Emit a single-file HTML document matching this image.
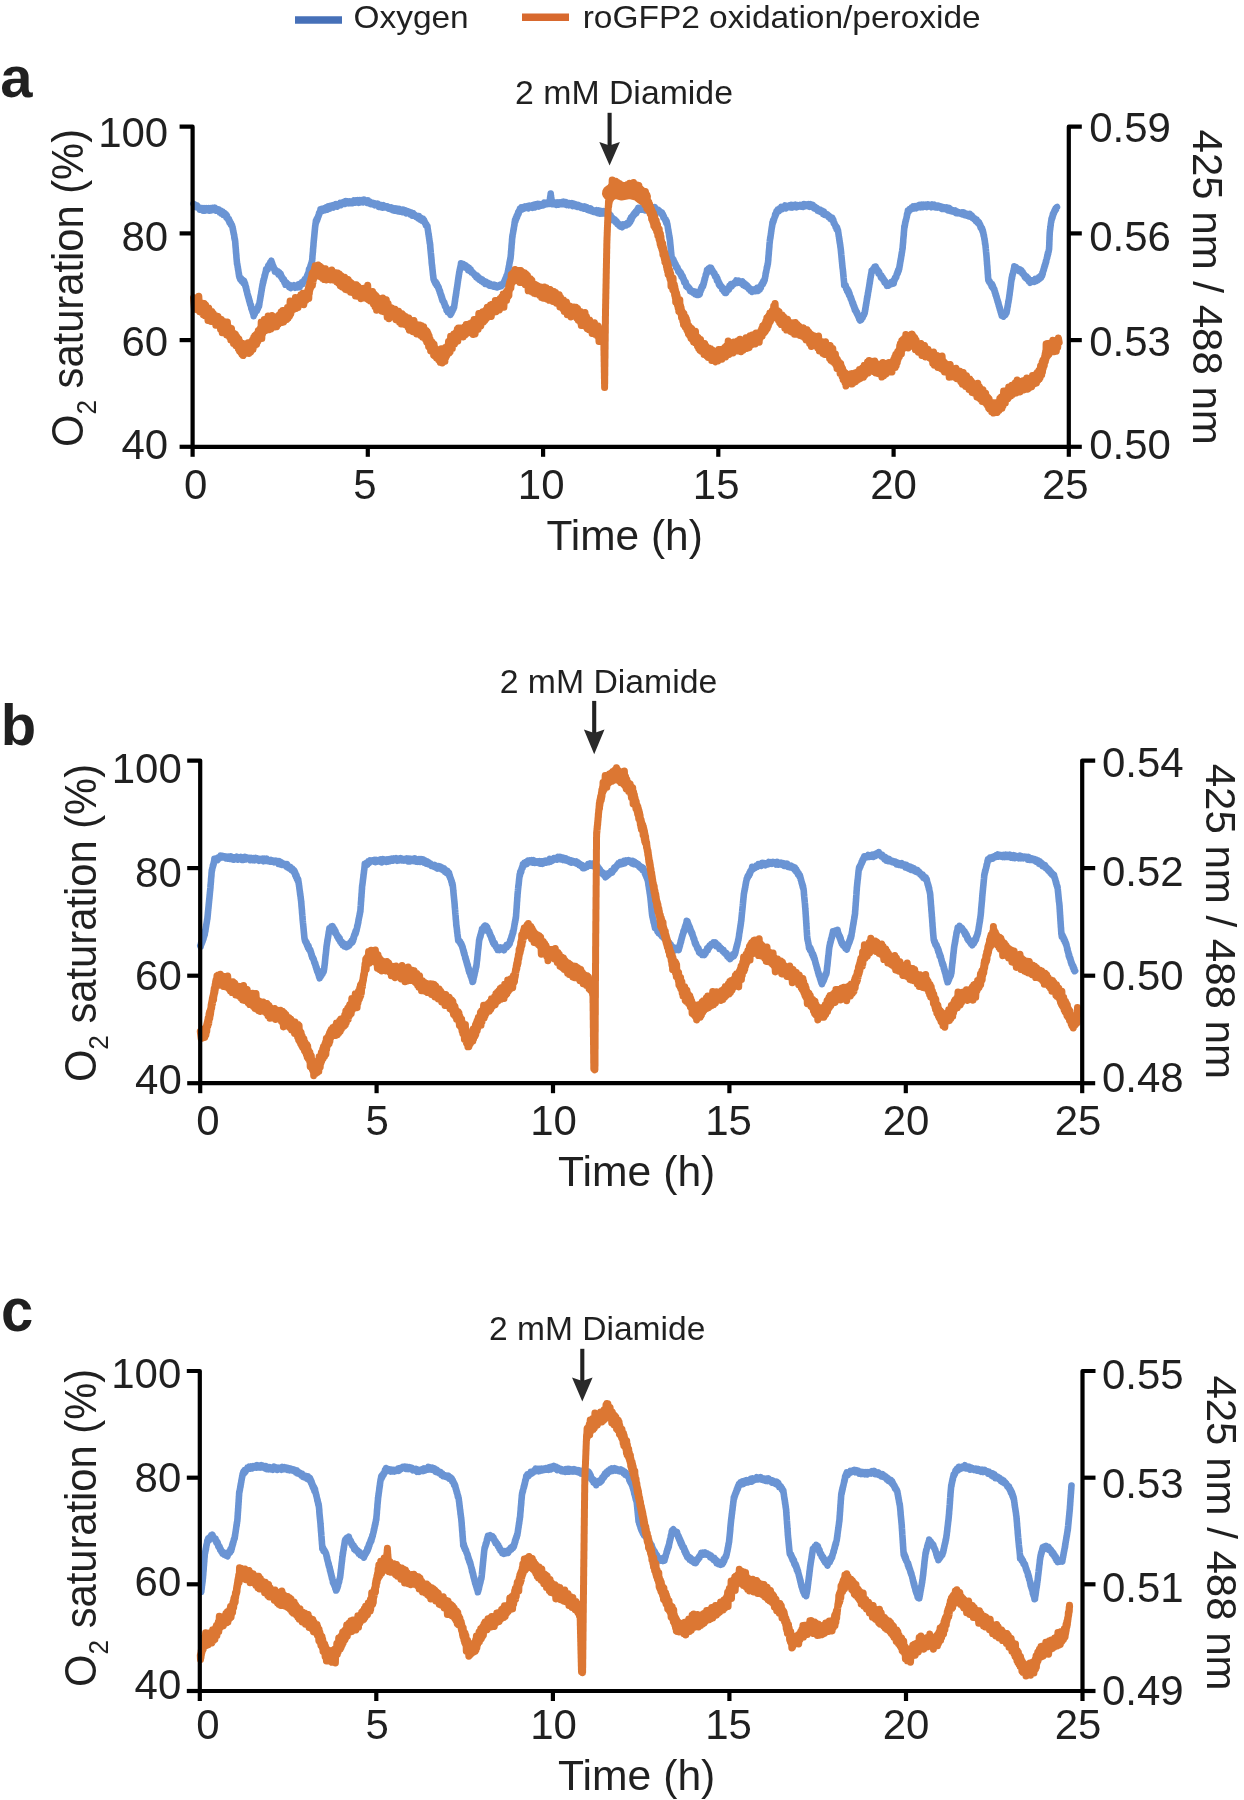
<!DOCTYPE html><html><head><meta charset="utf-8"><style>html,body{margin:0;padding:0;background:#fff;}svg{display:block;} svg text{filter:grayscale(1);}</style></head><body>
<svg width="1244" height="1800" viewBox="0 0 1244 1800">
<rect width="1244" height="1800" fill="#fff"/>
<line x1="295" y1="20" x2="342" y2="20" stroke="#4670b8" stroke-width="7.6"/>
<text transform="translate(411.1,28.4) scale(1.045,1)" font-size="32" text-anchor="middle" fill="#231f20" font-family="Liberation Sans, sans-serif">Oxygen</text>
<line x1="522" y1="17.2" x2="569" y2="17.2" stroke="#d8692e" stroke-width="7.6"/>
<text transform="translate(781.7,28.4) scale(1.046,1)" font-size="32" text-anchor="middle" fill="#231f20" font-family="Liberation Sans, sans-serif">roGFP2 oxidation/peroxide</text>
<text transform="translate(0.2,97) scale(1,1)" font-size="58" font-weight="bold" fill="#231f20" font-family="Liberation Sans, sans-serif">a</text>
<path d="M193.5,203.8 L194.4,206.1 L195.3,204.7 L196.2,207.2 L197.1,205.5 L198.0,207.6 L198.8,207.3 L199.7,209.6 L200.6,208.0 L201.5,209.9 L202.4,208.2 L203.4,210.7 L204.4,208.2 L205.5,210.5 L206.5,208.3 L207.5,210.0 L208.6,208.2 L209.6,210.7 L210.6,208.2 L211.7,210.4 L212.7,207.8 L213.7,209.5 L214.8,207.6 L215.7,210.5 L216.7,209.1 L217.7,210.8 L218.6,209.4 L219.6,212.3 L220.5,210.5 L221.5,213.7 L222.5,211.5 L223.4,214.8 L224.4,212.9 L225.4,215.6 L225.9,214.2 L226.4,217.5 L226.9,215.4 L227.4,218.3 L227.9,218.1 L228.4,220.2 L228.9,218.8 L229.4,222.2 L229.9,221.0 L230.4,223.8 L230.9,222.9 L231.4,225.7 L231.9,224.9 L232.4,227.2 L232.6,227.0 L232.8,229.4 L233.0,229.0 L233.2,231.5 L233.4,230.9 L233.6,233.5 L233.8,233.0 L234.0,235.0 L234.2,234.9 L234.3,237.6 L234.5,236.9 L234.7,239.4 L234.9,239.1 L235.1,240.9 L235.2,241.4 L235.3,243.1 L235.4,243.6 L235.4,244.9 L235.5,245.5 L235.6,247.2 L235.7,247.7 L235.8,249.2 L235.9,249.6 L235.9,251.0 L236.0,251.7 L236.1,253.2 L236.2,253.5 L236.3,255.0 L236.4,255.6 L236.4,257.0 L236.5,257.6 L236.6,259.1 L236.7,259.5 L236.8,261.3 L236.9,261.4 L237.0,263.7 L237.2,263.5 L237.4,265.1 L237.5,265.3 L237.7,267.1 L237.9,267.6 L238.0,269.3 L238.2,269.3 L238.4,271.2 L238.5,271.7 L238.7,273.6 L238.9,273.5 L239.0,275.6 L239.2,275.2 L239.4,277.3 L239.5,276.9 L240.3,279.7 L241.0,278.2 L241.8,281.3 L242.5,279.8 L243.3,282.8 L244.1,280.9 L244.8,283.9 L245.1,283.5 L245.3,286.1 L245.6,285.7 L245.8,287.8 L246.1,287.1 L246.3,290.0 L246.6,289.5 L246.8,291.6 L247.1,291.6 L247.3,294.1 L247.6,294.0 L247.9,296.1 L248.1,295.5 L248.4,297.7 L248.7,297.3 L249.0,300.1 L249.2,299.2 L249.5,302.0 L249.8,301.2 L250.1,304.3 L250.4,303.8 L250.7,305.6 L251.0,305.1 L251.3,308.5 L251.6,307.5 L251.9,309.9 L252.2,309.1 L252.5,311.8 L252.8,311.3 L253.1,313.7 L253.4,313.3 L253.7,316.1 L254.2,313.4 L254.7,314.1 L255.3,311.0 L255.8,311.9 L256.3,309.5 L256.9,311.0 L257.4,308.1 L257.9,308.6 L258.4,305.7 L259.0,306.5 L259.1,304.9 L259.3,304.6 L259.5,302.5 L259.6,302.4 L259.8,300.7 L260.0,300.5 L260.2,298.4 L260.3,298.5 L260.5,296.4 L260.7,296.4 L260.8,294.7 L261.0,294.6 L261.2,292.3 L261.3,292.5 L261.5,290.7 L261.7,290.3 L261.8,288.5 L262.0,288.3 L262.2,286.3 L262.3,286.6 L262.5,284.5 L262.8,284.5 L263.0,281.9 L263.3,282.8 L263.5,279.9 L263.8,280.5 L264.0,278.5 L264.3,278.4 L264.5,275.9 L264.8,276.4 L265.0,274.2 L265.3,274.5 L265.5,272.2 L265.8,272.5 L266.1,269.3 L266.6,270.5 L267.1,268.6 L267.6,269.7 L268.2,265.8 L268.7,268.0 L269.2,264.6 L269.8,266.2 L270.3,262.2 L270.8,263.5 L271.4,260.7 L271.7,264.3 L272.1,262.7 L272.5,265.9 L272.9,265.1 L273.3,267.7 L273.7,267.2 L274.1,269.3 L274.5,268.7 L274.9,271.5 L275.8,270.0 L276.7,272.4 L277.5,271.1 L278.4,274.4 L279.3,272.2 L280.2,275.8 L280.7,273.7 L281.3,277.2 L281.8,276.6 L282.3,279.2 L282.8,278.2 L283.4,280.4 L283.9,279.3 L284.4,282.4 L285.0,281.4 L285.5,284.7 L286.4,282.6 L287.3,285.2 L288.1,284.2 L289.0,287.0 L289.9,285.2 L290.8,288.1 L291.9,285.8 L293.0,287.1 L294.1,285.3 L295.2,287.7 L296.3,285.6 L297.4,287.4 L298.5,284.4 L299.6,287.2 L300.4,283.6 L301.1,284.7 L301.8,282.3 L302.5,284.1 L303.2,281.4 L303.9,281.8 L304.6,279.5 L305.3,280.5 L306.0,277.8 L306.7,278.8 L307.1,275.6 L307.4,276.3 L307.7,274.4 L308.0,274.4 L308.4,272.4 L308.7,272.3 L309.0,269.4 L309.4,271.2 L309.7,268.4 L310.0,268.8 L310.4,266.2 L310.7,266.6 L311.0,264.1 L311.4,265.0 L311.7,261.9 L312.0,262.1 L312.1,260.7 L312.2,260.1 L312.3,258.8 L312.4,258.2 L312.4,256.6 L312.5,256.1 L312.6,254.7 L312.7,254.0 L312.8,252.6 L312.9,252.1 L313.0,250.5 L313.0,250.1 L313.1,248.5 L313.2,248.1 L313.3,246.6 L313.4,246.0 L313.5,244.6 L313.5,244.1 L313.6,242.6 L313.7,242.1 L313.8,240.5 L313.9,240.0 L314.0,238.4 L314.1,238.0 L314.2,236.5 L314.3,235.9 L314.4,234.3 L314.5,233.9 L314.6,232.0 L314.7,231.7 L314.8,229.9 L314.9,229.7 L315.0,228.1 L315.1,227.5 L315.2,226.0 L315.4,225.6 L315.5,223.8 L315.6,224.5 L315.9,220.8 L316.3,222.4 L316.7,219.0 L317.1,220.4 L317.5,217.8 L317.8,218.5 L318.2,216.0 L318.6,216.1 L319.0,213.2 L319.4,214.0 L319.7,212.1 L320.1,212.2 L320.5,209.3 L320.9,210.4 L321.9,209.1 L323.0,210.7 L324.1,208.4 L325.1,210.1 L326.2,207.3 L327.2,209.6 L328.3,206.4 L329.4,208.8 L330.4,206.0 L331.5,207.6 L332.4,205.5 L333.4,207.5 L334.3,204.9 L335.3,206.3 L336.2,204.1 L337.2,206.6 L338.1,204.3 L339.1,205.2 L340.1,203.0 L341.0,205.1 L342.0,202.7 L342.9,203.7 L343.9,202.0 L344.9,203.8 L345.9,201.2 L346.9,203.3 L347.9,201.5 L348.9,203.2 L349.9,201.4 L350.9,203.0 L351.9,201.5 L353.0,203.0 L354.0,200.3 L355.0,202.7 L356.0,200.4 L357.0,202.2 L358.0,200.3 L359.0,202.8 L360.0,200.2 L361.0,202.3 L362.0,200.2 L363.1,202.3 L364.1,199.6 L365.1,201.5 L366.0,200.8 L367.0,202.9 L368.0,200.4 L368.9,203.3 L369.9,201.6 L370.9,204.1 L371.8,202.6 L372.8,204.2 L373.8,203.2 L374.7,205.3 L375.7,203.7 L376.7,205.4 L377.7,203.7 L378.6,206.8 L379.6,204.7 L380.6,207.0 L381.6,205.1 L382.6,207.6 L383.6,205.3 L384.5,207.4 L385.5,206.3 L386.5,207.6 L387.5,206.5 L388.5,208.5 L389.4,207.3 L390.4,209.0 L391.4,207.6 L392.4,210.0 L393.4,208.3 L394.4,210.7 L395.3,208.4 L396.3,210.7 L397.3,208.8 L398.3,211.4 L399.2,208.8 L400.2,211.5 L401.2,209.7 L402.2,212.1 L403.2,209.6 L404.1,212.2 L405.1,210.2 L406.1,213.3 L407.1,211.0 L408.2,213.0 L409.3,212.0 L410.2,214.4 L411.2,212.4 L412.1,215.6 L413.1,213.1 L414.0,215.7 L415.0,214.9 L415.9,216.7 L416.9,215.9 L417.9,218.2 L418.9,216.1 L420.0,219.5 L421.0,217.8 L422.0,220.5 L423.0,218.7 L423.5,221.3 L424.1,220.0 L424.6,222.7 L425.2,222.5 L425.8,225.3 L426.3,224.1 L426.9,226.5 L427.4,226.1 L427.6,228.2 L427.7,228.5 L427.9,230.1 L428.0,230.3 L428.2,232.2 L428.3,232.5 L428.5,234.4 L428.7,234.2 L428.8,236.3 L429.0,236.5 L429.1,238.3 L429.3,238.7 L429.4,240.6 L429.6,240.9 L429.7,242.8 L429.9,242.5 L430.1,244.4 L430.2,244.9 L430.2,246.5 L430.3,247.0 L430.4,248.7 L430.5,249.2 L430.6,250.7 L430.7,251.1 L430.8,252.8 L430.9,253.3 L431.0,254.8 L431.1,255.1 L431.2,256.9 L431.3,257.3 L431.4,258.7 L431.5,259.3 L431.6,260.9 L431.6,261.3 L431.7,263.0 L431.8,263.3 L431.9,264.9 L432.1,265.3 L432.2,267.1 L432.3,267.5 L432.4,269.2 L432.5,269.3 L432.6,270.9 L432.7,271.2 L432.8,272.9 L432.9,273.4 L433.0,275.1 L433.2,275.3 L433.3,277.0 L433.4,277.3 L433.5,279.0 L433.6,278.9 L434.2,281.1 L434.7,280.9 L435.3,283.5 L435.8,281.9 L436.4,285.1 L436.9,283.7 L437.5,286.7 L438.0,286.0 L438.4,288.5 L438.7,287.2 L439.0,290.0 L439.4,289.5 L439.7,292.2 L440.1,291.1 L440.4,294.2 L440.7,293.5 L441.1,296.2 L441.4,295.2 L441.8,298.5 L442.1,297.3 L442.4,300.5 L442.8,299.5 L443.2,301.7 L443.6,301.5 L444.0,303.5 L444.4,302.6 L444.9,306.1 L445.3,305.2 L445.7,307.4 L446.1,306.9 L446.5,310.0 L446.9,308.3 L447.6,311.9 L448.3,310.4 L449.0,312.9 L449.7,312.4 L450.4,314.8 L450.9,312.2 L451.4,313.4 L451.9,310.8 L452.4,311.3 L452.9,308.4 L453.4,309.3 L453.9,307.3 L454.1,307.5 L454.3,305.2 L454.4,305.2 L454.6,303.3 L454.7,303.2 L454.9,301.2 L455.0,301.4 L455.2,299.1 L455.3,298.9 L455.5,296.9 L455.7,296.9 L455.8,295.0 L456.0,295.0 L456.1,293.2 L456.3,292.9 L456.4,290.8 L456.6,290.7 L456.7,288.8 L456.9,288.6 L457.1,286.9 L457.2,286.6 L457.4,284.9 L457.5,284.5 L457.7,282.5 L457.8,282.4 L458.0,280.4 L458.1,280.6 L458.3,278.2 L458.5,278.0 L458.6,276.2 L458.8,276.2 L458.9,274.5 L459.1,274.0 L459.2,272.2 L459.5,271.9 L459.7,269.9 L459.9,270.6 L460.1,268.1 L460.3,268.6 L460.6,265.8 L460.8,266.0 L461.0,263.2 L462.1,266.2 L463.2,264.0 L464.3,267.2 L465.4,265.1 L466.3,267.9 L467.2,266.5 L468.1,270.1 L469.0,267.9 L469.9,271.0 L470.7,269.5 L471.5,272.5 L472.3,271.8 L473.0,273.5 L473.8,273.3 L474.5,275.2 L475.3,274.8 L476.1,277.1 L476.9,275.5 L477.8,278.5 L478.7,277.2 L479.6,279.9 L480.5,278.7 L481.4,281.0 L482.2,279.4 L483.1,282.3 L484.1,281.3 L485.1,283.9 L486.1,281.7 L487.2,284.3 L488.2,283.1 L489.2,285.5 L490.2,283.8 L491.2,285.9 L492.2,285.1 L493.2,286.4 L494.2,284.6 L495.2,286.8 L496.3,285.5 L497.3,287.4 L498.3,285.7 L499.4,286.6 L500.4,284.8 L501.5,285.9 L502.6,284.5 L503.1,284.5 L503.6,282.4 L504.0,283.0 L504.5,280.6 L505.0,280.5 L505.5,278.1 L506.0,279.0 L506.5,275.9 L507.0,276.4 L507.2,274.6 L507.4,274.7 L507.6,272.9 L507.8,273.1 L508.0,270.8 L508.2,270.5 L508.4,268.7 L508.6,268.6 L508.8,266.6 L509.0,266.8 L509.2,265.0 L509.3,264.6 L509.5,262.6 L509.7,262.8 L509.9,260.6 L510.1,261.0 L510.3,258.5 L510.5,258.6 L510.6,257.2 L510.7,256.6 L510.8,255.1 L510.9,254.7 L511.0,253.2 L511.0,252.5 L511.1,251.0 L511.2,250.7 L511.3,249.1 L511.4,248.4 L511.5,247.2 L511.5,246.4 L511.6,245.1 L511.7,244.4 L511.8,243.1 L511.9,242.5 L512.0,240.9 L512.0,240.4 L512.1,238.8 L512.2,238.5 L512.3,236.5 L512.5,236.9 L512.6,234.5 L512.8,234.4 L513.0,232.8 L513.1,232.8 L513.3,230.5 L513.5,230.5 L513.6,228.9 L513.8,229.0 L514.0,227.0 L514.1,226.7 L514.3,224.9 L514.5,224.9 L514.6,222.5 L514.8,222.6 L515.0,220.0 L515.4,221.6 L515.8,218.0 L516.2,219.5 L516.6,216.0 L517.0,217.4 L517.4,214.7 L517.8,215.3 L518.2,212.3 L518.6,213.7 L519.0,211.0 L519.4,211.4 L519.9,208.6 L520.3,210.0 L521.3,207.4 L522.3,209.3 L523.3,207.2 L524.3,208.5 L525.3,206.4 L526.3,207.8 L527.3,206.2 L528.4,208.3 L529.5,205.6 L530.5,207.1 L531.6,205.7 L532.6,207.7 L533.7,204.9 L534.8,207.4 L535.8,204.3 L536.9,206.5 L537.9,203.9 L539.0,206.5 L540.0,204.2 L541.1,205.6 L542.1,204.1 L543.2,205.3 L544.2,202.7 L545.3,204.5 L546.3,202.7 L547.3,204.1 L548.4,202.9 L549.4,203.7 L549.6,201.9 L549.7,201.3 L549.9,199.9 L550.0,199.5 L550.1,197.6 L550.3,197.2 L550.4,195.7 L550.5,195.6 L550.7,193.6 L550.8,195.4 L551.0,195.7 L551.1,197.7 L551.3,197.7 L551.5,199.9 L551.6,199.9 L551.8,201.7 L551.9,202.3 L552.1,204.1 L553.2,202.1 L554.2,204.0 L555.3,202.9 L556.3,204.8 L557.4,202.5 L558.5,204.5 L559.5,202.5 L560.6,203.9 L561.6,202.1 L562.7,204.1 L563.7,201.8 L564.8,204.3 L565.8,202.1 L566.8,205.0 L567.9,203.0 L568.9,205.2 L569.9,203.3 L571.0,205.0 L572.0,203.3 L573.0,206.0 L574.0,203.8 L575.1,206.0 L576.1,204.6 L577.2,206.9 L578.3,204.9 L579.3,206.9 L580.4,205.9 L581.4,207.9 L582.5,206.7 L583.6,208.6 L584.6,206.5 L585.7,208.9 L586.7,207.2 L587.7,209.9 L588.6,208.5 L589.6,210.4 L590.6,208.4 L591.6,211.2 L592.6,209.9 L593.5,211.7 L594.5,210.9 L595.6,212.3 L596.7,210.3 L597.8,213.2 L598.9,210.5 L600.0,213.7 L601.1,211.0 L602.3,213.6 L603.4,211.1 L604.6,213.3 L605.8,211.2 L607.1,214.5 L607.8,212.2 L608.5,215.5 L609.2,213.8 L609.9,216.8 L610.6,215.0 L611.3,218.8 L612.0,217.3 L612.7,220.2 L613.4,218.8 L614.1,220.6 L614.9,219.6 L615.7,222.3 L616.5,221.2 L617.3,224.0 L618.1,223.1 L618.9,225.5 L619.6,224.2 L620.4,226.5 L621.2,225.5 L622.2,227.2 L623.2,224.3 L624.3,225.9 L625.3,224.3 L626.3,225.2 L627.3,223.1 L628.3,224.2 L628.8,222.2 L629.4,223.2 L629.9,219.8 L630.4,221.7 L631.0,217.7 L631.5,219.8 L632.0,216.6 L632.5,217.2 L633.1,214.9 L633.6,215.8 L634.3,213.0 L634.9,214.3 L635.6,211.7 L636.3,213.2 L636.9,210.2 L637.6,211.1 L638.2,207.9 L638.9,210.0 L639.9,208.0 L640.9,209.6 L641.9,207.6 L643.0,209.6 L644.0,208.7 L645.0,210.4 L646.0,208.5 L647.1,210.0 L648.2,208.8 L649.3,209.8 L650.4,207.8 L651.5,209.9 L652.6,207.3 L653.7,210.1 L654.8,207.1 L655.7,209.6 L656.6,209.1 L657.5,210.7 L658.4,209.9 L659.2,212.2 L660.1,211.5 L661.0,213.6 L661.9,212.5 L662.4,214.8 L662.9,214.3 L663.3,217.3 L663.8,216.0 L664.3,218.6 L664.8,218.4 L665.3,220.7 L665.8,219.6 L666.2,222.9 L666.7,221.2 L667.2,224.3 L667.4,224.3 L667.5,225.9 L667.7,226.0 L667.9,228.3 L668.0,228.2 L668.2,230.3 L668.4,230.1 L668.5,232.0 L668.7,232.3 L668.9,233.8 L669.0,234.1 L669.2,236.4 L669.4,235.9 L669.5,238.1 L669.7,238.0 L669.9,240.1 L670.0,240.3 L670.1,242.0 L670.2,242.5 L670.3,244.1 L670.4,244.6 L670.5,246.0 L670.6,246.5 L670.7,248.4 L670.8,248.6 L670.9,250.2 L671.0,250.8 L671.1,252.3 L671.2,252.7 L671.3,254.4 L671.4,254.7 L671.5,256.4 L671.6,256.5 L672.1,259.2 L672.6,258.3 L673.1,261.6 L673.6,259.8 L674.1,263.7 L674.6,262.0 L675.1,264.6 L675.6,264.0 L676.0,267.2 L676.6,266.0 L677.1,268.6 L677.6,267.5 L678.2,271.1 L678.7,270.0 L679.2,272.6 L679.8,271.5 L680.3,274.2 L680.8,272.6 L681.4,276.5 L681.8,274.7 L682.3,277.5 L682.8,276.3 L683.3,279.4 L683.8,278.9 L684.2,282.1 L684.7,280.9 L685.2,283.4 L685.7,282.1 L686.2,286.1 L686.7,284.8 L687.3,287.2 L688.0,286.4 L688.6,288.4 L689.3,288.0 L690.0,291.0 L690.6,289.7 L691.3,291.7 L692.0,291.1 L693.0,292.6 L694.0,291.5 L695.0,294.2 L696.0,291.9 L697.0,294.8 L698.0,292.6 L699.0,294.8 L699.4,292.7 L699.8,294.0 L700.2,291.0 L700.6,291.3 L701.0,288.6 L701.5,289.3 L701.9,286.6 L702.3,287.1 L702.7,285.0 L703.1,286.3 L703.5,283.3 L703.8,284.0 L704.0,281.2 L704.3,282.0 L704.6,278.7 L704.9,279.6 L705.2,277.1 L705.5,277.0 L705.8,274.5 L706.1,275.0 L706.4,273.0 L706.7,273.6 L707.0,270.0 L707.7,271.2 L708.4,268.5 L709.1,270.3 L709.8,267.7 L710.5,268.4 L711.1,267.9 L711.6,271.2 L712.2,269.8 L712.7,272.0 L713.3,271.7 L713.8,273.7 L714.4,273.2 L715.0,276.4 L715.4,275.4 L715.9,277.5 L716.4,276.3 L716.9,280.4 L717.4,278.2 L717.8,281.4 L718.3,280.9 L718.8,284.2 L719.3,282.7 L719.8,285.8 L720.3,284.8 L720.9,286.9 L721.6,286.5 L722.2,289.5 L722.9,287.8 L723.6,291.1 L724.2,289.9 L724.9,292.8 L725.6,291.7 L726.2,292.8 L726.9,289.5 L727.6,290.6 L728.2,288.0 L728.9,289.7 L729.5,285.9 L730.2,287.1 L730.9,284.0 L731.8,286.4 L732.6,283.8 L733.5,284.5 L734.4,282.6 L735.3,283.1 L736.2,280.5 L737.2,282.9 L738.3,280.6 L739.4,282.6 L740.4,281.6 L741.5,283.5 L742.4,281.4 L743.2,285.1 L744.1,283.0 L745.0,286.0 L745.9,284.4 L746.8,287.0 L747.7,286.1 L748.5,288.8 L749.4,288.1 L750.3,290.5 L751.2,289.3 L752.1,291.9 L753.1,289.8 L754.1,291.1 L755.1,289.3 L756.1,291.0 L757.1,288.0 L758.1,290.9 L759.2,287.7 L759.7,289.6 L760.2,286.6 L760.8,288.0 L761.3,284.8 L761.8,285.2 L762.3,282.8 L762.9,284.2 L763.4,281.2 L763.9,282.3 L764.5,279.8 L764.7,280.2 L764.9,277.7 L765.1,277.9 L765.3,275.7 L765.5,276.2 L765.6,273.4 L765.8,274.0 L766.0,271.8 L766.2,272.1 L766.4,270.1 L766.6,270.0 L766.8,267.6 L767.0,268.2 L767.2,266.2 L767.4,266.3 L767.6,264.0 L767.8,264.4 L768.0,262.3 L768.1,261.7 L768.2,260.3 L768.3,259.9 L768.3,258.3 L768.4,257.9 L768.5,256.2 L768.6,255.7 L768.7,254.3 L768.8,253.7 L768.8,252.3 L768.9,251.7 L769.0,250.2 L769.1,249.8 L769.2,248.2 L769.3,247.6 L769.4,246.3 L769.4,245.6 L769.5,244.1 L769.6,243.6 L769.7,242.3 L769.8,241.8 L769.9,240.0 L770.1,239.5 L770.2,237.8 L770.4,237.9 L770.6,235.7 L770.7,235.7 L770.9,233.5 L771.0,233.7 L771.2,231.3 L771.3,231.4 L771.5,229.4 L771.6,229.1 L771.8,227.2 L772.0,227.2 L772.1,225.3 L772.3,225.4 L772.4,222.9 L772.8,223.3 L773.1,220.4 L773.4,221.9 L773.8,219.3 L774.1,219.3 L774.5,217.1 L774.8,217.4 L775.1,214.6 L775.5,215.7 L775.8,213.4 L776.2,214.1 L776.5,211.2 L776.9,212.2 L777.7,209.6 L778.6,211.4 L779.5,208.7 L780.4,209.6 L781.3,206.9 L782.2,209.2 L783.0,206.9 L783.9,207.8 L785.0,205.5 L786.0,208.3 L787.1,206.1 L788.2,206.9 L789.2,205.4 L790.3,207.2 L791.3,204.8 L792.4,207.5 L793.5,205.3 L794.5,206.9 L795.6,204.8 L796.7,207.3 L797.8,205.1 L798.9,206.5 L800.0,205.0 L801.0,206.6 L802.1,204.9 L803.1,206.8 L804.1,204.2 L805.1,206.2 L806.2,204.6 L807.3,205.9 L808.4,204.3 L809.5,206.7 L810.6,204.3 L811.7,206.7 L812.9,204.9 L814.0,208.3 L814.9,206.6 L815.8,208.8 L816.7,207.9 L817.6,210.7 L818.5,209.1 L819.4,211.3 L820.3,209.6 L821.2,212.1 L822.1,210.6 L823.0,214.0 L823.9,211.6 L824.8,214.9 L825.6,213.6 L826.5,215.3 L827.4,214.5 L828.3,216.8 L829.2,216.0 L830.1,218.6 L830.9,217.1 L831.8,219.7 L832.3,217.8 L832.8,220.8 L833.3,219.7 L833.7,223.0 L834.2,222.5 L834.7,224.7 L835.2,224.6 L835.6,227.0 L836.1,226.1 L836.6,229.3 L837.1,227.4 L837.5,230.3 L838.0,230.3 L838.2,232.2 L838.3,232.5 L838.5,234.2 L838.6,234.6 L838.8,236.5 L839.0,236.6 L839.1,238.3 L839.3,238.8 L839.4,240.5 L839.6,240.7 L839.7,242.5 L839.9,242.7 L840.1,244.6 L840.2,244.8 L840.4,246.9 L840.5,247.2 L840.7,248.9 L840.8,249.2 L840.9,250.9 L841.0,251.2 L841.1,253.0 L841.2,253.4 L841.3,254.8 L841.4,255.3 L841.5,257.2 L841.6,257.5 L841.7,259.2 L841.8,259.6 L841.9,261.3 L842.0,261.6 L842.1,263.2 L842.2,263.6 L842.3,265.5 L842.4,265.8 L842.5,267.6 L842.6,267.9 L842.8,269.4 L842.9,269.9 L843.0,271.5 L843.1,271.9 L843.2,273.7 L843.3,274.2 L843.4,275.8 L843.5,276.1 L843.6,277.8 L843.7,278.3 L843.8,280.0 L843.9,280.4 L844.0,282.0 L844.1,282.4 L844.2,285.2 L844.7,284.1 L845.2,286.2 L845.7,285.4 L846.1,288.7 L846.6,287.8 L847.1,291.0 L847.6,289.1 L848.1,292.6 L848.6,290.9 L849.0,294.8 L849.5,293.1 L849.9,296.1 L850.2,295.9 L850.6,298.5 L850.9,296.9 L851.3,299.9 L851.6,299.1 L852.0,302.1 L852.3,301.2 L852.7,304.1 L853.1,302.8 L853.4,305.6 L853.8,305.2 L854.1,307.7 L854.5,306.8 L854.8,309.8 L855.3,308.9 L855.7,311.3 L856.1,310.8 L856.6,313.3 L857.0,312.2 L857.5,314.8 L857.9,314.8 L858.4,317.2 L858.8,316.5 L859.2,319.1 L859.7,318.5 L860.1,320.6 L860.8,318.1 L861.4,319.8 L862.0,316.0 L862.7,317.5 L863.3,314.7 L863.9,315.2 L864.5,313.5 L864.7,313.2 L864.9,311.1 L865.1,311.1 L865.2,309.1 L865.4,309.3 L865.6,307.3 L865.7,307.1 L865.9,305.0 L866.1,305.1 L866.2,303.2 L866.4,303.2 L866.6,301.4 L866.7,301.0 L866.9,298.9 L867.1,299.4 L867.2,297.0 L867.4,297.4 L867.6,295.4 L867.8,295.3 L867.9,293.0 L868.1,292.9 L868.3,291.1 L868.4,291.4 L868.6,289.2 L868.8,289.2 L868.9,287.3 L869.1,287.2 L869.3,285.2 L869.4,285.0 L869.6,283.1 L869.8,283.2 L869.9,280.9 L870.1,281.0 L870.3,278.9 L870.4,278.9 L870.6,276.8 L870.8,276.8 L870.9,275.0 L871.1,275.0 L871.3,273.0 L871.5,272.7 L871.6,270.8 L872.3,271.7 L873.0,269.0 L873.7,270.1 L874.5,266.9 L875.2,268.5 L875.7,266.5 L876.3,270.0 L876.8,268.8 L877.4,271.0 L878.0,270.3 L878.5,273.6 L879.1,271.7 L879.7,274.7 L880.2,274.4 L880.8,277.4 L881.4,275.4 L882.0,278.6 L882.6,277.2 L883.2,280.0 L883.8,279.2 L884.4,282.3 L885.1,280.9 L885.7,283.5 L886.3,283.2 L886.9,285.8 L887.5,284.1 L888.4,285.6 L889.3,284.1 L890.2,284.5 L891.1,282.2 L892.0,283.9 L892.8,281.6 L893.7,283.6 L894.1,279.9 L894.5,280.8 L895.0,277.9 L895.4,278.6 L895.8,276.5 L896.2,277.5 L896.6,274.7 L897.0,274.8 L897.4,272.4 L897.8,273.3 L898.2,270.0 L898.6,271.1 L899.0,268.9 L899.2,269.0 L899.4,266.9 L899.5,267.1 L899.7,265.0 L899.9,265.0 L900.0,263.2 L900.2,263.0 L900.4,260.9 L900.6,260.9 L900.7,259.2 L900.9,259.0 L901.1,257.3 L901.2,256.9 L901.4,255.0 L901.6,255.0 L901.7,252.9 L901.9,252.8 L902.1,251.3 L902.2,250.7 L902.4,249.0 L902.6,248.6 L902.7,247.2 L902.7,246.6 L902.8,245.1 L902.9,244.7 L903.0,243.1 L903.1,242.7 L903.2,241.1 L903.2,240.6 L903.3,239.1 L903.4,238.4 L903.5,237.0 L903.6,236.6 L903.7,235.2 L903.8,234.7 L903.8,233.0 L903.9,232.6 L904.0,231.0 L904.1,230.4 L904.2,228.8 L904.3,228.4 L904.3,226.7 L904.6,227.3 L904.8,224.9 L905.0,224.9 L905.2,222.6 L905.4,222.7 L905.7,220.3 L905.9,220.8 L906.1,219.0 L906.3,218.9 L906.6,217.0 L906.8,217.1 L907.0,214.3 L907.2,215.2 L907.4,213.0 L907.7,213.1 L907.9,210.5 L908.8,211.5 L909.6,209.1 L910.5,209.8 L911.4,207.8 L912.3,208.8 L913.2,206.4 L914.2,208.3 L915.3,206.2 L916.4,208.2 L917.4,205.9 L918.5,206.9 L919.5,205.0 L920.6,207.3 L921.7,204.8 L922.7,207.1 L923.8,204.8 L924.9,206.5 L925.9,204.8 L927.0,207.0 L928.0,204.4 L929.1,206.4 L930.2,205.5 L931.2,207.2 L932.3,204.5 L933.3,206.9 L934.4,204.7 L935.4,207.3 L936.5,205.6 L937.5,207.6 L938.5,205.7 L939.6,207.5 L940.6,206.5 L941.6,208.8 L942.7,207.0 L943.7,208.9 L944.7,207.5 L945.7,209.2 L946.8,207.5 L948.0,210.4 L949.2,207.9 L950.2,210.8 L951.2,209.5 L952.2,211.3 L953.2,210.4 L954.2,211.9 L955.2,210.5 L956.2,213.0 L957.2,211.6 L958.2,213.2 L959.2,212.4 L960.8,213.8 L961.8,212.4 L962.8,214.4 L963.8,212.4 L964.8,215.2 L965.8,213.5 L966.8,215.5 L967.8,214.3 L968.8,216.3 L969.8,213.9 L970.9,216.8 L971.7,215.3 L972.5,218.0 L973.3,217.3 L974.1,219.2 L974.9,218.6 L975.7,221.0 L976.5,219.4 L977.3,222.4 L978.1,221.3 L978.6,223.7 L979.1,222.4 L979.6,225.2 L980.1,224.3 L980.5,227.2 L981.0,226.6 L981.5,229.1 L982.0,228.0 L982.5,231.2 L982.8,230.1 L983.1,232.8 L983.3,232.3 L983.6,235.5 L983.9,235.0 L984.1,237.3 L984.2,237.3 L984.4,239.2 L984.6,239.0 L984.7,240.9 L984.9,241.2 L985.0,243.4 L985.2,243.4 L985.4,245.2 L985.5,245.4 L985.6,247.1 L985.7,247.7 L985.8,249.1 L985.9,249.6 L986.0,251.3 L986.1,251.8 L986.2,253.3 L986.3,253.7 L986.4,255.3 L986.5,256.0 L986.6,257.6 L986.7,258.1 L986.7,259.5 L986.8,260.0 L986.9,261.5 L987.0,262.2 L987.0,263.7 L987.1,264.2 L987.2,265.5 L987.3,266.1 L987.4,267.6 L987.4,268.1 L987.5,269.6 L987.6,270.3 L987.7,271.7 L987.7,272.3 L987.8,273.8 L987.9,274.4 L988.0,275.8 L988.0,276.4 L988.1,277.9 L988.2,278.3 L988.3,280.2 L988.3,278.8 L988.9,281.6 L989.6,281.2 L990.2,283.5 L990.8,283.1 L991.4,286.1 L992.0,283.9 L992.6,287.8 L992.8,285.6 L993.2,288.2 L993.5,287.7 L993.9,290.0 L994.3,289.0 L994.7,292.2 L995.1,291.7 L995.5,294.8 L995.9,294.1 L996.3,297.2 L996.6,296.5 L996.9,299.1 L997.2,298.8 L997.5,301.5 L997.8,300.7 L998.1,303.1 L998.4,302.6 L998.7,305.5 L999.0,305.1 L999.3,307.2 L999.6,307.0 L999.8,309.3 L1000.1,308.6 L1000.5,311.6 L1000.8,311.4 L1001.1,313.6 L1001.4,313.5 L1001.7,315.6 L1002.0,314.9 L1003.4,316.6 L1004.4,314.1 L1005.4,314.9 L1006.4,312.7 L1006.6,312.7 L1006.9,310.1 L1007.1,310.2 L1007.3,308.0 L1007.4,307.7 L1007.6,306.1 L1007.8,306.1 L1008.0,303.8 L1008.2,303.7 L1008.3,301.7 L1008.5,301.9 L1008.7,299.7 L1008.9,299.6 L1009.1,297.7 L1009.2,297.2 L1009.4,295.4 L1009.6,294.8 L1009.7,293.0 L1009.8,292.7 L1010.0,291.0 L1010.1,290.8 L1010.2,289.1 L1010.4,288.9 L1010.5,287.0 L1010.6,286.8 L1010.8,284.9 L1010.9,284.7 L1011.0,282.8 L1011.1,282.3 L1011.3,280.7 L1011.4,281.0 L1011.7,277.9 L1012.0,278.6 L1012.2,275.4 L1012.5,275.7 L1012.7,273.7 L1013.0,273.6 L1013.3,271.2 L1013.5,271.7 L1013.8,269.1 L1014.0,269.8 L1014.3,266.2 L1014.9,269.2 L1015.9,267.0 L1017.0,269.9 L1018.0,268.7 L1019.1,271.0 L1020.1,269.5 L1020.7,271.3 L1021.4,270.2 L1022.0,273.1 L1022.7,272.0 L1023.3,274.4 L1024.0,274.1 L1024.6,276.9 L1025.2,275.9 L1025.9,278.2 L1026.6,276.4 L1027.3,279.3 L1028.1,278.1 L1028.8,281.4 L1029.5,279.7 L1030.2,282.9 L1031.3,280.1 L1032.3,281.5 L1033.3,280.3 L1034.4,281.8 L1035.4,278.9 L1036.4,281.0 L1037.5,279.0 L1038.2,279.9 L1038.9,277.2 L1039.6,278.9 L1040.4,276.2 L1041.1,277.7 L1041.8,275.3 L1042.1,275.9 L1042.4,272.7 L1042.7,274.1 L1043.0,271.3 L1043.2,271.5 L1043.5,269.5 L1043.8,270.3 L1044.1,267.2 L1044.4,267.8 L1044.7,265.2 L1045.0,266.2 L1045.3,263.5 L1045.6,263.9 L1045.9,261.1 L1046.1,262.3 L1046.4,259.8 L1046.6,259.7 L1046.9,257.3 L1047.1,258.3 L1047.3,255.6 L1047.6,256.1 L1047.8,253.4 L1048.1,254.2 L1048.3,252.0 L1048.6,251.9 L1048.8,250.0 L1049.0,249.7 L1049.1,248.5 L1049.1,247.8 L1049.2,246.4 L1049.2,245.7 L1049.3,244.4 L1049.3,243.6 L1049.3,242.3 L1049.4,241.6 L1049.4,240.3 L1049.5,239.6 L1049.5,238.3 L1049.5,237.5 L1049.6,236.2 L1049.6,235.5 L1049.7,234.2 L1049.7,233.4 L1049.8,232.0 L1049.9,231.6 L1050.0,229.8 L1050.2,229.4 L1050.3,227.9 L1050.4,227.3 L1050.6,225.6 L1050.7,225.4 L1050.8,223.8 L1050.9,223.1 L1051.1,221.6 L1051.2,222.1 L1051.5,218.9 L1051.8,219.6 L1052.1,217.0 L1052.5,217.7 L1052.8,214.4 L1053.1,215.6 L1053.4,213.1 L1053.9,213.5 L1054.4,210.7 L1054.9,211.2 L1055.4,208.5 L1056.0,209.7 L1056.5,207.2 L1057.0,207.0" fill="none" stroke="#6a94d4" stroke-width="6.6" stroke-linejoin="round" stroke-linecap="round"/>
<path d="M610.0,193.0 L615.0,190.5 L622.0,192.5 L630.0,191.0 L638.0,193.0 L643.0,197.0" fill="none" stroke="#dc7733" stroke-width="16" stroke-linejoin="round" stroke-linecap="round"/>
<path d="M193.5,297.8 L194.4,308.1 L195.3,298.1 L196.2,309.6 L197.1,300.3 L198.0,309.4 L198.8,296.2 L199.7,311.8 L200.6,303.4 L201.5,312.5 L202.4,303.3 L203.3,314.7 L204.2,303.5 L204.9,315.8 L205.7,304.9 L206.5,315.9 L207.2,308.3 L208.0,320.6 L208.8,307.9 L209.6,318.1 L210.3,311.9 L211.1,321.4 L211.9,311.6 L212.7,320.5 L213.4,313.4 L214.2,321.7 L215.0,315.7 L215.8,325.3 L216.5,315.9 L217.3,324.8 L218.1,316.6 L218.9,325.6 L219.7,319.4 L220.5,329.2 L221.4,319.6 L222.2,332.7 L223.0,321.4 L223.8,329.4 L224.6,321.8 L225.4,333.3 L226.1,324.4 L226.7,335.0 L227.4,321.9 L228.1,335.2 L228.8,327.1 L229.5,337.1 L230.1,329.6 L230.8,340.1 L231.5,328.6 L232.2,338.7 L232.8,333.0 L233.5,343.5 L234.2,333.5 L234.8,343.5 L235.4,334.3 L236.0,345.8 L236.6,336.2 L237.2,345.6 L237.7,337.9 L238.3,348.9 L238.9,338.9 L239.5,351.1 L240.1,341.8 L240.7,352.4 L241.3,344.8 L241.9,354.3 L242.5,343.3 L243.1,355.6 L244.1,345.2 L245.1,353.5 L246.1,346.4 L247.1,353.1 L248.1,342.8 L249.1,353.4 L250.1,343.3 L250.7,352.1 L251.3,342.0 L251.9,350.2 L252.5,340.0 L253.1,349.2 L253.7,337.4 L254.3,345.7 L254.8,335.7 L255.4,345.2 L256.0,334.7 L256.6,344.2 L257.2,333.3 L257.7,341.6 L258.2,330.8 L258.7,339.8 L259.2,329.9 L259.7,339.0 L260.2,328.4 L260.7,338.0 L261.2,321.9 L261.8,338.5 L262.3,325.1 L262.8,333.3 L263.3,323.8 L263.8,329.8 L264.3,319.5 L265.2,330.8 L266.2,321.3 L267.2,329.1 L268.1,316.1 L269.1,329.8 L270.1,319.0 L271.0,328.9 L272.0,315.6 L273.0,325.9 L273.9,316.6 L274.9,327.1 L275.8,318.0 L276.7,326.8 L277.5,317.2 L278.4,324.4 L279.3,314.8 L280.2,322.7 L281.1,312.1 L282.0,322.4 L282.8,310.5 L283.7,321.9 L284.6,311.5 L285.5,319.5 L286.2,309.8 L286.8,319.5 L287.5,307.6 L288.2,318.1 L288.8,307.0 L289.5,316.2 L290.1,301.1 L290.8,313.9 L291.5,304.4 L292.1,310.4 L292.8,302.1 L293.5,309.4 L294.1,300.6 L294.8,308.7 L295.4,297.5 L296.1,308.5 L297.1,297.8 L298.0,307.6 L299.0,297.9 L300.0,304.1 L300.9,294.8 L301.9,303.7 L302.9,293.3 L303.8,304.8 L304.8,293.3 L305.8,300.9 L306.7,292.8 L307.0,299.2 L307.3,291.4 L307.6,298.1 L307.9,289.8 L308.2,295.5 L308.5,287.3 L308.8,298.5 L309.1,285.9 L309.4,293.1 L309.7,283.1 L310.0,289.6 L310.3,282.1 L310.6,287.8 L310.8,279.2 L311.1,286.4 L311.4,277.2 L311.7,283.4 L312.0,273.7 L312.4,285.4 L312.7,272.8 L313.0,282.4 L313.3,272.8 L313.6,279.1 L314.0,270.9 L314.3,277.3 L314.6,267.9 L314.9,274.6 L315.2,265.7 L315.6,272.3 L316.4,266.1 L317.3,273.5 L318.2,265.0 L319.1,276.1 L320.0,266.2 L320.9,276.9 L321.8,267.7 L322.6,278.4 L323.5,270.1 L324.4,279.6 L325.5,268.7 L326.5,279.9 L327.6,270.9 L328.7,278.6 L329.7,272.1 L330.8,279.9 L331.8,269.9 L332.9,279.9 L334.0,272.4 L335.0,280.4 L335.9,272.8 L336.8,282.0 L337.7,273.0 L338.6,283.3 L339.4,273.9 L340.3,285.7 L341.2,275.7 L342.1,287.0 L343.0,277.2 L343.9,287.6 L344.7,277.2 L345.6,289.5 L346.5,279.3 L347.3,290.1 L348.1,279.6 L348.9,288.8 L349.8,281.6 L350.6,292.2 L351.4,283.0 L352.2,291.5 L353.1,284.7 L353.9,293.3 L354.7,284.7 L355.5,296.0 L356.4,284.7 L357.2,296.2 L358.0,286.2 L359.0,295.7 L360.0,287.9 L361.0,298.7 L361.9,289.2 L362.9,296.7 L363.9,288.3 L364.9,298.0 L365.9,290.6 L366.9,298.5 L367.7,285.2 L368.5,299.7 L369.3,292.5 L370.1,300.9 L370.9,292.7 L371.7,301.1 L372.6,291.6 L373.4,304.1 L374.2,293.9 L375.0,306.7 L375.8,295.5 L376.6,310.3 L377.5,297.5 L378.3,308.5 L379.2,298.6 L380.1,308.2 L381.0,300.5 L381.9,311.1 L382.8,298.1 L383.6,311.8 L384.5,303.4 L385.4,312.2 L386.3,299.8 L387.2,317.2 L388.1,303.4 L389.0,318.8 L389.8,307.7 L390.7,314.5 L391.6,307.6 L392.5,317.0 L393.4,309.4 L394.3,317.0 L395.1,309.2 L396.0,319.7 L396.9,311.0 L397.8,320.4 L398.7,311.2 L399.5,322.3 L400.4,314.7 L401.2,323.9 L402.1,313.7 L402.9,322.8 L403.8,315.4 L404.6,324.4 L405.5,316.4 L406.3,325.0 L407.1,318.9 L408.0,327.3 L408.8,318.0 L409.3,330.2 L410.2,320.0 L411.2,330.0 L412.1,321.2 L413.0,331.8 L414.0,320.6 L414.9,331.3 L415.8,324.5 L416.7,333.9 L417.7,324.8 L418.7,334.0 L419.7,324.9 L420.7,335.3 L421.7,325.7 L422.7,337.3 L423.7,326.8 L424.8,337.4 L425.2,330.0 L425.7,339.7 L426.2,330.6 L426.7,342.2 L427.2,331.5 L427.7,342.6 L428.1,333.5 L428.6,346.5 L429.1,335.7 L429.6,346.7 L430.1,338.9 L430.6,350.9 L431.1,341.2 L431.6,351.3 L432.1,342.1 L432.6,351.9 L433.1,343.5 L433.6,355.2 L434.1,344.3 L434.6,355.8 L435.1,347.8 L435.6,356.1 L436.1,349.6 L436.6,358.0 L437.1,350.6 L438.2,359.5 L439.2,353.1 L440.2,362.3 L441.3,348.8 L442.3,363.0 L443.3,352.7 L443.8,361.5 L444.4,350.7 L444.9,361.4 L445.4,347.6 L445.9,357.2 L446.4,348.8 L446.9,355.5 L447.5,346.0 L448.0,353.0 L448.5,341.5 L449.0,353.2 L449.5,340.9 L450.1,351.9 L450.6,336.3 L451.2,347.8 L451.7,335.9 L452.3,348.5 L452.8,337.5 L453.4,343.9 L453.9,334.1 L454.5,344.0 L455.0,334.2 L455.6,342.4 L456.1,332.4 L456.7,338.5 L457.3,329.3 L457.8,341.2 L458.4,328.1 L459.3,337.2 L460.3,327.9 L461.3,336.7 L462.3,327.9 L463.3,336.9 L464.3,326.9 L465.2,334.8 L466.2,324.5 L467.2,333.6 L468.2,326.0 L469.2,332.1 L470.1,323.5 L471.1,331.7 L472.1,322.6 L473.1,334.5 L474.1,319.4 L475.1,334.1 L476.1,320.9 L476.7,329.8 L477.4,318.9 L478.1,329.4 L478.8,313.5 L479.4,325.0 L480.1,314.9 L480.8,326.1 L481.5,314.2 L482.2,321.3 L482.8,311.7 L483.5,321.9 L484.2,312.2 L484.9,320.4 L485.7,310.2 L486.5,318.6 L487.3,307.2 L488.1,315.5 L488.9,308.4 L489.7,316.6 L490.5,305.1 L491.3,316.5 L492.1,304.2 L492.9,312.3 L493.7,304.8 L494.5,312.0 L495.3,300.6 L496.1,311.7 L496.9,301.4 L497.7,309.4 L498.6,300.1 L499.4,310.1 L500.2,298.6 L501.0,305.5 L501.8,296.7 L502.6,306.0 L503.2,294.0 L503.9,307.3 L504.6,294.2 L505.2,300.5 L505.9,292.3 L506.6,300.6 L507.2,290.7 L507.9,296.9 L508.1,290.6 L508.4,294.1 L508.6,286.9 L508.9,295.5 L509.1,284.4 L509.4,290.7 L509.6,282.4 L509.9,288.8 L510.1,281.0 L510.4,287.7 L510.7,279.8 L510.9,287.9 L511.2,274.6 L511.4,284.4 L512.1,274.0 L512.9,282.1 L513.6,272.2 L514.4,280.4 L515.1,269.4 L515.8,280.4 L516.8,270.8 L517.8,279.4 L518.8,270.6 L519.8,282.4 L520.8,270.5 L521.8,280.7 L522.8,272.2 L523.8,282.8 L524.5,272.8 L525.3,284.7 L526.0,273.9 L526.7,284.2 L527.5,275.5 L528.2,290.8 L529.0,280.0 L529.7,287.0 L530.4,278.8 L531.2,291.5 L531.9,280.2 L532.6,292.4 L533.5,284.0 L534.4,293.3 L535.3,284.4 L536.2,293.8 L537.1,285.6 L537.9,293.3 L538.8,286.4 L539.7,295.4 L540.6,287.1 L541.5,297.5 L542.4,287.5 L543.4,298.3 L544.4,287.1 L545.3,298.4 L546.3,287.7 L547.3,299.3 L548.2,290.7 L549.2,300.3 L550.2,289.5 L551.1,298.6 L552.1,292.4 L553.0,301.4 L553.9,291.4 L554.7,301.0 L555.6,292.4 L556.5,303.3 L557.4,294.5 L558.3,303.3 L559.2,294.8 L559.9,307.0 L560.6,297.3 L561.4,307.0 L562.1,300.0 L562.8,308.7 L563.6,300.1 L564.3,311.5 L565.1,302.9 L565.8,311.8 L566.5,302.0 L567.3,314.8 L568.0,305.7 L569.0,313.2 L570.0,305.9 L571.0,316.9 L571.9,307.5 L572.9,315.2 L573.9,306.9 L574.9,315.8 L575.9,307.3 L576.9,318.3 L577.6,308.4 L578.3,320.3 L579.1,310.9 L579.8,321.4 L580.5,311.4 L581.3,325.6 L582.0,313.2 L582.7,322.9 L583.5,316.5 L584.2,323.9 L585.0,312.5 L585.7,326.5 L586.5,316.6 L587.3,328.8 L588.1,320.7 L588.9,329.8 L589.7,320.0 L590.5,329.5 L591.3,323.0 L592.1,333.4 L592.9,323.4 L593.7,333.3 L594.5,322.7 L595.4,334.6 L596.3,325.5 L597.2,335.6 L598.1,326.0 L599.0,341.6 L599.8,329.5 L600.7,337.0 L601.6,328.9 L602.1,338.6 L602.7,330.8 L603.2,342.4 L603.7,337.8 L603.7,339.3 L603.8,339.8 L603.8,341.2 L603.8,341.7 L603.8,343.3 L603.8,343.8 L603.9,345.4 L603.9,345.8 L603.9,347.3 L603.9,347.8 L603.9,349.3 L603.9,349.8 L604.0,351.4 L604.0,351.8 L604.0,353.3 L604.0,353.9 L604.0,355.3 L604.1,355.9 L604.1,357.3 L604.1,357.8 L604.1,359.4 L604.1,359.8 L604.1,361.4 L604.2,362.0 L604.2,363.4 L604.2,363.8 L604.2,365.3 L604.2,366.0 L604.3,367.6 L604.3,367.9 L604.3,369.4 L604.3,370.0 L604.3,371.7 L604.3,371.9 L604.4,373.5 L604.4,374.0 L604.4,375.4 L604.4,375.9 L604.4,377.5 L604.4,377.9 L604.5,379.4 L604.5,380.0 L604.5,381.4 L604.5,382.1 L604.5,383.5 L604.6,384.0 L604.6,385.5 L604.6,386.0 L604.6,387.4 L604.6,386.2 L604.6,385.4 L604.6,384.1 L604.7,383.4 L604.7,382.1 L604.7,381.4 L604.7,380.1 L604.7,379.4 L604.7,378.0 L604.7,377.4 L604.7,375.9 L604.8,375.3 L604.8,373.8 L604.8,373.2 L604.8,372.0 L604.8,371.3 L604.8,369.9 L604.8,369.3 L604.8,367.9 L604.8,367.3 L604.9,365.9 L604.9,365.2 L604.9,363.8 L604.9,363.2 L604.9,361.9 L604.9,361.1 L604.9,359.8 L604.9,359.2 L605.0,357.8 L605.0,357.1 L605.0,355.7 L605.0,355.1 L605.0,353.7 L605.0,353.1 L605.0,351.7 L605.0,351.0 L605.0,349.7 L605.1,349.1 L605.1,347.6 L605.1,347.0 L605.1,345.6 L605.1,345.0 L605.1,343.6 L605.1,342.9 L605.1,341.6 L605.2,340.9 L605.2,339.6 L605.2,338.9 L605.2,337.5 L605.2,336.9 L605.2,335.5 L605.2,334.9 L605.2,333.5 L605.3,332.9 L605.3,331.5 L605.3,330.8 L605.3,329.5 L605.3,328.8 L605.3,327.5 L605.3,326.7 L605.3,325.4 L605.3,324.7 L605.4,323.3 L605.4,322.7 L605.4,321.4 L605.4,320.6 L605.4,319.3 L605.4,318.7 L605.4,317.3 L605.4,316.7 L605.5,315.2 L605.5,314.6 L605.5,313.3 L605.5,312.6 L605.5,311.2 L605.5,310.6 L605.5,309.2 L605.6,308.6 L605.6,307.1 L605.6,306.7 L605.6,305.1 L605.6,304.7 L605.7,303.1 L605.7,302.6 L605.7,301.1 L605.7,300.6 L605.7,299.0 L605.8,298.8 L605.8,297.1 L605.8,296.6 L605.8,295.0 L605.8,294.5 L605.9,293.0 L605.9,292.5 L605.9,291.0 L605.9,290.5 L605.9,288.9 L606.0,288.6 L606.0,286.9 L606.0,286.5 L606.0,285.0 L606.0,284.6 L606.1,282.9 L606.1,282.5 L606.1,280.8 L606.1,280.8 L606.1,278.9 L606.2,278.5 L606.2,276.8 L606.2,276.3 L606.2,275.0 L606.2,274.3 L606.3,272.9 L606.3,272.6 L606.3,270.9 L606.3,270.4 L606.3,268.8 L606.4,268.3 L606.4,266.9 L606.4,266.4 L606.4,264.7 L606.4,264.4 L606.5,262.7 L606.5,262.3 L606.5,260.7 L606.5,260.4 L606.5,258.7 L606.6,258.4 L606.6,256.7 L606.6,256.3 L606.6,254.8 L606.6,254.3 L606.7,252.7 L606.7,252.2 L606.7,250.6 L606.7,250.2 L606.7,248.8 L606.8,248.2 L606.8,246.6 L606.8,246.1 L606.8,244.6 L606.8,244.2 L606.9,242.6 L606.9,242.3 L606.9,240.2 L607.0,240.3 L607.0,238.5 L607.0,238.5 L607.1,236.3 L607.1,236.4 L607.2,234.3 L607.2,234.5 L607.2,232.3 L607.3,232.3 L607.3,229.9 L607.4,230.2 L607.4,228.2 L607.4,228.2 L607.5,225.9 L607.5,226.2 L607.6,224.1 L607.6,224.3 L607.6,222.1 L607.7,222.3 L607.7,220.2 L607.8,220.2 L607.8,218.1 L607.8,218.1 L607.9,216.0 L607.9,215.9 L608.0,214.0 L608.0,213.9 L608.0,212.0 L608.1,212.2 L608.1,209.7 L608.2,210.1 L608.2,207.7 L608.2,208.0 L608.3,205.6 L608.3,207.8 L608.5,201.2 L608.7,206.2 L608.9,200.3 L609.0,203.7 L609.2,197.4 L609.4,201.7 L609.6,195.9 L609.7,199.9 L609.9,193.5 L610.1,196.7 L610.3,191.3 L610.5,199.0 L611.0,186.4 L611.6,196.4 L612.2,179.9 L613.1,192.5 L614.0,184.2 L614.9,191.2 L615.8,181.2 L616.6,191.8 L617.6,182.4 L618.5,192.2 L619.4,183.5 L620.3,193.8 L621.2,184.8 L622.3,195.6 L623.3,185.7 L624.4,195.0 L625.5,185.2 L626.5,192.1 L627.5,184.4 L628.5,192.9 L629.6,183.2 L630.6,192.4 L631.6,183.4 L632.6,192.2 L633.6,182.6 L634.5,194.1 L635.4,185.1 L636.3,195.4 L637.1,184.9 L638.0,196.5 L638.9,185.5 L639.8,199.1 L640.7,189.1 L641.3,197.7 L641.9,190.3 L642.4,201.7 L643.0,193.0 L643.6,202.1 L644.2,192.3 L644.8,204.7 L645.4,191.5 L646.0,204.3 L646.4,196.7 L646.8,208.7 L647.2,200.2 L647.6,208.7 L648.0,201.2 L648.4,210.3 L648.8,202.0 L649.2,211.3 L649.7,204.3 L650.1,213.6 L650.5,206.7 L650.9,215.2 L651.3,208.6 L651.6,219.0 L652.0,210.2 L652.4,220.7 L652.7,213.1 L653.1,222.6 L653.4,213.1 L653.8,225.8 L654.1,215.8 L654.5,226.5 L654.8,216.8 L655.2,228.2 L655.5,220.9 L655.9,228.4 L656.2,220.5 L656.6,231.3 L656.9,223.4 L657.2,232.4 L657.5,224.7 L657.8,235.7 L658.1,229.5 L658.4,235.8 L658.7,229.1 L659.0,239.1 L659.2,228.9 L659.5,240.7 L659.8,232.6 L660.1,243.8 L660.4,233.7 L660.7,245.8 L661.0,236.8 L661.3,247.3 L661.6,241.1 L661.9,249.3 L662.2,243.4 L662.4,250.9 L662.7,243.5 L662.9,254.8 L663.2,246.5 L663.4,253.6 L663.7,248.3 L663.9,257.0 L664.2,250.9 L664.4,259.2 L664.7,252.2 L664.9,262.2 L665.2,253.9 L665.4,261.6 L665.7,256.9 L665.9,263.7 L666.2,257.7 L666.4,266.5 L666.7,261.5 L666.9,269.0 L667.2,260.9 L667.5,271.2 L667.8,263.2 L668.1,274.3 L668.4,265.7 L668.7,273.9 L669.0,269.3 L669.3,276.0 L669.6,269.9 L669.9,278.7 L670.1,271.6 L670.4,279.9 L670.7,273.4 L671.0,286.5 L671.3,276.9 L671.6,286.2 L671.9,278.2 L672.2,286.6 L672.5,280.3 L672.8,289.8 L673.1,278.0 L673.4,290.6 L673.7,284.6 L674.0,291.3 L674.3,284.4 L674.6,294.8 L674.9,287.1 L675.2,297.3 L675.5,290.0 L675.7,302.1 L676.0,291.9 L676.3,301.2 L676.6,293.3 L676.9,303.1 L677.2,295.7 L677.5,305.5 L677.8,298.2 L678.1,307.8 L678.5,299.2 L678.8,311.3 L679.1,301.3 L679.5,311.5 L679.8,299.7 L680.1,312.2 L680.5,305.5 L680.8,313.7 L681.1,307.4 L681.5,317.7 L681.8,310.5 L682.1,317.9 L682.5,312.0 L682.8,321.2 L683.1,312.8 L683.5,324.6 L683.9,313.4 L684.3,324.8 L684.8,317.6 L685.2,327.2 L685.6,317.0 L686.0,327.6 L686.4,318.8 L686.8,329.8 L687.2,321.2 L687.6,331.4 L688.0,324.7 L688.4,333.8 L689.1,326.1 L689.7,335.6 L690.4,327.7 L691.0,338.2 L691.6,328.4 L692.3,339.6 L692.9,331.9 L693.6,342.1 L694.2,331.6 L694.9,342.8 L695.5,331.2 L696.1,342.7 L696.8,336.6 L697.4,345.9 L698.1,337.5 L698.7,348.5 L699.4,339.0 L700.0,350.2 L700.6,339.6 L701.3,351.2 L701.9,343.1 L702.6,352.0 L703.3,343.3 L704.0,354.6 L704.7,343.5 L705.4,354.3 L706.1,346.0 L706.8,356.1 L707.5,348.5 L708.2,357.4 L708.9,347.9 L709.6,357.8 L710.7,348.8 L711.7,360.5 L712.7,350.3 L713.7,358.9 L714.7,352.2 L715.7,361.9 L716.7,353.1 L717.7,361.1 L718.7,349.5 L719.8,358.5 L720.8,349.6 L721.8,359.3 L722.8,349.4 L723.8,356.7 L724.7,347.4 L725.6,357.0 L726.4,346.0 L727.3,353.9 L728.2,341.1 L729.1,354.5 L730.0,343.6 L730.9,351.0 L731.9,343.0 L732.9,353.1 L733.9,342.0 L734.9,351.5 L735.9,342.7 L736.9,351.1 L737.9,340.8 L739.0,348.5 L740.0,339.2 L741.0,351.8 L742.0,340.6 L743.0,350.3 L744.0,340.5 L745.0,347.1 L746.0,337.7 L747.0,348.5 L748.0,337.9 L749.1,347.8 L750.1,335.7 L751.1,345.2 L752.1,335.1 L753.1,343.5 L754.1,334.7 L755.1,344.1 L756.1,332.9 L757.1,340.9 L758.1,333.3 L759.2,342.2 L759.7,332.4 L760.2,338.3 L760.7,331.1 L761.2,337.0 L761.7,328.8 L762.2,336.2 L762.7,326.0 L763.2,333.5 L763.7,325.3 L764.2,332.9 L764.7,324.0 L765.2,331.5 L765.7,321.4 L766.2,329.9 L766.8,318.0 L767.3,328.3 L767.8,317.1 L768.4,325.8 L768.9,315.4 L769.4,323.0 L769.9,313.1 L770.5,321.2 L771.0,313.0 L771.5,319.0 L772.2,310.8 L773.0,317.4 L773.7,306.1 L774.4,317.7 L775.1,303.5 L775.7,316.7 L776.4,310.8 L777.1,318.4 L777.7,310.7 L778.4,320.2 L779.1,311.8 L779.7,322.7 L780.4,315.3 L781.3,324.6 L782.2,315.1 L783.0,324.4 L783.9,317.0 L784.8,328.2 L785.7,318.8 L786.6,330.1 L787.5,319.2 L788.5,329.6 L789.5,322.2 L790.5,331.5 L791.5,322.8 L792.5,332.5 L793.5,322.7 L794.5,334.3 L795.4,322.6 L796.4,334.3 L797.3,324.6 L798.2,334.4 L799.1,326.2 L800.0,335.4 L801.1,328.5 L802.3,336.3 L803.4,327.7 L804.3,337.5 L805.2,330.2 L806.1,339.9 L807.1,329.7 L807.9,339.3 L808.8,331.9 L809.6,343.5 L810.5,334.0 L811.4,346.6 L812.2,335.0 L813.0,344.6 L813.8,335.7 L814.6,344.4 L815.3,336.4 L816.1,346.0 L816.9,338.9 L817.7,348.0 L818.6,336.1 L819.4,351.1 L820.3,341.3 L821.2,350.5 L822.1,341.7 L823.0,353.4 L823.9,344.7 L824.8,354.4 L825.6,341.7 L826.5,354.4 L827.4,345.5 L828.3,354.1 L828.9,345.5 L829.6,358.6 L830.2,345.5 L830.9,360.4 L831.5,350.0 L832.2,361.2 L832.8,348.4 L833.4,362.0 L834.1,353.8 L834.7,363.0 L835.4,354.0 L835.9,365.1 L836.4,358.0 L837.0,368.5 L837.5,359.4 L838.0,369.1 L838.6,361.4 L839.1,369.2 L839.6,363.8 L840.1,373.6 L840.7,363.5 L841.2,373.2 L841.6,366.4 L842.1,376.6 L842.6,368.6 L843.1,379.6 L843.6,371.0 L844.1,380.1 L844.5,373.3 L845.0,382.8 L845.5,373.1 L846.0,386.0 L847.0,375.3 L848.0,383.0 L849.0,374.9 L850.0,383.2 L851.0,373.8 L852.0,384.1 L853.0,373.5 L853.9,382.5 L854.7,372.9 L855.5,381.7 L856.3,372.5 L857.1,380.4 L857.9,371.7 L858.7,379.3 L859.5,369.5 L860.3,378.4 L861.1,369.1 L861.9,376.6 L862.7,367.7 L863.5,377.2 L864.3,365.3 L865.1,375.0 L865.9,364.9 L866.7,371.8 L867.5,362.1 L868.3,373.0 L869.1,360.5 L869.9,371.6 L870.7,361.0 L871.8,369.2 L872.8,362.7 L873.8,371.6 L874.8,360.9 L875.8,373.0 L876.8,364.2 L877.8,373.5 L878.8,364.2 L879.8,374.2 L880.8,366.1 L881.9,377.1 L882.9,362.6 L883.9,375.7 L884.9,365.3 L885.9,374.1 L886.9,363.2 L887.9,372.1 L888.9,362.6 L889.9,371.9 L891.0,363.7 L892.0,372.0 L892.5,362.4 L893.0,368.3 L893.6,359.7 L894.1,367.8 L894.6,357.3 L895.1,367.6 L895.7,354.5 L896.2,365.6 L896.7,355.2 L897.3,362.4 L897.6,351.8 L898.0,359.7 L898.3,351.9 L898.6,357.5 L899.0,349.9 L899.3,357.0 L899.7,345.8 L900.0,353.6 L900.3,343.8 L900.7,352.6 L901.0,343.3 L901.4,353.8 L901.7,340.8 L902.4,349.7 L903.1,339.6 L903.7,346.2 L904.4,338.2 L905.1,346.2 L905.8,334.6 L906.1,345.4 L907.2,335.3 L908.2,347.9 L909.3,335.4 L910.4,342.3 L911.4,334.2 L911.6,343.6 L912.2,334.2 L912.9,346.4 L913.5,336.2 L914.2,345.5 L914.8,337.7 L915.4,349.8 L916.1,339.9 L916.7,349.6 L917.4,343.2 L918.3,352.2 L919.2,344.3 L920.1,351.6 L921.0,343.4 L921.9,355.4 L922.8,345.3 L923.7,354.6 L924.6,345.6 L925.5,356.9 L926.4,349.0 L927.3,356.3 L928.2,349.3 L929.1,357.7 L930.0,351.6 L930.9,358.9 L931.8,352.3 L932.7,363.2 L933.6,351.9 L934.4,365.3 L935.3,354.7 L936.2,364.3 L937.1,355.5 L937.9,367.5 L938.8,357.7 L939.7,367.4 L940.5,357.7 L941.3,368.7 L942.1,355.9 L942.9,369.7 L943.7,361.6 L944.5,372.0 L945.3,363.3 L946.1,370.6 L946.9,364.1 L947.7,372.8 L948.5,364.8 L949.2,377.3 L950.2,364.5 L951.1,377.0 L952.1,368.1 L953.1,375.5 L954.0,369.1 L955.0,377.3 L956.0,368.2 L956.9,378.7 L957.9,371.2 L959.2,379.5 L960.0,371.3 L960.8,381.7 L961.6,374.0 L962.4,384.3 L963.3,372.5 L964.1,384.8 L964.9,375.8 L965.7,386.5 L966.6,375.8 L967.4,385.2 L968.2,379.0 L969.0,389.4 L969.8,379.1 L970.6,388.8 L971.3,381.1 L972.1,392.6 L972.9,382.9 L973.7,393.0 L974.5,385.2 L975.2,392.8 L976.1,384.8 L976.9,397.0 L977.8,383.3 L978.6,397.7 L979.5,386.8 L980.4,399.3 L981.3,390.7 L982.2,401.4 L983.0,389.8 L983.9,401.4 L984.5,393.3 L985.1,402.5 L985.7,393.2 L986.3,403.9 L986.9,396.4 L987.5,405.6 L988.0,397.5 L988.6,408.0 L989.1,398.8 L989.7,409.2 L990.7,402.1 L991.6,411.6 L992.6,402.8 L993.6,413.1 L994.5,402.9 L995.5,411.6 L996.4,402.7 L997.2,412.5 L998.1,402.6 L999.0,410.5 L999.8,398.6 L1000.6,408.2 L1001.3,396.9 L1001.9,408.4 L1002.4,397.2 L1003.0,405.8 L1003.6,390.9 L1004.2,403.3 L1004.8,394.4 L1005.3,403.0 L1005.9,392.0 L1006.5,399.3 L1007.1,390.2 L1007.9,398.8 L1008.7,386.9 L1009.5,396.7 L1010.3,387.8 L1011.1,395.8 L1011.9,385.2 L1012.7,394.5 L1013.5,384.7 L1014.3,392.6 L1015.3,382.7 L1016.2,393.1 L1017.2,379.9 L1018.2,391.5 L1019.1,381.2 L1020.1,391.9 L1021.1,382.3 L1022.0,389.6 L1023.0,380.8 L1024.0,390.0 L1024.9,380.2 L1025.9,388.1 L1026.8,377.9 L1027.8,389.2 L1028.8,378.5 L1029.7,387.7 L1030.7,378.6 L1031.7,386.7 L1032.5,375.4 L1033.3,383.4 L1034.1,376.3 L1034.9,383.7 L1035.7,374.4 L1036.5,383.1 L1037.3,372.4 L1038.1,380.3 L1038.9,370.6 L1039.3,379.2 L1039.7,369.9 L1040.1,377.7 L1040.5,366.1 L1040.9,375.5 L1041.3,367.0 L1041.7,374.9 L1042.1,362.2 L1042.5,371.9 L1042.9,360.2 L1043.2,368.4 L1043.5,361.4 L1043.8,366.4 L1044.0,360.0 L1044.3,365.5 L1044.6,356.6 L1044.8,361.5 L1045.1,353.9 L1045.4,361.4 L1045.6,351.6 L1045.9,359.3 L1046.1,344.0 L1046.7,357.0 L1047.2,343.5 L1047.8,355.5 L1048.3,345.5 L1048.9,354.4 L1049.4,343.7 L1049.9,351.4 L1050.5,343.0 L1051.6,349.4 L1052.8,340.2 L1054.0,351.8 L1055.1,340.5 L1056.3,351.2 L1057.0,340.3 L1057.7,347.5 L1058.4,338.0 L1059.2,342.3" fill="none" stroke="#dc7733" stroke-width="7" stroke-linejoin="round" stroke-linecap="round"/>
<path d="M179.6,126.7 H192.6 V446.8 H1068.8 V126.7 H1081.8" fill="none" stroke="#000" stroke-width="4.2" stroke-linejoin="round"/>
<line x1="179.6" y1="233.4" x2="192.6" y2="233.4" stroke="#000" stroke-width="4.2"/>
<line x1="1068.8" y1="233.4" x2="1081.8" y2="233.4" stroke="#000" stroke-width="4.2"/>
<line x1="179.6" y1="340.1" x2="192.6" y2="340.1" stroke="#000" stroke-width="4.2"/>
<line x1="1068.8" y1="340.1" x2="1081.8" y2="340.1" stroke="#000" stroke-width="4.2"/>
<line x1="179.6" y1="446.8" x2="192.6" y2="446.8" stroke="#000" stroke-width="4.2"/>
<line x1="1068.8" y1="446.8" x2="1081.8" y2="446.8" stroke="#000" stroke-width="4.2"/>
<line x1="192.6" y1="446.8" x2="192.6" y2="456.8" stroke="#000" stroke-width="4.2"/>
<line x1="367.8" y1="446.8" x2="367.8" y2="456.8" stroke="#000" stroke-width="4.2"/>
<line x1="543.1" y1="446.8" x2="543.1" y2="456.8" stroke="#000" stroke-width="4.2"/>
<line x1="718.3" y1="446.8" x2="718.3" y2="456.8" stroke="#000" stroke-width="4.2"/>
<line x1="893.6" y1="446.8" x2="893.6" y2="456.8" stroke="#000" stroke-width="4.2"/>
<line x1="1068.8" y1="446.8" x2="1068.8" y2="456.8" stroke="#000" stroke-width="4.2"/>
<text transform="translate(168.2,147.4) scale(1,1.02)" font-size="42" text-anchor="end" fill="#231f20" font-family="Liberation Sans, sans-serif">100</text>
<text transform="translate(168.2,251.4) scale(1,1.02)" font-size="42" text-anchor="end" fill="#231f20" font-family="Liberation Sans, sans-serif">80</text>
<text transform="translate(168.2,355.6) scale(1,1.02)" font-size="42" text-anchor="end" fill="#231f20" font-family="Liberation Sans, sans-serif">60</text>
<text transform="translate(168.2,458.5) scale(1,1.02)" font-size="42" text-anchor="end" fill="#231f20" font-family="Liberation Sans, sans-serif">40</text>
<text transform="translate(1089.2,142.3) scale(1,1.02)" font-size="42" fill="#231f20" font-family="Liberation Sans, sans-serif">0.59</text>
<text transform="translate(1089.2,251.4) scale(1,1.02)" font-size="42" fill="#231f20" font-family="Liberation Sans, sans-serif">0.56</text>
<text transform="translate(1089.2,355.6) scale(1,1.02)" font-size="42" fill="#231f20" font-family="Liberation Sans, sans-serif">0.53</text>
<text transform="translate(1089.2,459.1) scale(1,1.02)" font-size="42" fill="#231f20" font-family="Liberation Sans, sans-serif">0.50</text>
<text transform="translate(195.7,498.6) scale(1,1.02)" font-size="42" text-anchor="middle" fill="#231f20" font-family="Liberation Sans, sans-serif">0</text>
<text transform="translate(365.0,498.6) scale(1,1.02)" font-size="42" text-anchor="middle" fill="#231f20" font-family="Liberation Sans, sans-serif">5</text>
<text transform="translate(541.2,498.6) scale(1,1.02)" font-size="42" text-anchor="middle" fill="#231f20" font-family="Liberation Sans, sans-serif">10</text>
<text transform="translate(716.2,498.6) scale(1,1.02)" font-size="42" text-anchor="middle" fill="#231f20" font-family="Liberation Sans, sans-serif">15</text>
<text transform="translate(893.5,498.6) scale(1,1.02)" font-size="42" text-anchor="middle" fill="#231f20" font-family="Liberation Sans, sans-serif">20</text>
<text transform="translate(1065.3,498.6) scale(1,1.02)" font-size="42" text-anchor="middle" fill="#231f20" font-family="Liberation Sans, sans-serif">25</text>
<text transform="translate(624.65,549.7) scale(1.01,1)" font-size="42" text-anchor="middle" fill="#231f20" font-family="Liberation Sans, sans-serif">Time (h)</text>
<text transform="translate(83.4,288.0) rotate(-90) scale(0.97,1.02)" font-size="43" text-anchor="middle" fill="#231f20" font-family="Liberation Sans, sans-serif">O<tspan font-size="27" dy="12">2</tspan><tspan dy="-12"> saturation (%)</tspan></text>
<text transform="translate(1193,287.2) rotate(90)" font-size="42" text-anchor="middle" fill="#231f20" font-family="Liberation Sans, sans-serif">425 nm / 488 nm</text>
<text transform="translate(624,104.3) scale(1.025,1)" font-size="33" text-anchor="middle" fill="#231f20" font-family="Liberation Sans, sans-serif">2 mM Diamide</text>
<line x1="609.6" y1="112.8" x2="609.6" y2="146.9" stroke="#222" stroke-width="4.1"/>
<path d="M599.3000000000001,142.1 L609.6,145.5 L619.9,142.1 L609.6,165.5 Z" fill="#2a2a2a"/>
<text transform="translate(0.7,745.3) scale(1,1)" font-size="58" font-weight="bold" fill="#231f20" font-family="Liberation Sans, sans-serif">b</text>
<path d="M200.3,945.8 L200.7,946.8 L201.0,943.3 L201.3,944.8 L201.7,941.9 L202.0,943.0 L202.3,940.4 L202.7,941.1 L203.0,937.9 L203.4,939.5 L203.7,936.7 L204.0,937.0 L204.4,934.8 L204.7,935.0 L204.9,932.7 L205.1,932.6 L205.2,930.6 L205.4,931.1 L205.6,928.8 L205.7,928.9 L205.9,927.1 L206.1,926.6 L206.2,924.9 L206.4,924.6 L206.6,923.1 L206.7,922.7 L206.9,921.2 L207.0,920.9 L207.2,919.0 L207.4,918.8 L207.5,917.1 L207.6,916.7 L207.7,915.1 L207.8,914.7 L207.9,913.0 L208.0,912.5 L208.1,910.8 L208.2,910.7 L208.3,908.8 L208.4,908.6 L208.5,907.0 L208.6,906.4 L208.7,904.9 L208.8,904.3 L208.9,902.7 L209.0,902.4 L209.1,900.7 L209.2,900.3 L209.3,898.6 L209.4,898.5 L209.5,896.9 L209.6,896.2 L209.7,894.5 L209.8,894.2 L209.9,892.5 L210.0,892.1 L210.1,890.8 L210.2,890.2 L210.3,888.6 L210.4,888.1 L210.5,886.7 L210.5,886.1 L210.6,884.5 L210.7,884.2 L210.8,882.7 L210.9,882.0 L211.0,880.7 L211.0,879.9 L211.1,878.4 L211.2,877.9 L211.3,876.5 L211.4,876.0 L211.5,874.6 L211.5,874.0 L211.6,872.6 L211.7,872.0 L211.8,870.3 L212.1,870.3 L212.3,868.1 L212.6,868.0 L212.9,865.3 L213.1,866.4 L213.4,863.8 L213.7,864.3 L213.9,861.7 L214.2,861.8 L214.4,858.7 L215.5,860.7 L216.5,858.5 L217.5,860.1 L218.5,857.4 L219.5,858.3 L220.5,855.7 L221.5,857.3 L222.6,855.9 L223.6,857.3 L224.6,856.5 L225.7,858.2 L226.7,856.6 L227.7,858.5 L228.8,856.7 L229.8,858.7 L230.8,856.3 L231.8,859.0 L232.9,857.1 L233.9,859.7 L234.9,857.7 L235.9,858.9 L236.9,856.8 L237.9,859.7 L239.0,857.6 L240.0,858.9 L241.0,857.0 L242.0,859.8 L243.0,857.7 L244.0,859.8 L245.0,856.8 L246.0,859.4 L247.0,857.4 L248.1,858.8 L249.2,858.0 L250.3,860.1 L251.4,857.9 L252.5,860.0 L253.6,858.1 L254.7,860.3 L255.8,858.0 L256.9,859.9 L258.0,858.7 L259.1,860.7 L260.2,859.0 L261.3,860.3 L262.4,858.7 L263.5,861.3 L264.6,858.8 L265.7,860.8 L266.8,858.7 L267.9,861.1 L268.9,860.2 L270.0,861.5 L271.0,860.0 L272.1,861.6 L273.2,860.7 L274.2,862.3 L275.3,860.6 L276.4,862.4 L277.3,861.3 L278.3,863.9 L279.2,861.2 L280.2,864.3 L281.2,862.2 L282.1,864.9 L283.1,863.5 L284.1,864.8 L285.0,864.3 L286.0,866.5 L287.0,864.1 L287.8,867.6 L288.7,866.3 L289.6,868.5 L290.5,867.0 L291.4,870.0 L292.3,868.6 L293.2,871.6 L294.0,870.2 L294.4,872.7 L294.8,871.3 L295.2,875.1 L295.6,873.3 L296.0,876.8 L296.5,875.1 L296.9,878.9 L297.3,877.6 L297.7,880.6 L298.1,878.9 L298.5,881.9 L298.6,882.0 L298.7,883.9 L298.9,883.8 L299.0,885.8 L299.2,886.0 L299.3,887.8 L299.4,888.0 L299.6,890.0 L299.7,890.3 L299.9,892.0 L300.0,891.9 L300.1,894.2 L300.3,894.1 L300.4,896.0 L300.6,896.1 L300.7,898.1 L300.8,898.3 L301.0,900.3 L301.1,900.6 L301.2,902.1 L301.3,902.7 L301.4,904.1 L301.4,904.5 L301.5,906.0 L301.6,906.5 L301.7,908.1 L301.8,908.6 L301.9,910.2 L302.0,910.7 L302.0,912.0 L302.1,912.7 L302.2,914.2 L302.3,914.7 L302.4,916.1 L302.5,916.6 L302.5,918.2 L302.6,918.7 L302.7,920.3 L302.8,920.8 L302.9,922.3 L303.0,922.8 L303.1,924.3 L303.2,924.7 L303.3,926.6 L303.4,926.7 L303.5,928.5 L303.6,928.9 L303.7,930.5 L303.8,931.2 L303.9,932.7 L304.0,933.0 L304.1,934.9 L304.2,935.1 L304.3,937.0 L304.4,937.4 L304.5,938.8 L304.6,938.7 L305.1,941.3 L305.6,940.9 L306.1,943.4 L306.6,942.4 L307.1,945.5 L307.5,944.7 L308.0,947.8 L308.5,945.8 L309.0,949.3 L309.5,948.8 L309.9,950.7 L310.3,949.8 L310.7,952.6 L311.0,951.8 L311.4,955.1 L311.7,954.2 L312.1,957.3 L312.4,956.4 L312.8,958.4 L313.1,957.8 L313.5,960.1 L313.8,959.2 L314.2,962.3 L314.6,962.0 L314.9,963.9 L315.3,963.3 L315.6,966.3 L315.9,965.4 L316.3,968.6 L316.6,967.2 L317.0,971.0 L317.3,969.4 L317.6,972.2 L318.0,971.6 L318.3,974.2 L318.7,974.2 L319.0,976.5 L319.3,975.5 L319.7,978.3 L320.2,976.1 L320.7,976.7 L321.2,973.8 L321.6,975.2 L322.1,972.1 L322.6,973.7 L323.1,970.6 L323.6,971.9 L324.1,969.2 L324.2,968.8 L324.3,967.2 L324.4,967.0 L324.5,965.4 L324.7,964.9 L324.8,963.2 L324.9,963.0 L325.0,961.2 L325.1,960.8 L325.2,958.9 L325.3,958.8 L325.4,956.9 L325.5,956.6 L325.6,954.9 L325.8,954.5 L325.9,952.8 L326.0,952.6 L326.1,950.8 L326.2,950.5 L326.3,948.9 L326.4,948.5 L326.5,946.5 L326.6,946.5 L326.8,944.5 L326.9,944.6 L327.1,942.6 L327.2,942.7 L327.4,940.3 L327.6,940.4 L327.7,938.7 L327.9,938.5 L328.1,936.5 L328.2,936.7 L328.4,934.5 L328.6,934.2 L328.7,932.3 L328.9,932.3 L329.1,930.4 L329.2,930.3 L329.4,928.2 L330.3,929.5 L331.2,926.7 L332.1,927.0 L332.6,926.3 L333.0,929.4 L333.5,927.6 L334.0,931.1 L334.5,929.3 L335.0,932.7 L335.5,931.0 L336.0,934.0 L336.5,933.7 L337.0,936.3 L337.5,935.4 L338.1,938.3 L338.6,936.7 L339.1,939.8 L339.7,938.2 L340.2,941.6 L340.7,940.6 L341.2,943.1 L341.8,941.8 L342.7,945.2 L343.5,943.7 L344.4,946.4 L345.3,944.0 L346.2,947.2 L347.1,945.6 L347.8,946.6 L348.6,944.2 L349.4,945.4 L350.1,942.6 L350.9,943.4 L351.6,940.6 L352.4,942.4 L352.7,939.6 L353.1,940.9 L353.4,937.5 L353.8,938.6 L354.1,935.4 L354.4,936.2 L354.8,933.7 L355.1,934.7 L355.5,931.3 L355.8,933.4 L356.1,930.2 L356.5,930.9 L356.8,928.7 L357.0,928.5 L357.2,926.1 L357.4,926.8 L357.7,924.3 L357.9,924.3 L358.1,922.4 L358.3,922.4 L358.5,919.8 L358.7,920.0 L358.9,917.9 L359.1,917.8 L359.3,916.2 L359.5,915.9 L359.7,913.8 L359.9,913.9 L360.1,911.9 L360.4,911.6 L360.4,910.2 L360.5,909.6 L360.6,908.2 L360.6,907.5 L360.7,906.1 L360.8,905.3 L360.9,903.9 L360.9,903.3 L361.0,901.9 L361.1,901.2 L361.2,899.8 L361.2,899.1 L361.3,897.8 L361.4,897.2 L361.5,895.7 L361.5,895.1 L361.6,893.5 L361.7,893.1 L361.8,891.5 L361.8,890.9 L361.9,889.4 L362.0,889.0 L362.0,887.3 L362.1,886.9 L362.2,885.3 L362.4,885.2 L362.5,883.3 L362.6,883.2 L362.8,881.0 L362.9,880.8 L363.0,879.3 L363.1,879.0 L363.3,877.3 L363.4,876.7 L363.5,875.0 L363.6,874.8 L363.8,873.0 L363.9,872.7 L364.0,871.1 L364.1,870.9 L364.3,869.3 L364.4,868.7 L364.5,867.0 L364.6,867.0 L364.8,863.8 L365.7,865.2 L366.5,862.9 L367.4,864.5 L368.3,861.4 L369.2,862.9 L370.1,860.3 L371.1,861.4 L372.2,860.4 L373.3,861.4 L374.3,859.9 L375.4,862.0 L376.4,859.9 L377.5,861.5 L378.6,860.3 L379.6,861.6 L380.7,859.5 L381.8,862.4 L382.9,859.2 L384.0,861.1 L385.1,860.0 L386.2,861.9 L387.3,859.3 L388.4,861.5 L389.5,859.3 L390.6,860.9 L391.7,858.8 L392.8,860.6 L394.0,858.5 L395.1,859.9 L396.2,858.2 L397.3,860.7 L398.4,858.6 L399.5,860.2 L400.6,858.1 L401.7,860.4 L402.8,859.0 L403.9,860.4 L405.0,858.9 L406.0,860.3 L407.0,858.4 L408.1,861.3 L409.1,858.7 L410.1,861.4 L411.1,858.8 L412.1,860.9 L413.2,858.9 L414.2,861.0 L415.0,858.4 L416.0,861.5 L417.1,859.5 L418.1,861.8 L419.2,859.1 L420.2,861.9 L421.2,859.2 L422.3,861.6 L423.3,859.4 L424.2,862.7 L425.2,860.5 L426.1,863.5 L427.0,861.3 L427.9,864.0 L428.8,862.3 L429.7,864.5 L430.7,863.7 L431.6,865.9 L432.5,865.0 L433.5,866.5 L434.5,864.9 L435.6,867.5 L436.6,866.0 L437.6,868.5 L438.6,866.1 L439.6,868.4 L440.7,866.7 L441.7,869.3 L442.5,867.7 L443.3,870.3 L444.1,868.4 L444.9,871.8 L445.7,870.0 L446.6,873.1 L447.4,870.9 L448.2,873.5 L449.0,872.6 L449.3,875.9 L449.7,875.0 L450.0,877.5 L450.3,877.2 L450.7,879.3 L451.0,878.9 L451.3,881.2 L451.7,881.0 L452.0,884.1 L452.3,882.7 L452.7,885.0 L452.8,885.3 L452.9,887.1 L453.0,887.3 L453.1,889.1 L453.2,889.4 L453.3,890.9 L453.4,891.5 L453.5,893.2 L453.6,893.7 L453.7,895.3 L453.8,895.7 L453.9,897.2 L454.0,897.7 L454.1,899.2 L454.2,899.6 L454.3,901.1 L454.4,901.5 L454.5,903.2 L454.6,903.7 L454.7,905.3 L454.7,905.8 L454.8,907.2 L454.9,907.7 L455.0,909.3 L455.1,909.8 L455.2,911.3 L455.2,911.8 L455.3,913.1 L455.4,913.8 L455.5,915.1 L455.6,915.8 L455.7,917.3 L455.7,917.8 L455.8,919.3 L455.9,919.6 L456.0,921.1 L456.1,921.6 L456.2,923.3 L456.2,923.8 L456.3,925.5 L456.5,925.7 L456.6,927.4 L456.7,927.5 L456.9,929.4 L457.0,929.8 L457.1,931.8 L457.2,931.8 L457.4,933.7 L457.5,933.8 L457.6,936.0 L457.8,936.1 L457.9,937.8 L458.0,938.2 L458.2,940.6 L458.8,939.9 L459.4,942.0 L460.0,941.4 L460.6,943.9 L461.2,943.3 L461.8,946.2 L462.1,945.4 L462.4,947.7 L462.7,947.2 L463.0,949.9 L463.2,949.0 L463.5,951.9 L463.8,950.8 L464.1,954.3 L464.4,953.0 L464.7,955.6 L464.9,955.6 L465.2,958.2 L465.5,956.9 L465.8,959.9 L466.1,959.3 L466.3,961.6 L466.6,960.9 L466.9,963.8 L467.2,963.0 L467.5,965.9 L467.8,964.8 L468.0,967.4 L468.3,967.3 L468.6,970.2 L468.9,968.6 L469.2,972.2 L469.5,971.4 L469.8,973.3 L470.2,973.1 L470.5,975.7 L470.8,974.7 L471.2,977.3 L471.5,976.8 L471.8,979.3 L472.2,979.3 L472.5,982.0 L472.8,981.1 L473.1,981.5 L473.3,979.2 L473.5,979.4 L473.7,977.3 L474.0,977.2 L474.2,974.8 L474.4,975.5 L474.7,973.3 L474.9,972.9 L475.1,970.6 L475.4,971.2 L475.6,968.6 L475.8,968.9 L476.0,966.8 L476.3,966.8 L476.5,964.9 L476.6,964.6 L476.7,962.9 L476.8,962.8 L476.9,961.0 L477.1,960.5 L477.2,958.8 L477.3,958.6 L477.4,956.8 L477.5,956.4 L477.6,954.9 L477.7,954.5 L477.8,952.9 L477.9,952.1 L478.0,950.6 L478.1,950.2 L478.3,948.5 L478.4,948.1 L478.5,946.4 L478.6,946.0 L478.7,944.6 L478.8,944.2 L478.9,942.6 L479.0,942.0 L479.1,940.3 L479.2,940.7 L479.6,938.0 L479.9,938.1 L480.2,935.9 L480.5,936.7 L480.8,933.9 L481.1,934.0 L481.4,931.5 L481.7,932.5 L482.0,929.0 L482.7,931.1 L483.5,927.2 L484.2,928.7 L484.9,925.5 L485.7,926.7 L486.2,926.1 L486.7,928.6 L487.2,927.1 L487.8,931.1 L488.3,929.8 L488.8,932.2 L489.3,931.5 L489.7,934.2 L490.1,933.5 L490.6,936.3 L491.0,935.8 L491.4,938.5 L491.8,937.1 L492.2,940.5 L492.6,939.1 L493.0,942.6 L493.6,941.8 L494.1,944.6 L494.7,942.8 L495.3,945.9 L495.9,945.7 L496.4,948.0 L497.0,946.9 L497.6,949.9 L498.6,947.3 L499.7,950.0 L500.8,947.5 L501.9,949.3 L502.9,947.8 L504.0,950.2 L504.8,947.5 L505.6,947.8 L506.4,945.2 L507.1,947.2 L507.9,944.4 L508.7,945.3 L509.5,942.8 L509.8,943.6 L510.2,940.2 L510.5,941.0 L510.8,938.7 L511.2,939.6 L511.5,936.4 L511.8,937.6 L512.2,934.5 L512.5,935.1 L512.8,931.8 L513.2,933.0 L513.4,930.7 L513.6,930.8 L513.8,928.5 L514.0,928.8 L514.2,926.2 L514.3,926.5 L514.5,924.2 L514.7,924.6 L514.9,922.1 L515.1,922.6 L515.3,920.0 L515.5,920.5 L515.7,917.8 L515.9,917.9 L516.0,916.4 L516.1,915.8 L516.1,914.3 L516.2,913.7 L516.3,912.3 L516.4,911.6 L516.4,910.2 L516.5,909.8 L516.6,908.2 L516.7,907.5 L516.7,906.2 L516.8,905.5 L516.9,904.1 L516.9,903.6 L517.0,902.1 L517.1,901.4 L517.2,900.1 L517.2,899.4 L517.3,897.9 L517.4,897.3 L517.5,896.0 L517.5,895.3 L517.6,893.8 L517.7,893.3 L517.8,891.9 L517.9,891.1 L518.0,889.7 L518.1,889.1 L518.2,887.7 L518.3,887.3 L518.4,885.5 L518.6,885.0 L518.7,883.6 L518.8,883.0 L518.9,881.5 L519.0,881.1 L519.1,879.4 L519.2,879.0 L519.4,877.1 L519.5,876.9 L519.6,874.9 L519.9,875.9 L520.2,872.1 L520.6,873.3 L520.9,870.5 L521.2,872.0 L521.6,868.6 L521.9,869.1 L522.2,867.1 L522.6,868.0 L522.9,864.2 L523.2,865.4 L524.2,862.9 L525.1,864.5 L526.0,862.2 L526.9,864.0 L527.8,860.7 L528.8,862.0 L529.7,860.4 L530.7,862.0 L531.7,860.3 L532.7,862.7 L533.7,860.2 L534.7,862.8 L535.7,861.2 L536.7,862.6 L537.7,861.4 L538.7,863.0 L539.7,861.1 L540.7,863.7 L541.7,861.3 L542.7,863.8 L543.7,861.2 L544.7,862.7 L545.7,860.8 L546.7,862.5 L547.7,860.5 L548.7,862.1 L549.7,859.0 L550.7,861.6 L551.7,859.4 L552.7,860.4 L553.8,858.1 L554.8,859.6 L555.9,857.9 L556.9,859.6 L558.0,856.8 L559.0,859.2 L560.0,856.9 L561.1,859.4 L562.1,857.5 L563.2,860.0 L564.2,857.9 L565.3,860.2 L566.3,858.5 L567.3,860.8 L568.3,859.4 L569.3,861.7 L570.3,860.3 L571.3,862.6 L572.3,860.6 L573.3,862.4 L574.3,861.4 L575.3,862.9 L576.3,861.5 L577.3,863.9 L578.2,862.5 L579.2,865.2 L580.1,864.1 L581.0,866.2 L581.9,865.0 L582.8,868.2 L583.8,865.9 L584.8,868.0 L585.9,865.9 L587.0,866.7 L588.0,864.2 L589.1,865.6 L590.2,863.4 L591.3,865.5 L592.4,864.1 L593.5,866.1 L594.6,863.1 L595.7,865.2 L596.3,864.2 L596.9,866.9 L597.5,866.1 L598.1,868.9 L598.8,867.9 L599.4,870.3 L600.0,869.4 L601.2,873.1 L601.9,871.9 L602.6,874.0 L603.3,872.8 L604.1,875.6 L604.8,874.0 L605.5,877.3 L605.8,875.1 L606.6,876.5 L607.5,873.6 L608.4,874.8 L609.2,873.1 L610.1,873.5 L611.0,871.1 L612.2,872.5 L612.9,869.9 L613.5,870.6 L614.2,867.5 L614.9,869.2 L615.6,866.8 L616.3,867.2 L617.0,865.2 L617.7,865.5 L618.3,863.5 L619.3,864.5 L620.2,862.1 L621.2,864.2 L622.1,861.9 L623.1,863.7 L624.0,860.9 L625.0,863.2 L626.2,860.5 L627.5,861.6 L628.5,860.2 L629.5,861.9 L630.6,860.9 L631.6,863.3 L632.6,860.8 L633.6,864.0 L634.6,861.8 L635.7,864.4 L636.7,863.2 L637.5,865.1 L638.3,864.2 L639.1,866.9 L639.9,865.9 L640.7,868.0 L641.6,866.9 L642.4,869.9 L643.2,867.9 L644.0,871.1 L644.4,870.4 L644.8,873.4 L645.2,871.6 L645.6,875.1 L646.0,874.3 L646.4,877.1 L646.9,876.6 L647.3,879.4 L647.7,878.5 L647.8,880.7 L648.0,880.7 L648.1,882.9 L648.3,883.0 L648.4,885.0 L648.6,884.8 L648.7,886.6 L648.9,887.1 L649.0,888.7 L649.2,888.9 L649.4,890.9 L649.5,891.1 L649.7,893.1 L649.8,893.1 L650.0,894.9 L650.1,895.3 L650.3,897.2 L650.4,897.4 L650.5,899.0 L650.6,899.3 L650.7,900.9 L650.8,901.3 L650.9,902.8 L651.0,903.2 L651.1,905.1 L651.2,905.3 L651.3,907.0 L651.4,907.5 L651.5,909.1 L651.6,909.5 L651.7,911.2 L651.8,911.6 L651.9,913.1 L652.0,913.4 L652.1,915.0 L652.2,915.1 L652.5,917.2 L652.8,917.5 L653.0,919.3 L653.2,918.7 L653.5,921.9 L653.8,921.0 L654.0,923.4 L654.2,923.0 L654.5,925.8 L654.8,925.2 L655.0,927.9 L655.6,926.4 L656.2,929.1 L656.8,928.9 L657.4,931.5 L658.1,930.8 L658.7,933.2 L659.4,932.0 L660.1,934.4 L660.9,933.5 L661.6,936.0 L662.3,934.9 L663.1,937.5 L663.8,936.3 L664.5,938.6 L665.3,937.7 L666.0,940.2 L666.7,938.9 L667.3,942.5 L668.0,941.2 L668.7,943.9 L669.3,942.7 L670.0,945.9 L670.7,944.2 L671.3,947.6 L672.0,946.2 L672.7,949.6 L673.3,947.4 L674.4,950.3 L675.5,947.9 L676.6,949.8 L677.7,947.8 L678.8,950.0 L679.1,947.0 L679.4,947.7 L679.6,945.2 L679.9,946.1 L680.2,943.3 L680.5,943.4 L680.7,941.0 L681.0,942.3 L681.3,939.1 L681.5,940.0 L681.8,937.1 L682.1,937.8 L682.3,935.3 L682.6,935.6 L682.9,933.8 L683.1,934.0 L683.4,931.4 L683.8,932.2 L684.1,929.9 L684.4,930.5 L684.8,927.4 L685.1,928.0 L685.4,925.6 L685.7,926.2 L686.1,923.7 L686.4,923.8 L686.7,920.9 L687.1,922.9 L687.5,921.1 L687.9,924.8 L688.3,923.4 L688.7,926.7 L689.2,925.7 L689.6,928.6 L690.0,927.3 L690.4,930.8 L690.8,929.8 L691.3,932.7 L691.7,931.8 L692.0,934.3 L692.3,932.9 L692.7,935.7 L693.0,935.7 L693.3,938.1 L693.7,937.6 L694.0,939.8 L694.3,938.9 L694.7,942.6 L695.0,941.5 L695.3,944.2 L695.8,943.1 L696.2,945.6 L696.7,945.6 L697.2,948.5 L697.6,947.1 L698.1,949.8 L698.5,948.2 L699.0,952.2 L699.5,950.6 L699.9,953.1 L701.1,952.2 L702.2,954.9 L703.4,952.4 L704.5,955.0 L705.0,952.0 L705.6,953.3 L706.1,950.6 L706.7,951.3 L707.2,948.3 L707.8,950.4 L708.4,947.3 L708.9,948.2 L709.5,945.5 L710.0,946.6 L711.1,944.2 L712.3,944.8 L713.4,942.5 L714.6,944.1 L715.4,942.5 L716.2,946.2 L717.0,944.1 L717.8,946.6 L718.6,945.5 L719.4,949.0 L720.2,947.2 L721.0,949.3 L721.8,949.0 L722.6,951.2 L723.4,949.9 L724.1,952.6 L724.9,952.1 L725.7,954.2 L726.5,953.1 L727.2,956.4 L728.0,955.0 L728.7,957.7 L729.4,955.8 L730.2,959.1 L731.1,956.6 L732.0,957.3 L732.9,954.3 L733.8,956.3 L734.8,953.8 L735.0,954.2 L735.2,952.0 L735.5,952.5 L735.7,949.7 L736.0,950.2 L736.2,947.7 L736.5,947.8 L736.7,945.7 L737.0,946.1 L737.2,944.0 L737.4,944.6 L737.7,942.2 L737.9,942.1 L738.2,939.7 L738.4,940.0 L738.6,938.3 L738.7,938.1 L738.9,936.3 L739.0,936.2 L739.2,933.8 L739.3,933.7 L739.5,932.1 L739.6,932.1 L739.8,930.1 L739.9,930.1 L740.1,928.0 L740.3,927.7 L740.4,925.9 L740.6,925.9 L740.7,924.0 L740.9,923.9 L741.0,921.7 L741.2,921.6 L741.3,920.0 L741.4,919.7 L741.5,917.9 L741.6,917.5 L741.7,915.7 L741.8,915.4 L741.9,913.8 L742.0,913.3 L742.1,911.8 L742.2,911.3 L742.3,909.8 L742.4,909.5 L742.5,907.7 L742.6,907.5 L742.7,905.8 L742.8,905.3 L742.9,903.8 L743.0,903.3 L743.1,901.7 L743.2,901.1 L743.3,899.6 L743.4,899.3 L743.5,897.6 L743.6,897.3 L743.7,895.7 L743.8,895.0 L743.9,893.6 L744.1,893.3 L744.3,891.2 L744.5,891.2 L744.7,889.2 L744.9,889.3 L745.1,887.3 L745.3,887.3 L745.5,884.8 L745.7,885.0 L745.9,882.6 L746.1,882.7 L746.3,880.9 L746.5,880.6 L746.7,878.7 L747.1,879.0 L747.6,876.2 L748.0,877.4 L748.5,874.8 L749.0,875.7 L749.4,873.2 L749.9,874.1 L750.3,871.2 L750.8,871.6 L751.3,869.4 L751.7,870.3 L752.2,866.8 L753.2,869.1 L754.2,866.9 L755.2,867.8 L756.2,865.7 L757.3,866.8 L758.3,864.2 L759.3,865.8 L760.3,863.9 L761.3,865.8 L762.4,862.8 L763.5,864.8 L764.5,863.1 L765.6,865.2 L766.7,863.3 L767.8,864.3 L768.8,862.0 L769.9,863.8 L771.0,862.3 L772.0,863.7 L773.1,861.9 L774.2,863.2 L775.2,862.4 L776.2,864.6 L777.2,861.9 L778.2,864.6 L779.2,862.8 L780.2,864.4 L781.2,862.8 L782.2,864.7 L783.2,863.2 L784.2,865.9 L785.2,863.7 L786.2,865.7 L787.2,863.7 L788.2,866.9 L789.2,865.7 L790.3,867.4 L791.3,865.8 L792.3,867.8 L793.3,866.9 L794.3,869.4 L794.9,867.5 L795.6,870.9 L796.2,869.1 L796.8,872.4 L797.4,871.4 L798.0,874.5 L798.6,873.0 L799.2,876.0 L799.8,875.0 L800.0,876.7 L800.3,876.6 L800.5,878.9 L800.8,878.6 L801.1,880.5 L801.3,880.5 L801.6,882.8 L801.9,882.4 L802.2,884.7 L802.4,883.7 L802.7,886.9 L803.0,885.8 L803.2,888.4 L803.5,888.6 L803.7,890.5 L803.8,891.1 L803.9,892.6 L803.9,893.2 L804.0,894.5 L804.1,895.3 L804.2,896.6 L804.3,897.2 L804.4,898.9 L804.5,899.1 L804.6,900.7 L804.7,901.2 L804.8,902.6 L804.9,903.1 L805.0,904.7 L805.1,905.1 L805.1,906.8 L805.2,907.1 L805.3,908.6 L805.4,909.6 L805.5,911.2 L805.6,911.9 L805.6,913.3 L805.7,913.9 L805.8,915.4 L805.8,915.9 L805.9,917.2 L806.0,918.0 L806.0,919.3 L806.1,920.1 L806.2,921.3 L806.2,922.0 L806.3,923.4 L806.4,924.2 L806.4,925.5 L806.5,926.1 L806.6,927.5 L806.6,928.2 L806.7,929.6 L806.8,930.2 L806.8,931.7 L806.9,932.4 L807.0,933.6 L807.0,934.4 L807.1,935.8 L807.2,936.3 L807.3,938.7 L807.5,938.5 L807.7,940.8 L808.0,941.0 L808.2,943.0 L808.4,943.2 L808.6,945.0 L808.8,945.5 L809.0,948.0 L809.5,946.7 L810.0,950.0 L810.5,948.0 L811.0,951.2 L811.4,950.2 L811.9,953.9 L812.3,952.7 L812.7,955.5 L813.2,954.1 L813.6,957.7 L813.9,956.0 L814.3,959.1 L814.7,958.6 L815.0,961.0 L815.2,960.9 L815.5,963.3 L815.8,963.3 L816.1,965.4 L816.4,965.1 L816.7,967.6 L817.0,967.3 L817.2,969.4 L817.6,969.4 L818.0,972.2 L818.3,972.1 L818.7,974.8 L819.0,974.0 L819.3,976.2 L819.7,975.9 L820.0,978.5 L820.3,978.1 L820.7,980.7 L821.0,979.5 L821.3,982.7 L821.7,981.5 L822.0,984.1 L822.4,981.8 L822.8,982.5 L823.2,980.2 L823.7,980.6 L824.1,978.2 L824.5,978.7 L824.9,975.6 L825.3,976.6 L825.7,973.9 L826.2,974.4 L826.6,972.5 L826.7,971.9 L826.8,970.2 L826.9,969.9 L827.0,968.3 L827.1,967.9 L827.2,966.3 L827.4,965.8 L827.5,964.1 L827.6,963.9 L827.7,962.2 L827.8,961.7 L827.9,959.9 L828.0,959.8 L828.1,957.9 L828.2,957.7 L828.3,956.0 L828.5,955.5 L828.6,954.0 L828.7,953.6 L828.8,951.7 L828.9,951.4 L829.0,949.6 L829.1,949.2 L829.2,947.9 L829.3,947.8 L829.6,945.5 L829.8,945.7 L830.1,942.9 L830.3,943.5 L830.6,941.7 L830.8,941.6 L831.0,939.3 L831.3,939.7 L831.5,937.9 L831.8,938.0 L832.0,935.6 L832.3,935.8 L832.5,933.6 L832.8,934.2 L833.0,931.3 L834.1,933.3 L835.3,930.8 L836.4,933.0 L837.6,929.9 L838.0,933.2 L838.3,932.6 L838.7,935.9 L839.1,934.6 L839.5,937.6 L839.9,936.1 L840.3,939.6 L840.6,937.8 L841.0,941.7 L841.4,940.8 L841.8,943.5 L842.2,942.3 L842.8,945.2 L843.5,944.1 L844.1,946.4 L844.8,945.2 L845.4,948.3 L846.1,947.4 L846.8,949.5 L847.1,947.1 L847.5,947.5 L847.8,944.9 L848.2,945.4 L848.5,943.4 L848.9,943.4 L849.2,941.4 L849.6,942.2 L849.9,939.4 L850.3,939.9 L850.6,936.7 L851.0,938.0 L851.3,935.7 L851.5,935.7 L851.7,933.3 L851.8,933.2 L852.0,931.7 L852.2,931.5 L852.3,929.3 L852.5,929.4 L852.7,927.4 L852.8,927.4 L853.0,925.4 L853.2,925.4 L853.3,923.6 L853.5,923.7 L853.7,921.3 L853.8,921.7 L854.0,919.5 L854.2,919.4 L854.3,917.4 L854.5,917.6 L854.7,915.3 L854.8,915.7 L855.0,913.9 L855.1,913.2 L855.1,911.7 L855.2,911.1 L855.3,909.8 L855.4,909.0 L855.4,907.6 L855.5,907.2 L855.6,905.5 L855.7,904.9 L855.7,903.5 L855.8,902.9 L855.9,901.5 L856.0,900.9 L856.0,899.3 L856.1,899.0 L856.2,897.5 L856.2,896.8 L856.3,895.4 L856.4,894.6 L856.5,893.3 L856.5,892.8 L856.6,891.1 L856.7,890.5 L856.8,889.2 L856.8,888.5 L856.9,887.0 L857.0,886.6 L857.1,885.1 L857.2,884.5 L857.3,882.9 L857.4,882.7 L857.5,881.0 L857.6,880.5 L857.8,878.8 L857.9,878.6 L858.0,876.7 L858.1,876.4 L858.2,874.7 L858.3,874.4 L858.4,872.7 L858.5,872.2 L858.6,870.8 L858.7,870.5 L859.1,867.5 L859.5,868.7 L859.9,866.0 L860.4,866.6 L860.8,864.3 L861.2,864.5 L861.6,862.0 L862.1,862.7 L862.5,860.0 L862.9,860.9 L863.3,858.5 L863.7,859.1 L864.2,856.3 L865.2,857.7 L866.2,856.3 L867.2,857.0 L868.2,854.9 L869.3,856.9 L870.3,855.5 L871.3,856.4 L872.3,854.6 L873.3,856.9 L874.4,854.3 L875.5,856.0 L876.6,853.3 L877.7,854.8 L878.8,852.1 L879.6,855.0 L880.5,854.3 L881.3,856.4 L882.1,854.8 L882.9,857.7 L883.7,856.4 L884.5,859.3 L885.4,857.0 L886.2,860.6 L887.2,858.5 L888.2,861.2 L889.2,859.0 L890.2,861.2 L891.3,860.6 L892.3,862.0 L893.3,861.3 L894.3,862.7 L895.3,861.8 L896.5,864.4 L897.7,862.7 L898.8,864.8 L900.0,863.8 L901.1,865.2 L902.1,863.3 L903.2,865.6 L904.2,864.5 L905.3,867.3 L906.3,864.9 L907.3,868.0 L908.2,866.2 L909.2,868.9 L910.1,866.6 L911.0,869.8 L911.9,867.3 L912.8,869.8 L913.7,868.2 L914.6,871.1 L915.5,869.4 L916.4,871.8 L917.3,870.0 L918.3,872.7 L919.2,871.8 L920.0,874.3 L920.8,873.4 L921.6,875.8 L922.4,874.4 L923.2,877.6 L924.0,876.1 L924.9,878.8 L925.7,877.4 L926.5,880.1 L926.8,879.3 L927.1,882.2 L927.4,882.2 L927.6,884.3 L927.9,883.6 L928.2,886.2 L928.5,885.7 L928.8,888.6 L929.1,887.8 L929.3,890.2 L929.5,890.7 L929.8,892.4 L930.0,892.8 L930.2,894.5 L930.3,895.3 L930.3,896.7 L930.4,897.3 L930.5,898.7 L930.6,899.4 L930.7,901.0 L930.8,901.6 L930.8,903.1 L930.9,903.7 L931.0,905.2 L931.1,905.8 L931.2,907.4 L931.3,907.9 L931.3,909.5 L931.4,910.1 L931.5,911.5 L931.6,912.1 L931.7,913.6 L931.8,914.3 L931.8,915.9 L931.9,916.3 L932.0,917.9 L932.1,918.7 L932.2,920.0 L932.2,920.6 L932.3,922.1 L932.4,922.8 L932.5,924.3 L932.5,925.0 L932.6,926.4 L932.7,927.1 L932.8,928.7 L932.9,929.2 L932.9,930.8 L933.0,931.4 L933.1,933.0 L933.2,933.7 L933.3,935.4 L933.4,935.7 L933.5,937.4 L933.6,938.0 L933.7,939.7 L933.8,939.6 L934.3,942.2 L934.8,941.4 L935.3,944.6 L935.7,943.5 L936.2,946.0 L936.7,945.4 L937.5,949.3 L937.9,948.2 L938.2,951.5 L938.6,949.8 L938.9,952.9 L939.3,952.4 L939.6,956.0 L940.0,954.1 L940.4,957.1 L940.8,956.4 L941.2,960.2 L941.5,959.1 L941.8,962.2 L942.1,961.5 L942.4,964.4 L942.8,963.2 L943.1,965.7 L943.4,964.9 L943.7,968.2 L944.0,967.1 L944.3,970.3 L944.6,969.3 L944.8,972.1 L945.1,971.1 L945.4,973.8 L945.7,973.3 L945.9,976.4 L946.2,976.0 L946.5,978.6 L946.8,977.8 L947.0,980.4 L947.3,979.5 L947.6,982.3 L947.7,981.0 L948.1,981.9 L948.6,979.2 L949.0,979.7 L949.5,976.3 L949.9,977.6 L950.4,974.9 L950.8,975.9 L951.2,972.9 L951.4,973.4 L951.5,971.6 L951.6,971.4 L951.7,969.4 L951.8,969.0 L951.9,967.5 L952.0,967.0 L952.1,965.6 L952.2,965.0 L952.3,963.2 L952.5,963.1 L952.6,961.5 L952.7,960.8 L952.8,959.3 L952.9,959.0 L953.0,957.2 L953.1,957.0 L953.2,955.3 L953.3,955.0 L953.4,953.2 L953.6,952.8 L953.7,950.9 L953.8,950.7 L953.9,949.1 L954.0,948.8 L954.1,947.1 L954.3,946.8 L954.4,945.2 L954.6,945.0 L954.8,943.0 L955.0,943.0 L955.1,941.1 L955.3,941.3 L955.5,939.3 L955.6,938.9 L955.8,937.0 L956.0,937.2 L956.2,935.4 L956.3,935.0 L956.5,932.9 L956.7,933.3 L956.9,931.0 L957.3,930.9 L957.7,927.5 L958.6,929.4 L959.6,926.0 L961.3,928.8 L962.0,928.1 L962.8,930.6 L963.5,930.1 L964.2,932.7 L964.7,931.6 L965.2,934.8 L965.8,933.4 L966.3,936.2 L966.8,935.1 L967.3,938.6 L967.8,937.3 L968.3,940.3 L968.8,939.4 L969.5,941.9 L970.2,940.8 L970.9,943.8 L971.6,942.3 L972.3,945.3 L973.4,942.3 L973.9,943.5 L974.4,940.0 L974.9,941.5 L975.5,938.4 L976.0,939.7 L976.3,936.8 L976.6,937.1 L977.0,934.9 L977.3,935.4 L977.6,932.9 L977.9,933.5 L978.1,931.3 L978.3,931.2 L978.5,929.0 L978.6,928.9 L978.8,927.1 L979.0,926.7 L979.2,924.7 L979.3,924.7 L979.5,922.9 L979.7,922.6 L979.8,920.6 L980.0,920.8 L980.1,918.7 L980.3,918.6 L980.4,916.9 L980.5,916.7 L980.7,914.9 L980.8,914.2 L980.9,912.7 L981.0,912.2 L981.1,910.5 L981.1,910.0 L981.2,908.4 L981.3,908.1 L981.4,906.6 L981.5,906.0 L981.6,904.4 L981.7,903.8 L981.8,902.3 L981.9,901.7 L982.0,900.2 L982.1,899.7 L982.1,898.0 L982.2,897.8 L982.3,895.9 L982.4,895.5 L982.5,893.5 L982.6,893.2 L982.7,891.5 L982.8,891.3 L982.9,889.7 L983.0,889.1 L983.1,887.5 L983.2,887.1 L983.3,885.6 L983.4,885.2 L983.5,883.5 L983.6,882.9 L983.7,881.5 L983.8,880.9 L983.9,879.3 L984.0,878.8 L984.1,877.4 L984.2,876.9 L984.2,875.2 L984.4,875.6 L984.6,873.2 L984.8,873.7 L985.1,870.8 L985.3,871.7 L985.6,869.4 L985.8,869.5 L986.1,867.5 L986.3,867.8 L986.6,864.7 L986.8,865.9 L987.1,863.5 L987.3,863.4 L987.5,861.1 L987.8,861.6 L988.0,859.4 L988.8,860.1 L989.9,857.7 L990.9,859.1 L992.0,857.1 L993.0,858.4 L994.1,856.4 L995.1,857.1 L996.2,855.2 L997.2,856.6 L998.0,854.5 L999.0,856.6 L1000.0,855.0 L1001.0,856.4 L1002.0,855.3 L1003.0,857.0 L1004.0,855.0 L1005.0,857.1 L1006.0,854.8 L1007.0,856.8 L1008.0,854.9 L1009.0,856.9 L1010.0,854.8 L1010.8,857.5 L1011.8,855.6 L1012.9,857.7 L1013.9,855.2 L1014.9,858.2 L1015.9,855.8 L1016.9,857.2 L1018.0,856.2 L1019.0,858.2 L1020.0,855.6 L1021.2,858.2 L1022.4,856.5 L1023.5,858.2 L1024.7,856.8 L1025.7,858.0 L1026.7,856.9 L1027.7,859.5 L1028.7,857.0 L1029.7,859.9 L1030.7,858.2 L1031.7,859.9 L1032.7,858.7 L1033.7,860.2 L1034.7,859.2 L1035.7,861.5 L1036.5,859.7 L1037.4,862.1 L1038.2,860.5 L1039.0,863.7 L1039.9,861.3 L1040.7,864.5 L1041.5,863.0 L1042.4,866.1 L1043.2,864.3 L1044.0,866.5 L1044.9,865.1 L1045.6,867.8 L1046.4,867.1 L1047.2,869.6 L1047.9,868.5 L1048.7,871.0 L1049.5,870.0 L1050.2,872.7 L1051.0,872.0 L1051.8,874.6 L1052.5,873.5 L1053.3,875.8 L1054.0,874.7 L1054.3,877.2 L1054.6,877.0 L1054.9,878.9 L1055.2,878.8 L1055.5,881.1 L1055.7,880.7 L1056.0,883.0 L1056.3,882.4 L1056.6,885.2 L1056.9,885.1 L1057.2,887.1 L1057.4,886.1 L1057.7,888.5 L1057.8,889.1 L1057.9,890.9 L1058.0,891.2 L1058.1,892.8 L1058.2,893.2 L1058.3,894.7 L1058.4,895.2 L1058.5,896.9 L1058.6,897.3 L1058.7,898.9 L1058.8,899.3 L1058.9,901.0 L1059.0,901.5 L1059.2,902.8 L1059.3,903.5 L1059.4,904.9 L1059.5,905.4 L1059.6,907.0 L1059.6,907.5 L1059.7,909.0 L1059.8,909.7 L1059.8,911.1 L1059.9,911.8 L1060.0,913.2 L1060.0,913.6 L1060.1,915.1 L1060.2,915.8 L1060.2,917.2 L1060.3,917.7 L1060.4,919.2 L1060.4,919.9 L1060.5,921.3 L1060.6,921.9 L1060.6,923.3 L1060.7,923.8 L1060.8,925.4 L1060.8,925.9 L1060.9,927.2 L1061.0,927.8 L1061.1,929.4 L1061.1,929.9 L1061.2,931.3 L1061.3,931.9 L1061.3,933.4 L1061.4,933.0 L1061.8,936.7 L1062.3,934.6 L1062.8,937.5 L1063.2,936.6 L1063.7,939.7 L1064.1,938.4 L1064.6,941.5 L1065.1,940.6 L1065.5,943.4 L1066.0,943.0 L1066.2,945.0 L1066.5,944.5 L1066.7,946.7 L1067.0,947.0 L1067.2,949.4 L1067.5,948.5 L1067.7,951.2 L1068.0,951.0 L1068.2,952.8 L1068.5,952.8 L1068.7,955.9 L1069.1,954.4 L1069.4,957.8 L1069.7,956.8 L1070.1,959.3 L1070.4,958.4 L1070.7,961.7 L1071.1,960.9 L1071.4,963.8 L1071.7,962.5 L1072.1,964.8 L1072.4,964.5 L1072.8,967.2 L1073.3,966.0 L1073.8,969.7 L1074.2,968.1 L1074.7,971.2 L1075.1,970.9" fill="none" stroke="#6a94d4" stroke-width="6.6" stroke-linejoin="round" stroke-linecap="round"/>
<path d="M200.3,1031.5 L201.2,1038.7 L202.1,1029.3 L203.0,1038.0 L203.8,1028.9 L204.7,1037.5 L205.6,1027.8 L205.9,1034.9 L206.1,1026.9 L206.3,1032.6 L206.6,1025.0 L206.8,1031.0 L207.1,1023.0 L207.3,1026.9 L207.6,1021.0 L207.8,1026.2 L208.1,1018.3 L208.3,1024.4 L208.6,1017.4 L208.8,1023.2 L209.0,1014.0 L209.3,1019.4 L209.5,1012.1 L209.8,1018.1 L210.0,1012.1 L210.2,1015.6 L210.4,1009.7 L210.6,1013.9 L210.8,1008.1 L211.0,1010.7 L211.1,1005.0 L211.3,1008.7 L211.5,1003.0 L211.7,1007.8 L211.9,1001.1 L212.1,1004.5 L212.3,998.5 L212.5,1003.7 L212.6,997.2 L212.8,1000.9 L213.0,995.7 L213.2,999.6 L213.4,993.7 L213.6,999.6 L213.8,991.2 L214.0,996.0 L214.2,988.6 L214.5,993.6 L214.7,987.3 L214.9,992.1 L215.1,984.7 L215.3,989.5 L215.6,981.7 L215.8,986.8 L216.0,979.9 L216.2,986.1 L216.4,979.5 L216.7,984.5 L216.9,976.0 L217.1,983.3 L218.2,975.1 L219.3,985.2 L220.4,974.3 L221.5,984.3 L222.4,977.6 L223.3,986.4 L224.2,976.5 L225.1,986.8 L225.9,977.5 L226.8,986.5 L227.7,975.9 L228.6,988.5 L229.5,981.6 L230.4,990.9 L231.3,982.9 L232.1,992.6 L233.0,981.7 L233.9,992.7 L234.8,983.2 L235.7,995.1 L236.6,986.2 L237.4,993.7 L238.3,986.2 L239.2,996.3 L240.1,986.6 L241.0,997.9 L241.9,990.2 L242.7,1000.0 L243.6,985.4 L244.5,1000.5 L245.4,990.7 L246.3,1000.1 L247.2,989.4 L248.1,1002.8 L248.9,994.9 L249.8,1004.6 L250.7,995.3 L251.6,1004.4 L252.5,993.2 L253.4,1006.6 L254.2,996.5 L255.1,1008.4 L256.0,993.4 L256.9,1009.2 L257.8,1000.2 L258.7,1010.8 L259.5,1001.3 L260.4,1011.4 L261.3,1003.2 L262.2,1010.7 L263.2,1002.0 L264.1,1011.5 L265.1,1004.2 L266.1,1012.8 L267.0,1003.5 L268.0,1015.8 L269.0,1005.4 L269.9,1018.2 L270.9,1008.0 L271.8,1017.9 L272.8,1008.9 L273.8,1016.5 L274.7,1008.5 L275.7,1019.5 L276.7,1010.0 L277.6,1018.2 L278.6,1011.4 L279.6,1019.1 L280.5,1010.3 L281.5,1021.4 L282.5,1011.3 L283.4,1026.9 L284.2,1012.7 L285.1,1024.1 L285.9,1014.6 L286.7,1025.9 L287.5,1017.0 L288.3,1025.3 L289.1,1017.8 L290.0,1027.7 L290.8,1019.1 L291.6,1030.1 L292.4,1021.2 L293.2,1029.3 L294.0,1022.3 L294.5,1033.3 L295.1,1022.0 L295.6,1032.6 L296.1,1024.5 L296.6,1034.5 L297.1,1025.4 L297.6,1037.2 L298.1,1024.6 L298.6,1039.8 L299.1,1025.6 L299.6,1041.4 L300.1,1030.9 L300.6,1043.6 L301.1,1032.5 L301.6,1045.3 L302.1,1035.7 L302.5,1047.2 L303.0,1038.7 L303.5,1048.3 L303.9,1038.7 L304.4,1050.5 L304.9,1042.0 L305.4,1052.1 L305.8,1044.5 L306.3,1054.4 L306.8,1044.5 L307.2,1057.1 L307.7,1046.1 L308.2,1058.5 L308.5,1049.9 L308.9,1058.5 L309.2,1051.5 L309.6,1061.1 L309.9,1052.2 L310.2,1066.6 L310.6,1054.7 L310.9,1065.7 L311.3,1055.7 L311.6,1065.6 L312.0,1059.4 L312.3,1069.4 L312.7,1060.6 L313.0,1070.9 L313.3,1062.4 L313.7,1075.7 L314.0,1065.9 L314.4,1074.6 L315.1,1062.4 L315.8,1073.5 L316.6,1064.7 L317.3,1072.4 L318.1,1062.7 L318.8,1071.5 L319.1,1056.8 L319.5,1067.4 L319.9,1057.8 L320.2,1067.2 L320.6,1056.4 L320.9,1063.1 L321.3,1052.5 L321.6,1061.3 L322.0,1052.4 L322.3,1058.5 L322.7,1048.9 L323.0,1058.6 L323.4,1046.8 L323.7,1056.8 L324.1,1047.0 L324.5,1056.3 L324.8,1044.3 L325.2,1051.2 L325.5,1042.2 L325.9,1054.1 L326.3,1038.5 L326.7,1049.2 L327.1,1038.6 L327.5,1045.7 L327.9,1036.9 L328.3,1044.3 L328.7,1035.3 L329.1,1043.7 L329.5,1033.0 L329.9,1041.3 L330.4,1031.3 L330.8,1037.7 L331.2,1029.4 L332.1,1035.9 L332.9,1027.5 L333.8,1034.7 L334.7,1026.5 L335.6,1035.4 L336.5,1023.1 L337.4,1034.8 L338.2,1022.9 L338.9,1032.9 L339.5,1020.9 L340.2,1031.4 L340.8,1018.9 L341.5,1028.9 L342.1,1019.8 L342.7,1026.1 L343.4,1018.1 L344.0,1026.4 L344.7,1015.1 L345.3,1024.9 L345.8,1011.0 L346.3,1022.6 L346.8,1012.4 L347.3,1019.9 L347.7,1008.2 L348.2,1019.4 L348.7,1007.3 L349.2,1016.2 L349.7,1004.7 L350.1,1014.6 L350.6,1004.8 L351.2,1013.5 L351.8,998.4 L352.4,1009.7 L353.0,999.1 L353.6,1007.4 L354.2,997.6 L354.8,1007.5 L355.3,993.7 L355.9,1006.4 L356.5,993.9 L357.1,1007.7 L357.7,994.9 L358.0,1002.9 L358.4,991.3 L358.7,1000.1 L359.1,990.8 L359.4,999.0 L359.7,987.9 L360.1,996.9 L360.4,985.2 L360.8,995.5 L361.1,984.2 L361.4,992.8 L361.8,983.2 L362.1,987.3 L362.3,981.5 L362.5,986.5 L362.6,980.7 L362.8,983.2 L363.0,978.3 L363.1,981.7 L363.3,976.2 L363.5,980.0 L363.6,974.4 L363.8,977.4 L364.0,973.0 L364.1,975.9 L364.3,970.3 L364.5,974.1 L364.6,967.5 L364.8,972.0 L365.0,964.0 L365.2,970.4 L365.3,964.7 L365.5,969.2 L365.7,959.2 L366.2,969.5 L366.6,957.9 L367.1,964.8 L367.6,956.7 L368.1,963.7 L368.6,951.5 L369.1,963.3 L369.6,953.1 L370.1,960.2 L371.1,950.2 L372.2,960.6 L373.3,952.0 L374.3,962.0 L375.4,950.1 L376.1,961.3 L376.7,956.0 L377.4,968.4 L378.0,954.8 L378.7,967.8 L379.4,957.9 L380.0,969.7 L380.7,959.8 L381.8,970.9 L382.8,961.0 L383.9,969.6 L384.9,961.8 L386.0,970.9 L386.9,961.6 L387.8,970.7 L388.7,963.1 L389.5,972.0 L390.4,965.8 L391.3,975.7 L392.2,966.3 L393.1,975.8 L394.1,968.0 L395.1,977.7 L396.1,966.0 L397.1,975.6 L398.1,967.6 L399.1,976.1 L400.1,969.2 L401.1,979.0 L402.1,965.6 L403.1,978.6 L404.0,970.3 L405.0,981.8 L406.1,971.7 L407.2,980.9 L408.2,967.1 L409.2,978.9 L410.2,972.2 L411.2,980.5 L412.2,970.3 L413.2,980.4 L414.2,970.8 L415.0,982.1 L415.6,974.5 L416.3,983.1 L416.9,973.6 L417.6,985.4 L418.2,976.0 L418.9,987.3 L419.6,975.8 L420.2,987.1 L420.9,980.5 L421.5,990.7 L422.5,980.8 L423.5,990.0 L424.5,982.1 L425.5,991.4 L426.5,983.3 L427.5,992.5 L428.5,983.9 L429.5,991.4 L430.5,983.8 L431.5,994.4 L432.5,984.0 L433.3,995.1 L434.2,984.6 L435.0,996.9 L435.8,986.0 L436.7,996.9 L437.5,988.5 L438.3,999.1 L439.2,989.1 L440.0,998.2 L440.8,991.2 L441.7,1002.0 L442.5,993.6 L443.3,1001.3 L444.2,995.1 L445.0,1005.4 L445.8,994.5 L446.7,1003.6 L447.5,997.0 L448.3,1005.1 L449.2,997.2 L450.0,1008.7 L450.8,999.4 L451.4,1009.3 L451.9,1000.2 L452.4,1010.9 L452.9,1001.6 L453.5,1014.4 L454.0,1005.3 L454.5,1014.8 L455.0,1006.4 L455.5,1016.6 L456.1,1009.9 L456.6,1019.2 L457.1,1011.6 L457.6,1019.3 L458.2,1011.7 L458.6,1021.4 L459.0,1013.1 L459.4,1025.4 L459.9,1016.2 L460.3,1025.5 L460.7,1019.5 L461.1,1027.3 L461.6,1018.9 L462.0,1030.8 L462.4,1022.3 L462.8,1033.6 L463.2,1023.9 L463.7,1033.4 L464.0,1024.4 L464.4,1039.4 L464.7,1027.7 L465.1,1037.2 L465.4,1024.4 L465.8,1039.2 L466.1,1029.6 L466.5,1043.1 L466.8,1034.7 L467.2,1044.0 L467.5,1036.9 L467.9,1046.8 L468.2,1039.2 L468.9,1046.8 L469.6,1036.5 L470.2,1043.9 L470.9,1034.0 L471.5,1042.0 L472.2,1032.6 L472.8,1041.2 L473.2,1029.1 L473.6,1039.0 L473.9,1030.5 L474.3,1036.2 L474.7,1027.8 L475.0,1036.1 L475.4,1025.1 L475.8,1034.3 L476.1,1023.4 L476.5,1031.6 L476.9,1021.2 L477.2,1030.6 L477.6,1019.8 L478.0,1027.6 L478.3,1017.5 L478.9,1025.0 L479.4,1017.2 L479.9,1025.7 L480.4,1012.6 L481.0,1025.3 L481.5,1011.0 L482.0,1021.8 L482.5,1010.9 L483.0,1017.9 L483.6,1005.2 L484.1,1018.1 L484.6,1007.5 L485.1,1015.9 L485.7,1005.6 L486.4,1013.1 L487.1,1004.4 L487.9,1011.0 L488.6,1003.2 L489.3,1011.1 L490.1,1001.8 L490.8,1009.3 L491.5,998.8 L492.3,1006.6 L493.0,998.8 L493.7,1005.5 L494.5,996.8 L495.2,1004.7 L495.9,993.7 L496.7,1002.1 L497.4,992.2 L498.1,1000.9 L498.9,990.8 L499.6,999.1 L500.3,988.5 L501.1,999.2 L501.8,987.5 L502.5,997.1 L503.3,988.0 L504.0,998.5 L504.7,984.2 L505.5,995.3 L506.2,985.3 L506.9,994.0 L507.7,979.9 L508.4,991.2 L509.1,980.8 L509.8,989.5 L510.5,979.1 L511.2,987.9 L511.9,978.3 L512.7,987.7 L513.4,975.8 L514.1,982.3 L514.3,976.6 L514.5,981.3 L514.7,974.6 L514.9,978.2 L515.1,972.1 L515.3,976.3 L515.5,969.5 L515.7,974.0 L515.8,968.7 L516.0,971.5 L516.2,966.0 L516.4,969.7 L516.6,963.8 L516.8,968.7 L517.0,962.6 L517.2,965.2 L517.4,959.8 L517.6,964.9 L517.8,958.3 L518.1,962.9 L518.3,954.9 L518.5,959.4 L518.7,953.8 L518.9,958.1 L519.1,949.5 L519.3,955.5 L519.5,948.9 L519.7,953.5 L519.9,947.3 L520.1,952.7 L520.3,946.0 L520.5,950.7 L520.7,942.5 L521.0,948.9 L521.2,940.7 L521.5,946.3 L521.7,935.1 L522.0,945.1 L522.2,937.6 L522.5,941.9 L522.7,935.3 L522.9,940.7 L523.2,931.4 L523.4,937.9 L523.7,929.9 L523.9,936.3 L524.2,928.1 L524.9,936.5 L525.6,927.3 L526.4,933.4 L527.1,925.0 L527.8,933.0 L528.4,923.6 L529.1,935.2 L529.7,927.1 L530.3,934.9 L530.9,926.5 L531.5,938.9 L532.1,928.4 L532.7,939.8 L533.3,930.8 L534.1,942.4 L534.8,933.1 L535.5,942.7 L536.3,934.2 L537.0,943.4 L537.7,935.0 L538.5,944.7 L539.2,935.7 L539.9,945.9 L540.7,937.3 L541.3,954.2 L542.0,941.8 L542.7,950.5 L543.3,941.4 L544.0,950.6 L544.7,943.4 L545.3,953.7 L546.0,945.6 L546.7,956.2 L547.3,948.2 L548.0,960.7 L549.0,949.7 L550.1,957.7 L551.1,949.4 L552.2,957.3 L553.2,949.2 L554.3,958.9 L555.3,948.4 L556.0,959.0 L556.7,952.3 L557.3,962.6 L558.0,952.5 L558.7,962.5 L559.3,954.3 L560.0,966.2 L560.7,957.9 L561.3,967.0 L562.0,957.3 L562.7,968.1 L563.5,958.1 L564.3,969.4 L565.1,960.4 L565.9,970.1 L566.7,962.2 L567.6,973.2 L568.4,963.1 L569.2,974.6 L570.0,964.2 L570.9,974.6 L571.8,966.7 L572.8,976.9 L573.7,966.0 L574.6,977.8 L575.5,966.2 L576.4,976.9 L577.3,967.5 L578.3,978.5 L579.2,968.7 L580.0,980.8 L580.8,969.6 L581.6,980.6 L582.4,972.6 L583.2,983.7 L584.1,974.5 L584.9,982.0 L585.7,975.7 L586.5,985.5 L587.2,975.8 L587.8,984.7 L588.5,977.1 L589.1,988.9 L589.8,980.3 L590.4,990.1 L591.1,980.9 L591.4,989.8 L591.7,983.2 L592.0,992.1 L592.3,984.6 L592.6,994.6 L592.9,991.2 L592.9,992.5 L592.9,993.1 L593.0,994.5 L593.0,995.1 L593.0,996.4 L593.0,997.1 L593.0,998.5 L593.0,999.2 L593.0,1000.5 L593.0,1001.2 L593.0,1002.5 L593.1,1003.2 L593.1,1004.5 L593.1,1005.2 L593.1,1006.4 L593.1,1007.2 L593.1,1008.5 L593.1,1009.1 L593.1,1010.5 L593.2,1011.2 L593.2,1012.6 L593.2,1013.1 L593.2,1014.6 L593.2,1015.2 L593.2,1016.6 L593.2,1017.2 L593.2,1018.6 L593.2,1019.2 L593.3,1020.5 L593.3,1021.2 L593.3,1022.5 L593.3,1023.2 L593.3,1024.6 L593.3,1025.3 L593.3,1026.5 L593.3,1027.3 L593.4,1028.5 L593.4,1029.3 L593.4,1030.6 L593.4,1031.3 L593.4,1032.6 L593.4,1033.2 L593.4,1034.6 L593.4,1035.3 L593.4,1036.6 L593.5,1037.3 L593.5,1038.7 L593.5,1039.2 L593.5,1040.6 L593.5,1041.3 L593.5,1042.7 L593.5,1043.2 L593.5,1044.6 L593.6,1045.3 L593.6,1046.6 L593.6,1047.3 L593.6,1048.7 L593.6,1049.3 L593.6,1050.6 L593.6,1051.4 L593.6,1052.8 L593.6,1053.3 L593.7,1054.7 L593.7,1055.4 L593.7,1056.6 L593.7,1057.4 L593.7,1058.8 L593.7,1059.3 L593.7,1060.7 L593.7,1061.4 L593.7,1062.7 L593.8,1063.4 L593.8,1064.7 L593.8,1065.3 L593.8,1066.8 L593.8,1067.4 L593.8,1068.8 L593.8,1065.3 L594.9,1069.9 L594.9,1068.8 L594.9,1067.9 L594.9,1066.7 L595.0,1065.9 L595.0,1064.7 L595.0,1063.8 L595.0,1062.7 L595.0,1061.9 L595.0,1060.7 L595.0,1059.8 L595.0,1058.7 L595.0,1057.8 L595.0,1056.7 L595.0,1055.8 L595.0,1054.6 L595.0,1053.8 L595.0,1052.6 L595.0,1051.8 L595.0,1050.6 L595.0,1049.7 L595.1,1048.6 L595.1,1047.8 L595.1,1046.6 L595.1,1045.7 L595.1,1044.6 L595.1,1043.7 L595.1,1042.5 L595.1,1041.7 L595.1,1040.5 L595.1,1039.7 L595.1,1038.5 L595.1,1037.7 L595.1,1036.5 L595.1,1035.7 L595.1,1034.5 L595.1,1033.7 L595.1,1032.5 L595.2,1031.6 L595.2,1030.5 L595.2,1029.6 L595.2,1028.4 L595.2,1027.6 L595.2,1026.4 L595.2,1025.6 L595.2,1024.4 L595.2,1023.6 L595.2,1022.4 L595.2,1021.6 L595.2,1020.4 L595.2,1019.5 L595.2,1018.4 L595.2,1017.6 L595.2,1016.4 L595.2,1015.5 L595.3,1014.4 L595.3,1013.5 L595.3,1012.3 L595.3,1011.5 L595.3,1010.3 L595.3,1009.5 L595.3,1008.3 L595.3,1007.5 L595.3,1006.3 L595.3,1005.5 L595.3,1004.3 L595.3,1003.4 L595.3,1002.3 L595.3,1001.4 L595.3,1000.2 L595.3,999.4 L595.3,998.2 L595.4,997.4 L595.4,996.3 L595.4,995.4 L595.4,994.2 L595.4,993.4 L595.4,992.2 L595.4,991.4 L595.4,990.2 L595.4,989.3 L595.4,988.2 L595.4,987.3 L595.4,986.2 L595.4,985.4 L595.4,984.1 L595.4,983.3 L595.4,982.2 L595.4,981.3 L595.5,980.1 L595.5,979.3 L595.5,978.1 L595.5,977.2 L595.5,976.1 L595.5,975.2 L595.5,974.1 L595.5,973.2 L595.5,972.1 L595.5,971.2 L595.5,970.0 L595.5,969.2 L595.5,968.0 L595.5,967.2 L595.5,966.0 L595.5,965.2 L595.5,964.0 L595.6,963.2 L595.6,962.0 L595.6,961.2 L595.6,960.0 L595.6,959.1 L595.6,957.9 L595.6,957.1 L595.6,956.0 L595.6,955.1 L595.6,953.9 L595.6,953.1 L595.6,951.9 L595.6,951.1 L595.6,949.9 L595.6,949.0 L595.6,947.9 L595.6,947.1 L595.7,945.9 L595.7,945.0 L595.7,943.8 L595.7,943.0 L595.7,941.9 L595.7,941.0 L595.7,939.8 L595.7,939.0 L595.7,937.8 L595.7,937.1 L595.7,935.8 L595.7,935.1 L595.7,933.8 L595.8,933.0 L595.8,931.8 L595.8,931.1 L595.8,929.8 L595.8,929.0 L595.8,927.7 L595.8,927.0 L595.8,925.8 L595.8,925.0 L595.8,923.8 L595.8,923.0 L595.8,921.7 L595.9,921.0 L595.9,919.8 L595.9,919.0 L595.9,917.8 L595.9,917.0 L595.9,915.7 L595.9,915.0 L595.9,913.7 L595.9,913.0 L595.9,911.8 L595.9,911.0 L595.9,909.7 L596.0,909.1 L596.0,907.7 L596.0,907.0 L596.0,905.8 L596.0,905.0 L596.0,903.7 L596.0,902.9 L596.0,901.7 L596.0,901.0 L596.0,899.7 L596.0,898.9 L596.0,897.7 L596.1,896.9 L596.1,895.7 L596.1,894.9 L596.1,893.7 L596.1,893.0 L596.1,891.8 L596.1,890.9 L596.1,889.7 L596.1,889.0 L596.1,887.7 L596.1,886.9 L596.1,885.7 L596.2,884.9 L596.2,883.7 L596.2,883.0 L596.2,881.7 L596.2,881.0 L596.2,879.7 L596.2,878.9 L596.2,877.6 L596.2,877.0 L596.2,875.7 L596.2,874.9 L596.2,873.6 L596.3,872.9 L596.3,871.7 L596.3,870.9 L596.3,869.7 L596.3,868.9 L596.3,867.6 L596.3,866.9 L596.3,865.7 L596.3,864.9 L596.3,863.7 L596.3,862.9 L596.3,861.7 L596.4,860.9 L596.4,859.6 L596.4,858.9 L596.4,857.6 L596.4,856.9 L596.4,855.6 L596.4,854.9 L596.4,853.6 L596.4,852.8 L596.4,851.7 L596.4,850.9 L596.4,849.6 L596.5,848.9 L596.5,847.6 L596.5,846.9 L596.5,845.7 L596.5,844.9 L596.5,843.6 L596.5,842.8 L596.5,841.6 L596.5,840.9 L596.5,839.6 L596.5,838.9 L596.5,837.7 L596.6,836.9 L596.6,835.6 L596.6,834.9 L596.6,832.4 L596.7,834.2 L596.8,830.8 L596.9,832.1 L597.0,828.5 L597.1,830.5 L597.2,826.4 L597.3,828.3 L597.4,824.8 L597.5,825.8 L597.6,822.4 L597.7,824.6 L597.8,820.5 L597.9,821.8 L598.0,818.2 L598.1,819.8 L598.2,816.3 L598.2,818.0 L598.3,814.0 L598.4,816.8 L598.5,812.8 L598.6,813.8 L598.7,810.0 L598.8,811.8 L598.9,808.7 L599.0,809.9 L599.1,806.0 L599.2,808.5 L599.3,803.4 L599.5,808.4 L599.7,800.9 L599.9,805.2 L600.1,799.3 L600.3,802.7 L600.6,796.4 L600.8,800.5 L601.0,795.4 L601.2,800.1 L601.4,792.9 L601.6,798.2 L601.8,790.0 L602.0,796.2 L602.2,789.2 L602.4,792.4 L602.6,786.9 L602.8,792.1 L603.0,782.6 L603.5,790.8 L604.1,782.2 L604.6,788.8 L605.2,775.4 L605.7,787.9 L606.2,775.9 L606.8,787.3 L607.3,776.1 L608.5,783.5 L609.4,774.0 L610.3,782.0 L611.2,773.1 L612.1,781.3 L612.9,771.4 L613.8,780.5 L614.7,770.3 L615.6,777.1 L616.5,767.7 L617.7,778.5 L618.4,770.6 L619.2,781.0 L620.0,772.0 L620.8,782.7 L621.5,772.0 L622.3,782.9 L623.1,775.6 L623.8,784.6 L624.4,771.1 L625.0,785.8 L625.6,776.5 L626.2,788.9 L626.9,779.4 L627.5,788.1 L628.1,782.5 L628.7,791.6 L629.3,783.5 L629.8,791.9 L630.2,784.1 L630.6,793.6 L631.0,786.2 L631.4,797.7 L631.9,788.9 L632.3,797.5 L632.7,787.7 L633.1,803.8 L633.6,792.0 L634.0,802.6 L634.4,794.8 L634.8,804.0 L635.1,798.0 L635.4,805.8 L635.7,800.5 L635.9,808.7 L636.2,801.4 L636.5,809.2 L636.8,804.5 L637.0,810.9 L637.3,805.5 L637.6,813.8 L637.9,806.8 L638.1,814.9 L638.4,808.7 L638.7,818.7 L639.0,810.7 L639.2,819.3 L639.5,812.5 L639.8,820.9 L640.1,815.3 L640.3,824.4 L640.6,818.8 L640.9,827.2 L641.2,820.0 L641.4,829.4 L641.7,822.2 L642.0,829.0 L642.3,824.1 L642.5,831.0 L642.8,825.0 L643.1,835.2 L643.4,826.8 L643.6,835.9 L643.9,828.9 L644.2,839.0 L644.5,831.2 L644.7,841.5 L645.0,834.1 L645.3,842.8 L645.6,836.4 L645.8,842.7 L646.0,839.9 L646.2,844.9 L646.3,841.7 L646.5,847.3 L646.7,842.7 L646.8,848.3 L647.0,845.8 L647.2,850.6 L647.3,847.9 L647.5,852.2 L647.7,850.0 L647.8,854.8 L648.0,850.7 L648.2,856.3 L648.3,852.8 L648.5,859.2 L648.7,855.8 L648.8,861.6 L649.0,857.9 L649.2,863.7 L649.3,860.0 L649.5,864.6 L649.7,861.4 L649.8,866.2 L650.0,863.2 L650.2,869.7 L650.3,864.9 L650.5,870.7 L650.7,867.9 L650.8,873.5 L651.0,869.1 L651.2,874.6 L651.3,872.0 L651.5,876.8 L651.7,873.0 L651.8,878.2 L652.0,875.4 L652.2,880.5 L652.3,877.1 L652.5,882.6 L652.7,879.8 L652.8,884.8 L653.0,881.9 L653.2,886.5 L653.4,883.6 L653.6,889.3 L653.8,885.6 L654.0,892.2 L654.2,886.3 L654.4,892.8 L654.6,889.8 L654.8,896.1 L655.0,890.9 L655.2,896.7 L655.4,893.4 L655.6,900.3 L655.8,894.3 L656.0,901.1 L656.2,896.9 L656.4,902.8 L656.6,899.8 L656.8,906.5 L657.1,901.8 L657.3,908.0 L657.5,903.1 L657.7,910.8 L658.0,904.8 L658.2,912.4 L658.4,907.4 L658.7,914.8 L658.9,908.8 L659.1,915.5 L659.4,911.6 L659.6,917.8 L659.8,914.4 L660.0,920.9 L660.3,914.9 L660.5,926.1 L660.8,917.6 L661.1,926.9 L661.3,918.1 L661.6,928.5 L661.9,920.3 L662.2,929.2 L662.5,922.9 L662.8,930.7 L663.0,922.2 L663.3,932.3 L663.6,927.0 L663.9,934.0 L664.2,929.0 L664.5,936.4 L664.7,930.8 L665.0,938.0 L665.3,931.3 L665.6,940.6 L665.9,934.8 L666.1,942.6 L666.4,936.3 L666.7,944.5 L667.0,938.5 L667.3,947.1 L667.5,940.3 L667.8,947.7 L668.1,942.1 L668.4,950.9 L668.7,945.5 L669.0,952.1 L669.2,946.2 L669.5,955.1 L669.8,948.6 L670.1,955.7 L670.4,950.9 L670.7,957.6 L670.9,951.7 L671.2,960.6 L671.5,955.0 L671.9,964.9 L672.2,955.1 L672.6,969.7 L673.0,957.5 L673.3,966.8 L673.7,960.9 L674.1,970.4 L674.4,960.9 L674.8,969.8 L675.2,961.7 L675.5,973.2 L675.9,963.1 L676.3,976.6 L676.6,964.4 L677.0,976.6 L677.3,970.8 L677.6,977.9 L678.0,972.4 L678.3,980.7 L678.6,972.4 L678.9,984.8 L679.3,976.4 L679.6,985.8 L679.9,977.2 L680.2,987.2 L680.6,977.4 L680.9,988.9 L681.2,981.8 L681.5,989.2 L681.9,981.8 L682.2,993.1 L682.5,985.7 L683.0,996.0 L683.6,986.5 L684.1,995.6 L684.7,986.7 L685.2,1000.3 L685.8,990.7 L686.4,1001.5 L686.9,990.2 L687.5,1002.0 L688.0,993.8 L688.5,1003.5 L688.9,995.0 L689.4,1004.2 L689.8,995.7 L690.3,1006.9 L690.8,998.6 L691.2,1007.9 L691.7,1001.0 L692.1,1013.3 L692.6,1003.3 L693.0,1012.2 L693.5,1006.2 L694.1,1015.0 L694.7,1007.7 L695.3,1016.4 L695.9,1009.0 L696.6,1019.9 L697.2,1010.7 L697.8,1017.3 L698.4,1004.8 L699.0,1016.9 L699.6,1008.6 L700.2,1017.2 L700.8,1006.3 L701.4,1015.2 L702.1,1002.1 L702.7,1012.5 L703.4,1000.7 L704.1,1010.5 L704.9,1001.0 L705.6,1008.5 L706.3,997.9 L707.1,1008.4 L707.8,996.1 L708.5,1007.8 L709.3,997.0 L710.0,1006.5 L710.9,995.8 L711.8,1005.5 L712.7,991.4 L713.7,1004.6 L714.6,994.2 L715.5,1003.0 L716.4,991.8 L717.3,999.5 L718.2,992.7 L719.2,999.5 L720.1,991.8 L721.0,1000.5 L721.9,990.4 L722.8,999.6 L723.8,989.2 L724.7,997.3 L725.4,986.4 L726.1,995.6 L726.9,986.5 L727.6,993.1 L728.3,984.1 L729.1,994.1 L729.8,981.5 L730.5,992.5 L731.3,980.4 L732.0,990.3 L732.7,980.1 L733.3,987.8 L734.0,979.0 L734.7,985.8 L735.3,975.6 L736.0,984.5 L736.7,973.7 L737.3,983.6 L738.0,973.6 L738.7,986.9 L739.3,971.3 L739.8,979.1 L740.2,969.3 L740.6,976.8 L741.0,966.3 L741.4,979.7 L741.9,966.1 L742.3,975.2 L742.7,962.2 L743.1,970.5 L743.6,957.0 L744.0,971.2 L744.4,959.9 L744.8,969.1 L745.2,958.0 L745.7,965.6 L746.1,954.3 L746.5,963.3 L746.9,954.8 L747.3,961.8 L747.8,950.8 L748.2,960.3 L748.6,950.7 L749.0,959.3 L749.4,946.4 L750.0,960.1 L750.5,944.7 L751.1,954.2 L751.6,942.7 L752.2,954.0 L752.7,942.1 L753.3,951.4 L753.8,940.4 L754.4,949.8 L754.9,940.0 L755.6,949.0 L756.3,940.7 L757.1,949.0 L757.8,940.4 L758.5,955.6 L759.2,938.7 L759.9,953.2 L760.6,943.8 L761.3,956.0 L762.1,945.2 L763.0,955.4 L763.8,946.7 L764.6,958.2 L765.4,948.8 L766.2,961.4 L767.0,946.9 L767.9,960.0 L768.7,951.7 L769.4,961.9 L770.1,952.6 L770.9,961.9 L771.6,954.5 L772.3,964.1 L773.1,953.1 L773.8,965.5 L774.5,958.1 L775.3,971.9 L776.0,959.3 L776.8,969.6 L777.6,959.1 L778.4,970.8 L779.3,960.9 L780.1,970.9 L780.9,961.1 L781.7,973.9 L782.5,962.2 L783.3,974.0 L784.2,965.3 L785.2,973.2 L786.1,967.2 L787.0,976.4 L787.9,967.8 L788.8,976.7 L789.8,966.1 L790.7,977.5 L791.5,969.9 L792.3,982.7 L793.1,969.5 L793.9,979.9 L794.7,972.0 L795.6,979.4 L796.4,972.5 L797.2,982.3 L798.0,974.7 L798.7,984.7 L799.3,975.0 L800.0,985.4 L800.6,977.8 L801.2,987.9 L801.8,981.1 L802.3,989.5 L802.9,978.5 L803.5,991.7 L803.7,981.5 L804.1,993.2 L804.5,986.0 L804.9,995.3 L805.3,985.5 L805.7,997.0 L806.1,987.9 L806.5,998.2 L806.9,990.9 L807.3,1003.7 L807.9,992.7 L808.4,1003.3 L809.0,993.3 L809.6,1004.1 L810.3,995.6 L810.9,1006.2 L811.6,999.1 L812.2,1007.4 L812.8,999.4 L813.4,1010.7 L813.9,1000.7 L814.5,1013.3 L815.0,1001.2 L815.6,1014.8 L816.1,1004.6 L816.7,1015.1 L817.2,1006.4 L817.8,1019.9 L818.3,1010.5 L820.0,1017.6 L821.0,1007.7 L821.9,1017.3 L822.9,1008.2 L823.8,1017.2 L824.3,1007.8 L824.7,1015.7 L825.2,1004.8 L825.7,1014.4 L826.1,1004.3 L826.6,1011.4 L827.0,1000.8 L827.5,1011.5 L828.0,999.8 L828.4,1008.8 L828.9,997.5 L829.3,1007.5 L830.1,995.5 L830.8,1005.8 L831.5,996.1 L832.3,1002.2 L833.0,994.3 L833.7,1002.8 L834.5,992.8 L835.2,1002.4 L835.9,989.4 L836.7,999.6 L837.7,989.5 L838.7,998.5 L839.7,989.3 L840.7,999.9 L841.8,988.1 L842.8,998.9 L843.8,987.3 L844.8,997.3 L845.8,988.8 L846.7,1000.7 L847.7,986.8 L848.6,995.9 L849.5,985.8 L850.4,995.9 L851.3,983.9 L852.3,993.8 L853.2,986.5 L853.5,992.0 L853.7,984.6 L854.0,991.2 L854.3,980.8 L854.6,987.3 L854.9,978.7 L855.2,987.6 L855.5,977.3 L855.8,983.8 L856.1,976.4 L856.4,981.7 L856.6,974.9 L856.9,981.6 L857.2,972.1 L857.5,980.0 L857.8,970.9 L858.1,977.2 L858.4,967.3 L858.7,974.7 L859.0,965.4 L859.3,973.0 L859.6,963.6 L859.9,970.6 L860.2,961.0 L860.5,967.8 L860.8,958.4 L861.1,966.4 L861.4,958.3 L861.7,964.0 L862.0,957.0 L862.3,966.2 L862.6,952.0 L862.9,963.7 L863.2,953.0 L863.8,959.3 L864.4,944.7 L865.0,958.4 L865.6,947.6 L866.2,955.6 L866.8,948.0 L867.3,956.3 L867.9,946.2 L868.5,953.4 L869.1,942.6 L869.7,953.0 L870.8,938.2 L871.9,950.2 L873.0,940.8 L874.1,949.6 L875.2,941.0 L876.0,951.5 L876.8,942.0 L877.6,950.7 L878.4,944.1 L879.2,953.4 L880.1,945.0 L880.9,954.2 L881.7,943.9 L882.5,955.5 L883.2,946.6 L883.8,959.6 L884.5,948.8 L885.2,959.0 L885.8,949.0 L886.5,960.1 L887.2,951.5 L887.8,963.1 L888.5,953.4 L889.2,962.2 L889.8,956.3 L890.7,964.0 L891.5,956.5 L892.3,965.3 L893.2,959.1 L894.0,966.6 L894.8,955.5 L895.7,970.0 L896.5,958.1 L897.3,970.4 L898.2,961.6 L899.0,971.3 L900.0,961.7 L900.9,971.7 L901.8,965.7 L902.8,975.4 L903.7,966.0 L904.6,975.7 L905.5,964.9 L906.4,975.7 L907.3,963.1 L908.2,977.4 L909.1,967.4 L910.0,979.5 L910.9,969.1 L911.9,980.1 L912.8,968.6 L913.7,980.8 L914.7,969.6 L915.6,980.1 L916.5,973.6 L917.3,984.1 L918.3,975.3 L919.2,986.5 L920.1,974.8 L921.0,986.6 L922.0,977.9 L922.9,987.5 L923.8,978.5 L924.8,987.8 L925.7,974.5 L926.5,988.4 L927.0,979.6 L927.5,989.2 L928.1,981.2 L928.6,991.8 L929.1,985.2 L929.6,994.6 L930.1,984.6 L930.7,997.0 L931.2,986.8 L932.0,996.8 L932.4,990.9 L932.7,999.1 L933.1,993.5 L933.4,1003.5 L933.8,994.3 L934.1,1004.4 L934.5,997.4 L934.9,1006.9 L935.2,998.2 L935.5,1009.3 L935.8,999.3 L936.2,1009.1 L936.5,1003.6 L936.8,1013.2 L937.2,1004.5 L937.5,1013.2 L937.9,1005.2 L938.3,1015.7 L938.7,1008.6 L939.0,1017.4 L939.4,1009.9 L939.9,1018.8 L940.4,1010.8 L941.0,1021.6 L941.5,1011.9 L942.0,1022.5 L942.5,1016.3 L943.0,1025.7 L944.0,1014.3 L944.8,1027.2 L945.6,1014.3 L946.4,1021.7 L947.2,1013.1 L947.9,1020.9 L948.7,1009.7 L949.5,1020.4 L950.3,1010.1 L950.8,1018.7 L951.3,1005.5 L951.7,1015.9 L952.2,1006.2 L952.7,1016.5 L953.1,1004.1 L953.6,1012.7 L954.1,1001.6 L954.6,1009.7 L955.0,1000.0 L955.8,1008.2 L956.6,998.3 L957.3,1007.8 L958.0,991.9 L958.7,1005.2 L959.5,993.9 L960.2,1005.0 L960.9,994.5 L961.6,1002.4 L962.4,992.3 L963.2,1000.1 L964.3,991.8 L965.3,999.4 L966.4,989.7 L967.5,1000.5 L968.6,991.4 L969.7,998.3 L970.6,989.3 L971.5,996.5 L972.3,986.9 L973.0,1000.2 L973.7,984.9 L974.3,995.5 L975.0,984.3 L975.7,997.4 L976.4,984.1 L977.0,990.8 L977.6,980.5 L978.1,988.5 L978.6,980.1 L979.1,987.4 L979.7,978.4 L980.0,985.4 L980.4,974.0 L980.7,984.5 L981.1,974.3 L981.5,981.0 L981.8,971.1 L982.2,979.5 L982.5,971.9 L982.8,975.2 L983.1,969.3 L983.3,972.5 L983.6,966.8 L983.8,972.8 L984.0,963.4 L984.2,969.2 L984.4,960.9 L984.7,967.6 L984.9,960.3 L985.1,964.5 L985.3,959.2 L985.5,963.4 L985.8,955.7 L986.0,960.6 L986.2,954.8 L986.5,961.1 L986.7,951.9 L987.0,959.1 L987.3,950.3 L987.5,955.2 L987.8,947.1 L988.0,954.1 L988.3,945.4 L988.6,952.0 L988.8,944.0 L989.2,948.8 L989.5,940.1 L989.9,947.0 L990.3,937.3 L990.7,946.1 L991.0,935.1 L991.4,945.1 L991.8,934.7 L992.2,944.0 L992.6,932.0 L993.0,939.4 L993.4,926.4 L993.5,938.1 L994.2,930.3 L994.8,941.9 L995.4,932.3 L996.1,942.5 L996.7,935.1 L997.4,945.1 L998.0,936.4 L999.0,947.4 L999.6,937.3 L1000.3,949.2 L1000.9,938.2 L1001.5,949.5 L1002.1,940.9 L1002.7,955.7 L1003.3,943.3 L1003.9,952.5 L1004.5,943.2 L1005.3,953.1 L1006.1,945.6 L1007.0,956.0 L1007.8,947.8 L1008.6,957.9 L1009.4,949.0 L1010.2,958.4 L1011.1,949.9 L1011.9,962.0 L1012.7,951.9 L1013.4,962.4 L1014.1,950.9 L1014.9,963.2 L1015.6,954.5 L1016.3,967.4 L1017.1,954.5 L1017.8,966.4 L1018.5,956.5 L1019.3,966.8 L1020.0,954.2 L1021.0,969.6 L1022.0,958.4 L1022.9,968.3 L1023.8,960.1 L1024.7,971.1 L1025.6,962.3 L1026.5,972.0 L1027.5,961.2 L1028.4,972.9 L1029.3,961.4 L1030.2,972.3 L1031.1,966.3 L1032.0,974.7 L1033.0,965.2 L1033.9,974.7 L1034.8,966.2 L1035.7,977.6 L1036.6,967.7 L1037.5,976.6 L1038.5,969.8 L1039.4,978.1 L1040.2,970.3 L1041.0,978.8 L1041.8,971.0 L1042.6,980.8 L1043.5,973.4 L1044.3,984.3 L1045.1,973.3 L1045.9,983.6 L1046.7,974.8 L1047.5,984.7 L1048.2,977.6 L1048.9,986.2 L1049.7,980.0 L1050.4,988.2 L1051.1,980.1 L1051.9,991.3 L1052.6,980.4 L1053.3,990.6 L1054.0,982.5 L1054.7,991.9 L1055.3,984.8 L1055.9,995.3 L1056.5,984.7 L1057.1,996.7 L1057.7,987.3 L1058.3,997.1 L1058.9,988.2 L1059.6,999.4 L1060.0,990.6 L1060.5,1002.3 L1060.9,992.0 L1061.4,1004.4 L1061.9,991.3 L1062.3,1005.9 L1062.8,996.4 L1063.2,1007.0 L1063.7,997.3 L1064.1,1009.9 L1064.6,1001.7 L1065.1,1011.9 L1065.5,1001.2 L1066.0,1012.8 L1066.4,1003.2 L1066.9,1015.6 L1067.4,1005.0 L1067.8,1016.8 L1068.3,1008.6 L1068.7,1017.6 L1069.1,1009.7 L1069.5,1020.4 L1070.0,1011.0 L1070.4,1021.3 L1070.8,1014.9 L1071.2,1024.1 L1071.6,1014.9 L1072.0,1025.9 L1072.4,1018.7 L1073.3,1027.9 L1074.2,1016.8 L1075.1,1025.0 L1076.1,1017.3 L1076.4,1023.6 L1076.8,1015.1 L1077.2,1022.6 L1077.5,1007.5 L1077.9,1014.9" fill="none" stroke="#dc7733" stroke-width="7" stroke-linejoin="round" stroke-linecap="round"/>
<path d="M187.2,760.6 H200.2 V1083.2 H1082.2 V760.6 H1095.2" fill="none" stroke="#000" stroke-width="4.2" stroke-linejoin="round"/>
<line x1="187.2" y1="868.1" x2="200.2" y2="868.1" stroke="#000" stroke-width="4.2"/>
<line x1="1082.2" y1="868.1" x2="1095.2" y2="868.1" stroke="#000" stroke-width="4.2"/>
<line x1="187.2" y1="975.7" x2="200.2" y2="975.7" stroke="#000" stroke-width="4.2"/>
<line x1="1082.2" y1="975.7" x2="1095.2" y2="975.7" stroke="#000" stroke-width="4.2"/>
<line x1="187.2" y1="1083.2" x2="200.2" y2="1083.2" stroke="#000" stroke-width="4.2"/>
<line x1="1082.2" y1="1083.2" x2="1095.2" y2="1083.2" stroke="#000" stroke-width="4.2"/>
<line x1="200.2" y1="1083.2" x2="200.2" y2="1093.2" stroke="#000" stroke-width="4.2"/>
<line x1="376.6" y1="1083.2" x2="376.6" y2="1093.2" stroke="#000" stroke-width="4.2"/>
<line x1="553.0" y1="1083.2" x2="553.0" y2="1093.2" stroke="#000" stroke-width="4.2"/>
<line x1="729.4" y1="1083.2" x2="729.4" y2="1093.2" stroke="#000" stroke-width="4.2"/>
<line x1="905.8" y1="1083.2" x2="905.8" y2="1093.2" stroke="#000" stroke-width="4.2"/>
<line x1="1082.2" y1="1083.2" x2="1082.2" y2="1093.2" stroke="#000" stroke-width="4.2"/>
<text transform="translate(181.8,782.7) scale(1,1.02)" font-size="42" text-anchor="end" fill="#231f20" font-family="Liberation Sans, sans-serif">100</text>
<text transform="translate(181.8,887.2) scale(1,1.02)" font-size="42" text-anchor="end" fill="#231f20" font-family="Liberation Sans, sans-serif">80</text>
<text transform="translate(181.8,990.2) scale(1,1.02)" font-size="42" text-anchor="end" fill="#231f20" font-family="Liberation Sans, sans-serif">60</text>
<text transform="translate(181.8,1094.2) scale(1,1.02)" font-size="42" text-anchor="end" fill="#231f20" font-family="Liberation Sans, sans-serif">40</text>
<text transform="translate(1102,776.7) scale(1,1.02)" font-size="42" fill="#231f20" font-family="Liberation Sans, sans-serif">0.54</text>
<text transform="translate(1102,885.7) scale(1,1.02)" font-size="42" fill="#231f20" font-family="Liberation Sans, sans-serif">0.52</text>
<text transform="translate(1102,989.7) scale(1,1.02)" font-size="42" fill="#231f20" font-family="Liberation Sans, sans-serif">0.50</text>
<text transform="translate(1102,1092.2) scale(1,1.02)" font-size="42" fill="#231f20" font-family="Liberation Sans, sans-serif">0.48</text>
<text transform="translate(208.0,1134.5) scale(1,1.02)" font-size="42" text-anchor="middle" fill="#231f20" font-family="Liberation Sans, sans-serif">0</text>
<text transform="translate(377.2,1134.5) scale(1,1.02)" font-size="42" text-anchor="middle" fill="#231f20" font-family="Liberation Sans, sans-serif">5</text>
<text transform="translate(553.5,1134.5) scale(1,1.02)" font-size="42" text-anchor="middle" fill="#231f20" font-family="Liberation Sans, sans-serif">10</text>
<text transform="translate(728.5,1134.5) scale(1,1.02)" font-size="42" text-anchor="middle" fill="#231f20" font-family="Liberation Sans, sans-serif">15</text>
<text transform="translate(906.1,1134.5) scale(1,1.02)" font-size="42" text-anchor="middle" fill="#231f20" font-family="Liberation Sans, sans-serif">20</text>
<text transform="translate(1078.0,1134.5) scale(1,1.02)" font-size="42" text-anchor="middle" fill="#231f20" font-family="Liberation Sans, sans-serif">25</text>
<text transform="translate(636.7,1185.5) scale(1.016,1)" font-size="42" text-anchor="middle" fill="#231f20" font-family="Liberation Sans, sans-serif">Time (h)</text>
<text transform="translate(95.6,923.05) rotate(-90) scale(0.97,1.02)" font-size="43" text-anchor="middle" fill="#231f20" font-family="Liberation Sans, sans-serif">O<tspan font-size="27" dy="12">2</tspan><tspan dy="-12"> saturation (%)</tspan></text>
<text transform="translate(1206,921.3) rotate(90)" font-size="42" text-anchor="middle" fill="#231f20" font-family="Liberation Sans, sans-serif">425 nm / 488 nm</text>
<text transform="translate(608.5,692.8) scale(1.023,1)" font-size="33" text-anchor="middle" fill="#231f20" font-family="Liberation Sans, sans-serif">2 mM Diamide</text>
<line x1="594.2" y1="700.9" x2="594.2" y2="734.4" stroke="#222" stroke-width="4.1"/>
<path d="M583.9000000000001,729.6 L594.2,733.0 L604.5,729.6 L594.2,754.2 Z" fill="#2a2a2a"/>
<text transform="translate(1,1330.8) scale(1,1.06)" font-size="58" font-weight="bold" fill="#231f20" font-family="Liberation Sans, sans-serif">c</text>
<path d="M201.2,1591.9 L201.3,1591.5 L201.4,1589.6 L201.6,1589.4 L201.7,1587.8 L201.8,1587.5 L201.9,1585.5 L202.1,1585.4 L202.2,1583.6 L202.3,1583.2 L202.5,1581.8 L202.6,1581.3 L202.7,1579.5 L202.8,1579.1 L203.0,1577.6 L203.0,1577.1 L203.1,1575.8 L203.2,1575.0 L203.3,1573.6 L203.3,1573.2 L203.4,1571.6 L203.5,1571.2 L203.6,1569.8 L203.7,1569.1 L203.7,1567.7 L203.8,1567.1 L203.9,1565.6 L204.0,1565.1 L204.0,1563.8 L204.1,1563.2 L204.2,1561.8 L204.3,1561.3 L204.3,1559.7 L204.4,1559.2 L204.5,1557.7 L204.6,1557.2 L204.7,1555.8 L204.7,1555.2 L204.9,1553.1 L205.1,1553.3 L205.3,1551.2 L205.5,1551.3 L205.7,1549.0 L205.9,1549.7 L206.1,1547.1 L206.2,1547.6 L206.4,1545.2 L206.6,1545.5 L206.8,1543.5 L207.0,1543.4 L207.2,1541.0 L207.4,1541.4 L208.1,1538.4 L208.9,1540.5 L209.6,1537.3 L210.3,1538.1 L211.1,1535.4 L211.8,1536.4 L212.5,1534.8 L213.3,1538.1 L214.0,1537.7 L214.7,1539.5 L215.5,1538.7 L216.2,1542.4 L216.7,1540.8 L217.2,1543.7 L217.7,1542.6 L218.2,1546.0 L218.6,1545.0 L219.1,1547.7 L219.6,1546.5 L220.1,1549.7 L220.6,1548.9 L221.0,1551.1 L221.5,1550.6 L222.4,1553.7 L223.3,1552.1 L224.2,1554.7 L225.1,1553.6 L225.9,1555.6 L226.8,1555.4 L227.5,1556.3 L228.1,1552.7 L228.7,1554.0 L229.4,1551.1 L230.0,1552.6 L230.6,1549.1 L231.2,1550.9 L231.5,1547.9 L231.8,1548.9 L232.1,1545.3 L232.4,1546.4 L232.7,1543.3 L233.0,1544.3 L233.3,1541.7 L233.6,1542.0 L233.9,1539.2 L234.2,1539.8 L234.5,1537.9 L234.8,1537.9 L234.9,1535.6 L235.1,1535.6 L235.3,1533.5 L235.4,1533.3 L235.6,1531.8 L235.7,1531.4 L235.9,1529.6 L236.0,1529.2 L236.2,1527.7 L236.3,1527.2 L236.5,1525.2 L236.7,1525.5 L236.8,1523.2 L237.0,1523.2 L237.1,1521.4 L237.3,1521.3 L237.4,1519.4 L237.5,1518.8 L237.6,1517.5 L237.6,1516.7 L237.7,1515.2 L237.8,1514.8 L237.8,1513.2 L237.9,1512.7 L238.0,1511.3 L238.1,1510.6 L238.1,1509.1 L238.2,1508.5 L238.3,1507.2 L238.3,1506.5 L238.4,1505.1 L238.5,1504.4 L238.5,1503.0 L238.6,1502.6 L238.7,1501.2 L238.7,1500.4 L238.8,1499.0 L238.9,1498.5 L238.9,1496.9 L239.0,1496.3 L239.1,1495.0 L239.1,1494.4 L239.2,1492.3 L239.4,1492.4 L239.6,1490.8 L239.8,1490.3 L240.0,1488.8 L240.1,1488.5 L240.3,1486.6 L240.5,1486.7 L240.7,1484.2 L240.9,1484.2 L241.1,1482.3 L241.3,1482.2 L241.4,1480.2 L241.6,1480.1 L241.8,1478.4 L242.0,1478.0 L242.2,1476.2 L242.4,1476.3 L242.6,1474.1 L242.8,1474.1 L243.4,1471.6 L244.1,1473.5 L244.7,1470.0 L245.4,1471.9 L246.1,1469.3 L246.7,1469.9 L247.4,1467.7 L248.1,1468.7 L249.1,1466.7 L250.1,1468.5 L251.1,1466.5 L252.2,1468.4 L253.2,1466.3 L254.2,1467.4 L255.3,1466.0 L256.3,1467.6 L257.3,1465.3 L258.4,1467.4 L259.4,1465.6 L260.4,1467.6 L261.5,1465.2 L262.6,1467.4 L263.6,1465.9 L264.7,1468.2 L265.7,1466.1 L266.8,1469.1 L267.9,1467.0 L268.9,1469.2 L270.0,1467.1 L271.1,1469.4 L272.1,1467.8 L273.1,1469.7 L274.1,1466.7 L275.2,1469.1 L276.2,1467.5 L277.2,1469.9 L278.3,1467.8 L279.3,1468.8 L280.3,1467.8 L281.4,1469.7 L282.4,1467.0 L283.4,1469.2 L284.5,1467.3 L285.5,1469.1 L286.6,1467.7 L287.7,1469.9 L288.7,1468.2 L289.8,1470.2 L290.9,1468.7 L291.9,1470.4 L293.0,1469.4 L294.0,1471.0 L294.9,1469.9 L295.8,1472.4 L296.7,1470.3 L297.6,1473.5 L298.5,1471.8 L299.3,1473.9 L300.2,1472.9 L301.1,1475.3 L302.0,1473.7 L302.9,1476.9 L303.9,1475.4 L304.9,1477.4 L305.9,1475.9 L306.9,1478.7 L307.9,1476.4 L308.9,1479.7 L309.9,1477.8 L310.4,1481.2 L310.8,1479.6 L311.2,1483.2 L311.6,1481.5 L312.0,1484.9 L312.4,1483.9 L312.8,1487.1 L313.2,1485.7 L313.6,1488.6 L314.0,1487.0 L314.4,1490.9 L314.9,1488.8 L315.3,1491.6 L315.5,1491.7 L315.8,1493.9 L316.0,1493.7 L316.3,1495.7 L316.5,1495.6 L316.8,1497.7 L317.0,1497.8 L317.3,1500.5 L317.5,1499.4 L317.8,1502.1 L318.0,1502.0 L318.3,1504.5 L318.5,1503.5 L318.8,1505.6 L318.9,1506.2 L319.0,1507.8 L319.1,1508.2 L319.2,1509.7 L319.3,1510.1 L319.3,1511.8 L319.4,1512.4 L319.5,1514.0 L319.6,1514.5 L319.7,1516.0 L319.8,1516.5 L319.9,1518.0 L320.0,1518.5 L320.1,1520.0 L320.2,1520.3 L320.3,1522.0 L320.4,1522.6 L320.5,1524.1 L320.6,1524.7 L320.6,1526.0 L320.7,1526.7 L320.8,1528.0 L320.9,1528.7 L320.9,1530.2 L321.0,1530.8 L321.1,1532.2 L321.2,1532.5 L321.3,1534.1 L321.3,1534.8 L321.4,1536.1 L321.5,1536.8 L321.6,1538.1 L321.6,1538.6 L321.7,1540.0 L321.8,1540.8 L321.9,1542.1 L321.9,1542.7 L322.0,1544.0 L322.1,1544.6 L322.2,1546.2 L322.3,1546.7 L322.3,1548.4 L322.9,1547.4 L323.5,1551.0 L324.1,1549.5 L324.7,1551.9 L325.3,1551.7 L325.9,1553.8 L326.1,1553.4 L326.4,1555.7 L326.6,1555.2 L326.9,1558.3 L327.1,1557.1 L327.4,1560.3 L327.6,1560.0 L327.9,1562.1 L328.1,1561.9 L328.4,1564.4 L328.7,1563.4 L328.9,1566.3 L329.2,1565.9 L329.4,1567.7 L329.7,1567.4 L329.9,1570.2 L330.2,1569.5 L330.4,1572.1 L330.7,1571.4 L330.9,1574.0 L331.2,1573.9 L331.4,1576.0 L331.7,1575.9 L331.9,1578.3 L332.2,1577.4 L332.4,1579.8 L332.7,1580.1 L332.9,1582.5 L333.3,1581.2 L333.7,1584.1 L334.1,1583.7 L334.5,1585.9 L334.9,1585.9 L335.3,1588.4 L335.7,1587.1 L336.1,1590.5 L336.5,1589.8 L336.8,1589.7 L337.1,1587.0 L337.4,1588.1 L337.7,1585.4 L338.0,1586.2 L338.2,1583.1 L338.5,1583.9 L338.8,1581.6 L339.1,1582.2 L339.4,1579.4 L339.7,1579.3 L340.0,1577.6 L340.1,1577.3 L340.3,1575.5 L340.4,1575.1 L340.5,1573.5 L340.6,1573.3 L340.7,1571.7 L340.8,1571.4 L340.9,1569.5 L341.1,1569.4 L341.2,1567.5 L341.3,1567.2 L341.4,1565.5 L341.5,1565.4 L341.6,1563.6 L341.7,1563.4 L341.9,1561.4 L342.0,1561.2 L342.1,1559.4 L342.2,1559.5 L342.3,1557.5 L342.4,1557.1 L342.6,1555.7 L342.7,1555.5 L342.8,1553.4 L343.0,1553.6 L343.2,1551.4 L343.3,1551.3 L343.5,1549.2 L343.7,1549.5 L343.8,1547.3 L344.0,1547.3 L344.2,1545.2 L344.3,1545.5 L344.5,1543.4 L344.7,1543.7 L344.8,1541.3 L345.0,1541.4 L345.2,1539.8 L345.3,1539.9 L346.5,1538.1 L347.7,1539.5 L348.9,1536.8 L349.3,1539.9 L349.8,1539.4 L350.3,1541.2 L350.8,1540.8 L351.3,1543.7 L351.8,1543.0 L352.2,1545.5 L352.7,1544.6 L353.2,1546.6 L353.7,1545.5 L354.2,1548.9 L354.9,1547.2 L355.7,1550.4 L356.4,1549.6 L357.2,1551.6 L358.0,1550.8 L358.7,1553.6 L359.5,1551.9 L360.4,1555.2 L361.2,1553.4 L362.1,1556.0 L363.0,1555.1 L363.9,1557.6 L364.4,1554.8 L364.9,1555.5 L365.4,1552.7 L365.9,1553.7 L366.3,1551.4 L366.8,1552.2 L367.3,1548.7 L367.8,1550.2 L368.3,1546.6 L368.6,1548.2 L369.0,1544.4 L369.3,1545.9 L369.7,1543.2 L370.0,1543.5 L370.4,1541.0 L370.7,1542.3 L371.0,1539.2 L371.4,1540.9 L371.7,1537.7 L372.1,1538.1 L372.4,1535.2 L372.7,1536.4 L373.0,1533.9 L373.2,1533.8 L373.4,1532.0 L373.6,1532.4 L373.8,1529.9 L374.1,1530.2 L374.3,1528.0 L374.5,1528.3 L374.7,1525.8 L374.9,1526.4 L375.2,1523.6 L375.4,1524.4 L375.6,1522.0 L375.8,1522.0 L376.0,1519.7 L376.3,1519.9 L376.4,1518.2 L376.4,1517.7 L376.5,1516.2 L376.6,1515.9 L376.7,1514.4 L376.8,1513.7 L376.9,1512.2 L376.9,1511.6 L377.0,1510.1 L377.1,1509.7 L377.2,1508.2 L377.3,1507.6 L377.4,1506.3 L377.4,1505.6 L377.5,1504.2 L377.6,1503.7 L377.7,1502.2 L377.8,1501.7 L377.9,1500.2 L378.0,1499.7 L378.0,1498.0 L378.2,1497.6 L378.3,1496.1 L378.5,1495.5 L378.6,1493.8 L378.7,1493.6 L378.9,1492.0 L379.0,1491.8 L379.2,1489.7 L379.3,1489.3 L379.4,1487.6 L379.6,1487.6 L379.7,1485.7 L379.9,1485.5 L380.0,1483.4 L380.1,1483.4 L380.3,1481.5 L380.4,1481.4 L380.6,1479.6 L380.7,1479.7 L381.2,1476.7 L381.7,1478.3 L382.1,1475.3 L382.6,1476.4 L383.1,1473.8 L383.6,1475.0 L384.1,1472.3 L384.6,1473.0 L385.0,1470.0 L385.5,1470.7 L386.0,1468.1 L387.0,1470.5 L388.0,1469.1 L388.9,1470.8 L389.9,1469.4 L390.9,1471.5 L391.9,1469.6 L392.9,1471.3 L393.9,1470.1 L394.8,1471.4 L395.9,1469.9 L396.9,1470.7 L397.9,1468.6 L399.0,1470.7 L400.0,1468.2 L401.2,1469.0 L402.5,1467.0 L403.7,1468.1 L404.9,1466.7 L406.1,1468.9 L407.3,1466.9 L408.4,1469.1 L409.5,1467.1 L410.6,1469.0 L411.7,1468.1 L412.8,1470.2 L413.9,1468.9 L415.0,1470.4 L416.1,1469.0 L417.2,1471.8 L418.3,1469.8 L419.3,1471.8 L420.3,1469.9 L421.3,1470.8 L422.3,1469.1 L423.3,1471.1 L424.3,1468.5 L425.3,1470.4 L426.3,1468.4 L427.3,1469.6 L428.3,1466.9 L429.3,1469.4 L430.4,1467.4 L431.4,1469.5 L432.5,1467.8 L433.5,1470.2 L434.6,1468.5 L435.6,1471.8 L436.7,1469.6 L437.6,1472.4 L438.5,1471.4 L439.4,1473.4 L440.3,1471.9 L441.3,1474.9 L442.2,1473.4 L443.1,1476.2 L444.0,1475.0 L445.0,1476.6 L446.1,1475.7 L447.1,1477.4 L448.2,1475.6 L449.2,1478.7 L450.3,1477.2 L451.3,1478.9 L451.8,1478.5 L452.2,1481.2 L452.7,1480.0 L453.2,1482.5 L453.6,1481.9 L454.1,1485.1 L454.5,1483.7 L455.0,1486.5 L455.3,1485.5 L455.6,1488.3 L455.8,1487.6 L456.1,1490.1 L456.4,1489.9 L456.7,1492.3 L457.0,1491.8 L457.3,1494.1 L457.5,1493.9 L457.8,1496.6 L458.1,1495.6 L458.4,1497.9 L458.7,1498.2 L458.8,1499.6 L458.9,1499.8 L459.0,1501.7 L459.2,1501.9 L459.3,1503.6 L459.4,1503.9 L459.5,1505.7 L459.7,1505.9 L459.8,1507.8 L459.9,1508.1 L460.0,1509.6 L460.2,1510.0 L460.3,1511.9 L460.4,1511.9 L460.5,1513.7 L460.7,1514.1 L460.8,1515.9 L460.9,1515.8 L461.0,1517.6 L461.2,1517.9 L461.3,1519.9 L461.4,1520.1 L461.5,1521.8 L461.6,1522.1 L461.7,1523.6 L461.7,1524.1 L461.8,1525.7 L461.9,1526.4 L462.0,1528.0 L462.1,1528.5 L462.1,1529.9 L462.2,1530.5 L462.3,1531.9 L462.4,1532.6 L462.5,1534.1 L462.5,1534.6 L462.6,1536.2 L462.7,1536.6 L462.8,1538.3 L462.9,1538.7 L462.9,1540.3 L463.0,1540.7 L463.1,1542.3 L463.2,1542.8 L463.2,1545.2 L463.7,1543.6 L464.1,1547.4 L464.5,1546.3 L464.9,1549.4 L465.3,1548.5 L465.7,1550.8 L466.1,1550.4 L466.5,1552.9 L466.9,1553.0 L467.3,1554.8 L467.6,1554.4 L467.9,1557.6 L468.3,1556.9 L468.6,1559.4 L468.9,1558.8 L469.2,1561.3 L469.6,1560.6 L469.9,1563.2 L470.2,1562.1 L470.6,1565.0 L470.8,1564.7 L471.1,1567.2 L471.3,1566.9 L471.6,1568.8 L471.8,1568.3 L472.0,1571.2 L472.3,1570.0 L472.5,1572.7 L472.8,1572.3 L473.0,1574.7 L473.3,1574.2 L473.5,1577.1 L473.8,1576.6 L474.0,1578.6 L474.2,1577.7 L474.5,1580.7 L474.8,1580.0 L475.1,1583.1 L475.4,1582.3 L475.7,1585.0 L475.9,1584.6 L476.2,1586.6 L476.5,1586.4 L476.8,1588.5 L477.1,1588.3 L477.4,1590.2 L477.6,1589.7 L477.9,1592.3 L478.2,1590.1 L478.4,1590.6 L478.7,1587.9 L478.9,1588.9 L479.1,1586.1 L479.4,1586.4 L479.6,1584.0 L479.9,1584.4 L480.1,1581.9 L480.4,1582.6 L480.6,1580.6 L480.8,1580.6 L481.1,1578.5 L481.3,1579.1 L481.6,1576.8 L481.7,1576.5 L481.8,1574.8 L481.9,1574.3 L482.0,1572.9 L482.1,1572.3 L482.2,1570.8 L482.3,1570.5 L482.4,1568.6 L482.5,1568.2 L482.6,1566.5 L482.7,1566.4 L482.8,1564.7 L482.9,1564.3 L483.0,1562.5 L483.1,1562.1 L483.2,1560.6 L483.3,1560.3 L483.4,1558.4 L483.5,1558.3 L483.6,1556.7 L483.7,1556.2 L483.8,1554.5 L483.9,1554.2 L484.0,1552.6 L484.1,1552.1 L484.2,1550.6 L484.3,1550.8 L484.6,1547.7 L484.9,1548.1 L485.2,1546.1 L485.5,1546.2 L485.7,1543.8 L486.0,1544.7 L486.3,1542.4 L486.6,1543.1 L486.9,1539.5 L487.2,1540.6 L487.4,1537.9 L487.7,1538.5 L488.0,1535.7 L489.2,1537.4 L490.4,1535.3 L491.7,1537.2 L492.3,1536.2 L492.9,1538.5 L493.5,1537.4 L494.1,1540.3 L494.7,1540.0 L495.3,1542.9 L495.9,1541.7 L496.6,1544.1 L497.2,1543.4 L497.7,1545.8 L498.3,1545.2 L498.8,1548.0 L499.4,1547.3 L499.9,1549.8 L500.5,1549.2 L501.0,1551.1 L501.6,1550.9 L502.1,1553.1 L502.7,1552.5 L503.8,1553.7 L504.9,1551.2 L506.0,1553.4 L507.1,1550.9 L508.2,1552.8 L509.0,1549.5 L509.7,1550.7 L510.5,1548.0 L511.3,1549.6 L512.1,1546.5 L512.9,1548.1 L513.7,1544.9 L514.0,1546.4 L514.3,1543.3 L514.7,1544.1 L515.0,1540.5 L515.3,1542.0 L515.7,1538.6 L516.0,1539.5 L516.3,1536.8 L516.7,1537.7 L517.0,1534.8 L517.3,1535.4 L517.5,1533.5 L517.6,1533.3 L517.8,1531.6 L517.9,1531.6 L518.1,1529.4 L518.2,1529.4 L518.4,1527.6 L518.6,1527.2 L518.7,1525.2 L518.9,1525.1 L519.0,1523.3 L519.2,1523.3 L519.3,1521.3 L519.5,1521.2 L519.6,1519.0 L519.8,1519.3 L519.9,1517.4 L520.1,1516.9 L520.2,1515.5 L520.2,1515.0 L520.3,1513.4 L520.4,1512.9 L520.5,1511.4 L520.6,1510.9 L520.7,1509.6 L520.7,1508.9 L520.8,1507.5 L520.9,1506.8 L521.0,1505.4 L521.1,1505.1 L521.2,1503.3 L521.3,1503.0 L521.3,1501.3 L521.4,1500.9 L521.5,1499.4 L521.6,1499.0 L521.7,1497.5 L521.8,1496.9 L521.8,1495.4 L521.9,1495.2 L522.2,1493.0 L522.4,1493.0 L522.7,1490.7 L522.9,1491.7 L523.2,1489.1 L523.4,1489.0 L523.7,1486.9 L524.0,1487.5 L524.2,1485.0 L524.5,1485.4 L524.7,1483.0 L525.0,1483.3 L525.2,1480.5 L525.5,1481.3 L525.7,1479.0 L526.0,1479.5 L526.2,1476.3 L526.5,1477.3 L527.3,1474.3 L528.2,1476.3 L529.0,1474.0 L529.8,1474.9 L530.7,1472.0 L531.5,1473.8 L532.3,1471.8 L533.2,1472.3 L534.0,1470.5 L534.8,1471.6 L535.7,1468.7 L536.7,1470.8 L537.7,1468.9 L538.7,1471.2 L539.7,1468.8 L540.7,1470.7 L541.7,1468.8 L542.7,1470.3 L543.7,1468.6 L544.7,1469.7 L545.7,1468.3 L546.7,1469.5 L547.7,1467.9 L548.8,1469.7 L549.8,1467.2 L550.9,1469.3 L551.9,1466.7 L553.0,1467.9 L554.0,1465.9 L555.0,1468.5 L556.0,1466.7 L557.1,1470.0 L558.1,1467.8 L559.1,1469.9 L560.1,1468.8 L561.1,1471.0 L562.2,1469.6 L563.2,1471.4 L564.2,1469.9 L565.2,1471.8 L566.2,1469.1 L567.2,1471.7 L568.3,1468.9 L569.3,1471.6 L570.3,1469.2 L571.3,1471.2 L572.3,1469.5 L573.3,1471.5 L574.3,1469.2 L575.3,1471.4 L576.3,1469.9 L577.3,1471.9 L578.3,1470.1 L579.3,1472.6 L580.3,1470.6 L581.3,1473.7 L582.3,1471.1 L583.3,1473.5 L584.4,1471.9 L585.5,1474.2 L586.6,1471.2 L587.7,1473.3 L588.8,1471.8 L589.3,1474.9 L589.7,1473.2 L590.2,1476.2 L590.7,1475.4 L591.1,1478.8 L591.6,1477.7 L592.0,1479.8 L592.5,1478.8 L593.2,1482.2 L594.0,1479.9 L594.7,1483.2 L595.4,1481.6 L596.2,1485.2 L597.1,1482.2 L598.1,1483.1 L599.0,1481.0 L600.0,1482.5 L600.8,1479.9 L601.7,1481.0 L602.3,1477.5 L602.9,1478.7 L603.6,1475.9 L604.2,1477.2 L604.9,1473.7 L605.5,1475.3 L606.3,1472.4 L607.2,1473.9 L608.1,1470.6 L609.1,1472.0 L610.0,1469.5 L610.9,1471.3 L611.9,1468.3 L612.8,1470.9 L614.5,1468.3 L615.6,1470.5 L616.7,1469.1 L617.8,1470.8 L618.9,1469.7 L620.0,1471.2 L621.0,1469.5 L622.0,1471.3 L622.8,1470.4 L623.6,1473.3 L624.4,1471.6 L625.2,1474.7 L626.0,1472.8 L626.8,1475.7 L627.6,1475.1 L628.4,1477.4 L628.8,1476.6 L629.3,1479.9 L629.7,1477.8 L630.1,1481.6 L630.5,1479.9 L630.9,1483.0 L631.3,1482.4 L631.8,1485.2 L632.2,1484.5 L632.6,1487.2 L633.0,1486.6 L633.2,1489.2 L633.5,1489.0 L633.7,1491.0 L634.0,1490.9 L634.2,1493.4 L634.5,1492.4 L634.7,1495.0 L635.0,1494.6 L635.2,1497.1 L635.4,1496.2 L635.7,1499.2 L635.9,1498.3 L636.2,1500.6 L636.4,1500.2 L636.7,1502.2 L636.8,1502.7 L636.9,1504.3 L637.0,1504.7 L637.1,1506.3 L637.2,1506.8 L637.3,1508.3 L637.4,1509.0 L637.5,1510.4 L637.6,1510.8 L637.7,1512.5 L637.8,1512.9 L637.9,1514.6 L638.0,1514.8 L638.1,1516.5 L638.2,1516.9 L638.3,1518.7 L638.4,1518.9 L638.5,1521.1 L638.8,1520.4 L639.2,1523.6 L639.5,1522.7 L639.8,1525.3 L640.2,1524.2 L640.5,1527.7 L640.8,1526.7 L641.2,1529.5 L641.5,1528.7 L641.8,1530.9 L642.2,1530.4 L642.8,1533.3 L643.4,1531.8 L644.0,1535.3 L644.6,1534.0 L645.2,1536.4 L645.8,1535.3 L646.4,1537.8 L647.1,1536.4 L647.7,1539.2 L648.1,1538.9 L648.6,1541.0 L649.0,1540.3 L649.5,1543.5 L650.0,1542.6 L650.4,1545.7 L650.9,1543.9 L651.3,1546.6 L651.8,1545.4 L652.3,1549.3 L652.7,1548.0 L653.2,1551.1 L653.7,1550.0 L654.3,1552.3 L654.8,1551.5 L655.4,1554.9 L655.9,1553.5 L656.5,1556.0 L657.0,1555.4 L657.6,1558.4 L658.1,1557.3 L658.7,1560.3 L659.8,1558.4 L660.9,1560.6 L662.0,1558.5 L663.1,1561.0 L664.2,1559.7 L664.5,1560.7 L664.8,1557.7 L665.1,1558.5 L665.4,1555.7 L665.7,1556.5 L666.0,1554.3 L666.3,1554.2 L666.6,1551.8 L666.9,1552.8 L667.2,1549.7 L667.5,1550.4 L667.8,1547.9 L668.1,1548.8 L668.4,1546.1 L668.8,1546.9 L669.0,1544.3 L669.2,1544.5 L669.4,1542.1 L669.7,1542.3 L669.9,1539.9 L670.1,1540.5 L670.4,1538.5 L670.6,1538.4 L670.8,1535.7 L671.0,1536.7 L671.3,1534.1 L671.5,1534.1 L671.7,1531.6 L672.0,1532.0 L672.2,1530.3 L672.4,1530.2 L673.3,1529.3 L674.3,1532.2 L675.2,1531.2 L676.1,1533.2 L677.0,1531.9 L677.4,1535.0 L677.8,1534.5 L678.3,1537.4 L678.7,1536.2 L679.1,1539.3 L679.5,1538.1 L680.0,1541.5 L680.4,1540.0 L680.8,1543.6 L681.2,1541.7 L681.7,1545.3 L682.1,1544.0 L682.5,1547.1 L683.0,1546.1 L683.4,1548.3 L683.9,1547.3 L684.3,1551.0 L684.8,1549.3 L685.2,1552.9 L685.7,1551.4 L686.2,1554.9 L686.6,1553.3 L687.1,1556.7 L687.5,1555.6 L688.0,1557.9 L688.8,1556.5 L689.6,1559.6 L690.4,1557.8 L691.3,1560.8 L692.1,1559.2 L692.9,1561.9 L693.7,1559.9 L694.5,1563.0 L695.3,1562.1 L695.9,1562.9 L696.5,1560.4 L697.1,1560.8 L697.7,1558.6 L698.2,1559.6 L698.8,1556.9 L699.4,1557.9 L700.0,1555.3 L700.6,1555.6 L701.2,1552.9 L701.8,1554.8 L702.9,1552.8 L704.0,1554.5 L705.2,1552.5 L706.3,1554.5 L707.2,1553.5 L708.2,1555.0 L709.1,1554.7 L710.0,1557.2 L710.9,1555.4 L711.8,1558.1 L712.6,1557.2 L713.4,1559.8 L714.2,1557.9 L715.0,1560.8 L715.8,1559.6 L716.5,1563.1 L717.3,1560.9 L718.5,1564.0 L719.6,1562.2 L720.8,1564.7 L721.9,1563.0 L722.4,1564.2 L722.8,1561.3 L723.3,1562.7 L723.8,1559.1 L724.2,1561.1 L724.7,1558.3 L725.1,1558.5 L725.6,1556.2 L726.0,1557.0 L726.5,1554.5 L726.7,1554.5 L726.9,1552.5 L727.1,1552.5 L727.3,1550.6 L727.5,1550.6 L727.7,1548.4 L727.9,1548.7 L728.1,1546.5 L728.3,1546.6 L728.5,1544.0 L728.7,1544.2 L728.9,1542.3 L729.1,1542.2 L729.2,1540.1 L729.3,1539.7 L729.4,1538.1 L729.5,1537.8 L729.6,1536.3 L729.7,1535.9 L729.8,1534.3 L729.9,1533.7 L730.0,1532.1 L730.1,1531.8 L730.2,1530.0 L730.3,1529.7 L730.3,1528.0 L730.4,1527.6 L730.5,1526.1 L730.6,1525.7 L730.7,1524.0 L730.8,1523.7 L730.9,1522.1 L731.0,1521.7 L731.1,1520.1 L731.2,1519.7 L731.3,1518.2 L731.5,1517.7 L731.6,1516.1 L731.7,1515.8 L731.8,1514.2 L732.0,1513.9 L732.1,1511.9 L732.2,1511.7 L732.3,1510.2 L732.5,1509.7 L732.6,1508.0 L732.7,1507.6 L732.8,1505.8 L733.0,1505.7 L733.1,1504.0 L733.2,1503.6 L733.3,1502.0 L733.5,1501.6 L733.6,1499.8 L733.7,1499.5 L733.8,1497.5 L734.2,1498.5 L734.6,1495.4 L734.9,1496.2 L735.3,1493.5 L735.7,1493.9 L736.0,1491.7 L736.4,1492.4 L736.8,1489.2 L737.1,1490.5 L737.5,1487.7 L737.9,1488.8 L738.2,1485.9 L738.6,1486.7 L739.0,1484.0 L739.3,1484.8 L740.4,1482.4 L741.4,1484.3 L742.5,1481.4 L743.5,1484.0 L744.6,1480.8 L745.6,1482.8 L746.7,1480.3 L747.7,1482.4 L748.7,1480.3 L749.7,1481.8 L750.7,1479.0 L751.7,1481.7 L752.7,1478.5 L753.7,1480.3 L754.7,1478.6 L755.7,1479.5 L756.7,1477.3 L757.7,1479.4 L758.7,1477.9 L759.7,1478.9 L760.7,1477.1 L761.7,1479.6 L762.7,1478.6 L763.7,1480.1 L764.7,1478.8 L765.7,1480.9 L766.7,1478.6 L767.7,1481.0 L768.7,1478.5 L769.7,1481.0 L770.7,1480.2 L771.7,1482.6 L772.7,1480.5 L773.8,1483.0 L774.8,1481.6 L775.8,1484.0 L776.8,1481.7 L777.8,1485.2 L778.4,1483.0 L779.1,1486.9 L779.7,1485.6 L780.3,1487.4 L780.9,1486.3 L781.5,1489.2 L782.1,1488.3 L782.7,1491.1 L783.3,1490.3 L783.5,1492.4 L783.6,1492.8 L783.8,1494.3 L783.9,1494.4 L784.1,1496.7 L784.2,1496.8 L784.4,1498.8 L784.6,1498.8 L784.7,1500.7 L784.9,1500.7 L785.0,1502.8 L785.2,1502.8 L785.3,1504.4 L785.5,1504.8 L785.6,1506.9 L785.8,1506.9 L785.9,1508.9 L786.1,1509.1 L786.2,1510.5 L786.2,1511.2 L786.3,1512.5 L786.4,1513.2 L786.4,1514.8 L786.5,1515.2 L786.6,1516.8 L786.7,1517.4 L786.7,1518.8 L786.8,1519.4 L786.9,1520.8 L787.0,1521.6 L787.0,1523.0 L787.1,1523.6 L787.2,1525.0 L787.3,1525.4 L787.3,1527.0 L787.4,1527.7 L787.5,1529.0 L787.6,1529.7 L787.6,1531.3 L787.7,1531.8 L787.8,1533.1 L787.8,1533.7 L787.9,1535.3 L788.0,1535.7 L788.1,1537.4 L788.2,1538.0 L788.3,1539.2 L788.4,1539.7 L788.5,1541.6 L788.6,1541.8 L788.7,1543.5 L788.8,1544.0 L788.9,1545.5 L789.0,1546.1 L789.1,1547.5 L789.2,1548.1 L789.3,1549.6 L789.4,1550.0 L789.5,1551.5 L789.6,1552.1 L789.8,1553.8 L790.2,1553.8 L790.7,1555.7 L791.1,1554.5 L791.6,1557.4 L792.0,1556.7 L792.5,1559.8 L793.0,1558.6 L793.4,1561.4 L793.9,1560.0 L794.3,1563.9 L794.7,1562.6 L795.1,1565.4 L795.6,1564.0 L796.0,1567.2 L796.4,1566.1 L796.8,1569.8 L797.2,1568.5 L797.6,1571.7 L798.0,1570.9 L798.2,1573.0 L798.5,1573.2 L798.8,1575.3 L799.0,1575.2 L799.2,1577.0 L799.5,1576.8 L799.8,1579.3 L800.0,1578.7 L800.3,1581.4 L800.6,1580.8 L800.8,1583.5 L801.1,1583.4 L801.4,1586.0 L801.7,1585.1 L802.0,1587.9 L802.3,1587.4 L802.7,1590.3 L803.0,1589.2 L803.3,1592.0 L803.7,1591.2 L804.5,1594.9 L805.4,1593.8 L806.2,1596.2 L806.5,1593.3 L806.7,1593.7 L806.9,1591.8 L807.1,1591.5 L807.3,1589.3 L807.5,1589.0 L807.6,1587.4 L807.7,1587.4 L807.8,1585.7 L807.9,1585.3 L808.1,1583.7 L808.2,1583.1 L808.3,1581.5 L808.4,1581.1 L808.6,1579.4 L808.7,1579.2 L808.8,1577.6 L808.9,1577.4 L809.1,1575.7 L809.2,1575.4 L809.3,1573.6 L809.4,1573.4 L809.5,1571.4 L809.7,1571.2 L809.8,1569.6 L809.9,1569.3 L810.1,1566.7 L810.2,1567.0 L810.4,1564.8 L810.5,1565.0 L810.7,1562.6 L810.8,1562.9 L811.0,1561.0 L811.1,1560.8 L811.3,1559.0 L811.5,1558.9 L811.6,1556.8 L811.8,1557.0 L811.9,1554.7 L812.1,1554.9 L812.2,1553.0 L812.4,1552.7 L812.5,1551.1 L812.7,1550.9 L812.8,1549.1 L813.7,1549.6 L814.6,1546.7 L815.5,1547.7 L816.3,1544.9 L817.4,1547.7 L817.8,1545.9 L818.3,1548.9 L818.7,1548.5 L819.1,1551.2 L819.6,1550.1 L820.0,1553.7 L820.4,1552.7 L820.8,1554.6 L821.2,1553.7 L821.6,1556.5 L822.0,1555.5 L822.6,1558.4 L823.2,1557.1 L823.8,1560.4 L824.4,1559.1 L825.1,1562.5 L825.7,1560.5 L826.3,1563.6 L826.9,1562.6 L827.5,1565.7 L828.1,1562.7 L828.6,1563.3 L829.2,1560.1 L829.8,1562.1 L830.4,1558.4 L830.9,1559.7 L831.5,1557.1 L832.1,1557.4 L832.4,1554.9 L832.6,1555.4 L832.9,1553.6 L833.2,1553.5 L833.4,1551.4 L833.7,1552.5 L834.0,1549.8 L834.2,1549.8 L834.5,1547.7 L834.8,1548.3 L835.0,1545.6 L835.3,1545.8 L835.6,1543.4 L835.9,1544.6 L836.1,1541.9 L836.4,1541.8 L836.7,1540.1 L836.8,1540.1 L836.9,1538.3 L837.1,1537.7 L837.2,1536.0 L837.4,1536.0 L837.5,1534.0 L837.6,1533.6 L837.8,1532.0 L837.9,1531.6 L838.0,1530.2 L838.2,1529.6 L838.3,1527.7 L838.5,1527.6 L838.6,1526.0 L838.7,1525.9 L838.9,1524.1 L839.0,1523.7 L839.1,1521.8 L839.3,1521.7 L839.4,1520.2 L839.5,1519.5 L839.6,1517.9 L839.6,1517.5 L839.7,1515.9 L839.8,1515.3 L839.9,1514.0 L839.9,1513.3 L840.0,1512.0 L840.1,1511.4 L840.2,1509.9 L840.2,1509.2 L840.3,1507.7 L840.4,1507.2 L840.4,1505.7 L840.5,1505.0 L840.6,1503.7 L840.7,1503.1 L840.7,1501.6 L840.8,1500.9 L840.9,1499.5 L841.0,1498.9 L841.0,1497.4 L841.1,1496.9 L841.2,1495.4 L841.2,1495.0 L841.5,1492.9 L841.7,1493.7 L841.9,1490.9 L842.2,1491.2 L842.4,1488.6 L842.6,1489.7 L842.9,1486.7 L843.1,1487.0 L843.3,1485.3 L843.5,1485.3 L843.8,1483.2 L844.0,1482.9 L844.2,1480.9 L844.5,1481.6 L844.7,1479.1 L844.9,1479.5 L845.1,1476.5 L845.4,1477.5 L845.6,1475.2 L845.8,1475.1 L846.7,1472.5 L847.7,1475.2 L848.6,1472.5 L849.5,1473.3 L850.4,1471.0 L851.3,1472.3 L852.3,1470.8 L853.2,1471.4 L854.2,1470.0 L855.2,1472.2 L856.2,1470.2 L857.2,1472.4 L858.2,1470.6 L859.2,1473.7 L860.2,1471.7 L861.2,1474.0 L862.2,1471.9 L863.2,1473.9 L864.2,1472.1 L865.2,1474.3 L866.2,1472.2 L867.2,1474.4 L868.2,1472.3 L869.3,1473.3 L870.3,1471.9 L871.3,1473.4 L872.3,1471.3 L873.3,1473.0 L874.3,1470.9 L875.3,1474.2 L876.3,1472.4 L877.3,1474.3 L878.3,1472.5 L879.3,1475.2 L880.3,1474.1 L881.3,1476.3 L882.3,1474.1 L883.3,1476.9 L884.3,1475.5 L885.1,1477.5 L886.0,1476.7 L886.8,1479.6 L887.6,1478.0 L888.4,1480.9 L889.2,1479.2 L890.0,1481.6 L890.9,1479.9 L891.7,1483.3 L892.2,1481.3 L892.8,1484.6 L893.3,1483.7 L893.9,1486.1 L894.4,1485.4 L895.0,1488.7 L895.5,1487.6 L896.1,1490.0 L896.6,1489.6 L897.2,1491.5 L897.4,1491.5 L897.6,1494.0 L897.8,1493.5 L898.0,1496.0 L898.2,1495.9 L898.3,1497.8 L898.5,1497.7 L898.7,1499.7 L898.9,1499.9 L899.1,1502.1 L899.3,1502.3 L899.5,1504.0 L899.7,1503.9 L899.9,1505.9 L900.0,1506.3 L900.1,1507.8 L900.2,1508.4 L900.3,1510.0 L900.4,1510.4 L900.5,1512.0 L900.6,1512.3 L900.6,1514.0 L900.7,1514.5 L900.8,1515.9 L900.9,1516.3 L901.0,1517.9 L901.1,1518.4 L901.2,1519.9 L901.3,1520.4 L901.4,1522.1 L901.5,1522.4 L901.6,1524.1 L901.7,1524.7 L901.8,1526.1 L901.8,1526.8 L901.9,1528.3 L902.0,1528.8 L902.0,1530.2 L902.1,1530.9 L902.2,1532.3 L902.2,1532.8 L902.3,1534.3 L902.4,1534.8 L902.4,1536.3 L902.5,1537.0 L902.6,1538.4 L902.6,1538.9 L902.7,1540.2 L902.8,1540.9 L902.8,1542.4 L902.9,1542.9 L903.0,1544.3 L903.0,1544.9 L903.1,1546.4 L903.2,1547.1 L903.2,1548.4 L903.3,1548.9 L903.4,1550.4 L903.4,1550.9 L903.5,1552.4 L903.6,1552.9 L903.7,1554.7 L904.1,1553.1 L904.5,1557.0 L904.9,1555.2 L905.3,1559.0 L905.7,1557.1 L906.1,1560.5 L906.5,1560.0 L906.9,1562.1 L907.3,1562.0 L907.8,1565.0 L908.2,1563.2 L908.5,1566.9 L908.8,1565.2 L909.1,1568.3 L909.4,1567.3 L909.7,1569.7 L910.1,1569.7 L910.4,1572.0 L910.7,1571.7 L911.0,1573.8 L911.4,1573.4 L911.8,1576.0 L912.1,1576.1 L912.3,1578.0 L912.6,1577.9 L912.9,1580.6 L913.1,1579.9 L913.4,1582.5 L913.6,1581.7 L913.9,1584.6 L914.2,1583.6 L914.4,1586.4 L914.7,1586.3 L914.9,1588.2 L915.2,1588.3 L915.5,1590.7 L915.9,1589.7 L916.2,1592.8 L916.6,1592.0 L916.9,1594.3 L917.3,1593.3 L917.6,1597.1 L918.0,1595.2 L918.3,1598.0 L919.2,1598.0 L919.3,1598.4 L919.5,1596.2 L919.7,1596.4 L919.9,1594.0 L920.1,1594.3 L920.2,1592.1 L920.4,1592.1 L920.6,1590.1 L920.8,1590.4 L920.9,1588.5 L921.1,1588.4 L921.3,1586.1 L921.5,1586.4 L921.7,1584.5 L921.8,1584.5 L922.0,1582.2 L922.2,1582.4 L922.3,1580.3 L922.5,1579.9 L922.7,1578.0 L922.8,1577.5 L922.9,1575.9 L923.1,1575.5 L923.2,1573.9 L923.3,1573.6 L923.4,1571.8 L923.5,1571.6 L923.6,1569.9 L923.7,1569.2 L923.9,1567.8 L924.0,1567.4 L924.1,1565.7 L924.2,1565.1 L924.3,1563.5 L924.4,1563.4 L924.5,1561.4 L924.6,1561.3 L924.8,1559.2 L924.9,1559.1 L925.0,1557.4 L925.2,1557.1 L925.3,1555.2 L925.4,1554.6 L925.6,1552.7 L925.9,1553.3 L926.1,1550.4 L926.4,1550.9 L926.7,1548.7 L927.0,1548.6 L927.2,1546.2 L927.5,1547.0 L927.9,1544.0 L928.2,1545.3 L928.6,1541.9 L928.9,1543.4 L929.2,1539.5 L930.3,1542.7 L930.9,1541.6 L931.5,1544.3 L932.0,1543.4 L932.6,1545.5 L933.2,1544.5 L933.8,1547.5 L934.3,1547.4 L934.9,1550.0 L935.2,1549.4 L935.6,1551.6 L935.9,1551.8 L936.3,1554.3 L936.6,1552.9 L937.0,1556.6 L937.3,1555.2 L937.7,1558.0 L938.1,1557.2 L938.4,1560.1 L938.5,1558.7 L939.2,1559.2 L940.0,1556.9 L940.7,1557.1 L941.4,1554.0 L942.2,1555.1 L943.0,1551.8 L943.2,1552.6 L943.4,1550.0 L943.7,1550.1 L943.9,1548.0 L944.1,1548.2 L944.3,1546.1 L944.5,1546.3 L944.8,1543.8 L945.0,1544.0 L945.2,1542.4 L945.4,1542.4 L945.6,1540.0 L945.9,1540.2 L946.1,1538.2 L946.3,1537.6 L946.5,1535.4 L946.7,1535.2 L946.8,1533.5 L946.9,1532.9 L947.0,1531.6 L947.2,1531.2 L947.3,1529.4 L947.4,1528.8 L947.5,1527.3 L947.6,1526.8 L947.8,1525.2 L947.9,1524.7 L948.0,1523.1 L948.1,1522.9 L948.2,1521.1 L948.4,1520.8 L948.5,1519.1 L948.6,1518.6 L948.7,1517.0 L948.8,1516.5 L948.9,1514.9 L949.0,1514.4 L949.1,1513.0 L949.1,1512.6 L949.2,1510.9 L949.3,1510.4 L949.4,1509.0 L949.5,1508.3 L949.6,1506.8 L949.6,1506.3 L949.7,1504.8 L949.8,1504.3 L949.9,1502.8 L949.9,1502.3 L950.0,1500.9 L950.1,1500.3 L950.1,1498.8 L950.2,1498.1 L950.3,1496.8 L950.4,1496.1 L950.4,1494.9 L950.5,1494.1 L950.6,1492.3 L950.7,1492.0 L950.8,1490.3 L950.9,1489.7 L951.0,1488.1 L951.1,1487.5 L951.2,1485.6 L951.5,1486.0 L951.7,1483.2 L951.9,1483.7 L952.1,1481.4 L952.3,1481.7 L952.5,1479.3 L952.8,1480.1 L953.0,1477.2 L953.2,1477.7 L953.6,1474.6 L954.1,1475.7 L954.5,1473.5 L955.0,1473.9 L955.4,1470.8 L955.8,1471.4 L956.8,1468.8 L957.7,1470.6 L958.7,1466.8 L959.7,1469.3 L960.8,1467.1 L961.8,1468.3 L962.9,1466.5 L963.9,1467.8 L965.0,1465.3 L966.0,1468.4 L967.0,1466.4 L968.1,1468.5 L969.1,1466.6 L970.1,1469.7 L971.1,1467.5 L972.1,1469.3 L973.2,1468.5 L974.2,1469.9 L975.6,1468.7 L977.0,1470.6 L978.1,1468.9 L979.1,1470.9 L980.2,1469.9 L981.2,1471.7 L982.3,1469.6 L983.3,1472.0 L984.8,1469.9 L986.2,1472.1 L987.1,1471.3 L988.0,1473.7 L988.9,1471.6 L989.8,1474.0 L990.7,1473.3 L991.6,1475.5 L992.5,1473.3 L993.5,1476.7 L994.4,1474.4 L995.4,1478.1 L996.3,1476.5 L997.2,1478.1 L998.1,1477.1 L999.0,1479.1 L999.9,1478.1 L1000.8,1481.0 L1001.7,1479.4 L1002.6,1482.1 L1003.6,1480.6 L1004.5,1483.3 L1005.2,1482.2 L1005.8,1484.1 L1006.5,1483.9 L1007.1,1486.2 L1007.7,1485.5 L1008.4,1487.9 L1009.0,1486.6 L1010.0,1490.5 L1010.4,1489.1 L1010.8,1492.3 L1011.2,1490.6 L1011.6,1493.7 L1012.0,1492.5 L1012.4,1495.9 L1012.8,1494.7 L1013.2,1497.7 L1013.6,1497.2 L1013.7,1498.6 L1013.9,1498.7 L1014.0,1500.6 L1014.2,1500.6 L1014.3,1502.6 L1014.5,1502.7 L1014.6,1504.9 L1014.8,1505.2 L1014.9,1507.0 L1015.1,1507.3 L1015.3,1509.0 L1015.4,1509.2 L1015.6,1511.3 L1015.7,1511.1 L1015.9,1513.0 L1016.0,1513.2 L1016.2,1515.5 L1016.3,1515.7 L1016.5,1517.0 L1016.5,1517.7 L1016.6,1519.0 L1016.7,1519.8 L1016.8,1521.2 L1016.9,1521.9 L1017.0,1523.3 L1017.1,1523.9 L1017.1,1525.4 L1017.2,1525.9 L1017.3,1527.3 L1017.4,1527.9 L1017.5,1529.6 L1017.6,1529.9 L1017.7,1531.4 L1017.7,1532.0 L1017.8,1533.6 L1017.9,1534.2 L1018.0,1535.7 L1018.1,1536.4 L1018.2,1537.8 L1018.3,1538.7 L1018.4,1540.4 L1018.5,1540.9 L1018.6,1542.4 L1018.7,1542.8 L1018.8,1544.3 L1018.9,1545.1 L1019.0,1546.6 L1019.1,1547.1 L1019.3,1548.6 L1019.4,1549.3 L1019.5,1550.7 L1019.6,1551.2 L1019.7,1552.8 L1019.8,1553.3 L1019.9,1554.9 L1020.0,1555.4 L1020.1,1558.4 L1020.7,1556.5 L1021.3,1559.8 L1021.8,1558.3 L1022.4,1561.6 L1023.0,1560.5 L1023.6,1564.0 L1024.1,1562.9 L1024.7,1564.8 L1025.0,1564.2 L1025.4,1567.0 L1025.7,1566.8 L1026.0,1569.3 L1026.4,1568.8 L1026.7,1571.1 L1027.0,1570.8 L1027.4,1572.9 L1027.7,1572.1 L1028.0,1575.8 L1028.4,1574.5 L1028.6,1577.1 L1028.9,1576.3 L1029.1,1579.2 L1029.4,1578.6 L1029.6,1580.7 L1029.9,1580.8 L1030.1,1582.9 L1030.4,1582.5 L1030.6,1585.5 L1030.9,1584.6 L1031.1,1587.1 L1031.4,1586.2 L1031.7,1588.8 L1032.0,1588.2 L1032.3,1590.7 L1032.5,1590.1 L1032.8,1593.4 L1033.1,1592.0 L1033.4,1595.1 L1033.7,1594.3 L1034.0,1597.0 L1034.2,1596.2 L1034.5,1599.1 L1034.8,1598.8 L1035.0,1598.8 L1035.1,1596.5 L1035.3,1596.5 L1035.4,1594.8 L1035.6,1594.8 L1035.7,1592.8 L1035.9,1592.5 L1036.0,1590.6 L1036.2,1590.4 L1036.3,1588.6 L1036.5,1588.3 L1036.6,1586.6 L1036.8,1586.6 L1036.9,1584.4 L1037.1,1584.6 L1037.2,1582.3 L1037.4,1582.2 L1037.5,1580.4 L1037.7,1580.3 L1037.8,1578.4 L1037.9,1578.1 L1038.0,1576.2 L1038.1,1576.1 L1038.3,1574.2 L1038.4,1573.8 L1038.5,1572.3 L1038.6,1571.8 L1038.7,1570.1 L1038.9,1569.8 L1039.0,1568.2 L1039.1,1567.7 L1039.2,1566.0 L1039.3,1565.6 L1039.5,1564.0 L1039.6,1563.7 L1039.7,1562.1 L1039.8,1561.4 L1039.9,1559.8 L1040.1,1559.5 L1040.2,1557.7 L1040.3,1558.1 L1040.6,1555.3 L1040.8,1556.2 L1041.1,1553.0 L1041.4,1553.8 L1041.7,1551.2 L1042.0,1552.1 L1042.2,1549.4 L1042.5,1549.6 L1042.8,1547.2 L1043.0,1548.0 L1044.1,1546.7 L1045.2,1548.3 L1046.3,1546.0 L1047.5,1549.2 L1048.5,1546.8 L1049.2,1550.0 L1049.8,1548.7 L1050.4,1550.8 L1051.0,1549.8 L1051.6,1553.0 L1052.2,1551.6 L1052.8,1554.7 L1053.4,1552.8 L1054.0,1556.0 L1054.7,1555.1 L1055.3,1558.3 L1055.9,1556.8 L1056.5,1560.4 L1057.1,1559.4 L1057.7,1562.1 L1058.9,1560.3 L1060.0,1561.5 L1061.2,1559.9 L1062.3,1561.5 L1062.5,1558.9 L1062.7,1559.2 L1062.9,1557.0 L1063.1,1557.2 L1063.3,1555.2 L1063.5,1554.9 L1063.7,1552.9 L1063.9,1552.6 L1064.1,1550.9 L1064.3,1550.6 L1064.5,1548.9 L1064.7,1548.5 L1064.9,1546.6 L1065.1,1546.6 L1065.2,1544.3 L1065.4,1544.4 L1065.6,1542.3 L1065.7,1542.5 L1065.9,1540.6 L1066.1,1540.2 L1066.3,1538.1 L1066.4,1538.1 L1066.6,1536.2 L1066.8,1536.3 L1067.0,1534.0 L1067.1,1534.3 L1067.3,1532.0 L1067.5,1531.9 L1067.6,1530.0 L1067.8,1530.0 L1067.9,1528.2 L1068.0,1528.0 L1068.1,1526.3 L1068.2,1525.8 L1068.3,1524.0 L1068.4,1523.7 L1068.5,1522.2 L1068.6,1521.6 L1068.7,1520.1 L1068.8,1519.7 L1068.9,1518.1 L1069.0,1517.6 L1069.1,1516.0 L1069.2,1515.8 L1069.3,1514.1 L1069.4,1513.5 L1069.5,1511.8 L1069.6,1511.5 L1069.7,1509.9 L1069.8,1509.5 L1069.9,1507.8 L1069.9,1507.3 L1070.0,1506.0 L1070.1,1505.4 L1070.2,1503.8 L1070.2,1503.2 L1070.3,1501.7 L1070.4,1501.3 L1070.4,1499.7 L1070.5,1499.1 L1070.6,1497.7 L1070.7,1497.0 L1070.7,1495.7 L1070.8,1495.1 L1070.9,1493.6 L1071.0,1493.0 L1071.0,1491.5 L1071.1,1491.0 L1071.2,1489.5 L1071.3,1488.7 L1071.3,1487.3 L1071.4,1486.7 L1071.5,1485.5" fill="none" stroke="#6a94d4" stroke-width="6.6" stroke-linejoin="round" stroke-linecap="round"/>
<path d="M200.3,1655.3 L200.5,1659.7 L200.8,1653.3 L201.0,1657.4 L201.2,1650.7 L201.4,1654.8 L201.6,1649.5 L201.9,1652.7 L202.1,1646.9 L202.3,1650.8 L202.5,1644.5 L202.7,1650.0 L203.0,1643.1 L203.2,1649.1 L203.4,1640.3 L203.6,1645.7 L203.8,1637.7 L204.7,1645.4 L205.6,1632.7 L206.5,1645.5 L207.4,1635.0 L208.3,1644.8 L209.2,1632.9 L210.0,1641.0 L210.9,1633.3 L211.8,1643.1 L212.7,1629.7 L213.6,1640.4 L214.4,1630.2 L214.9,1639.4 L215.4,1627.9 L215.9,1636.1 L216.4,1625.5 L216.9,1635.6 L217.3,1625.0 L217.8,1630.8 L218.3,1622.0 L218.8,1631.6 L219.3,1616.3 L219.8,1628.1 L220.6,1619.5 L221.5,1625.9 L222.4,1616.7 L223.3,1626.0 L224.2,1617.4 L225.1,1623.6 L225.9,1613.4 L226.8,1622.7 L227.4,1611.8 L227.9,1622.2 L228.4,1611.6 L229.0,1619.2 L229.5,1610.1 L230.0,1618.0 L230.5,1606.6 L231.1,1617.1 L231.6,1606.3 L232.1,1613.1 L232.4,1604.8 L232.6,1612.4 L232.9,1602.6 L233.2,1608.0 L233.4,1601.0 L233.7,1607.5 L233.9,1598.4 L234.2,1604.0 L234.4,1597.3 L234.7,1602.8 L234.9,1596.4 L235.2,1601.9 L235.4,1593.0 L235.7,1597.1 L235.8,1592.9 L236.0,1595.2 L236.2,1590.9 L236.3,1593.8 L236.5,1588.3 L236.7,1592.7 L236.8,1586.6 L237.0,1591.3 L237.2,1584.3 L237.3,1588.2 L237.5,1582.6 L237.7,1585.9 L237.8,1580.3 L238.0,1584.4 L238.2,1578.3 L238.3,1583.3 L238.7,1575.2 L239.1,1582.3 L239.5,1567.8 L239.8,1579.1 L240.2,1570.8 L240.6,1579.4 L241.0,1568.3 L242.0,1576.4 L243.0,1570.4 L244.0,1578.1 L245.0,1569.1 L246.0,1579.7 L247.0,1571.2 L248.1,1579.4 L249.1,1570.4 L250.1,1582.8 L251.1,1574.0 L252.1,1582.6 L253.1,1573.7 L254.1,1583.1 L255.1,1576.0 L256.0,1585.5 L256.9,1576.3 L257.8,1587.8 L258.7,1576.2 L259.5,1589.0 L260.4,1578.6 L261.3,1587.6 L262.2,1581.0 L263.0,1588.7 L263.8,1583.0 L264.6,1592.7 L265.4,1582.2 L266.2,1593.3 L267.0,1585.1 L267.8,1595.6 L268.6,1584.6 L269.4,1597.0 L270.2,1587.7 L271.1,1595.7 L271.9,1589.6 L272.7,1596.4 L273.5,1590.1 L274.3,1600.3 L275.1,1590.0 L275.9,1600.9 L276.7,1592.4 L277.5,1602.9 L278.3,1592.6 L279.1,1604.6 L279.9,1594.0 L280.9,1605.4 L281.9,1591.1 L282.8,1603.4 L283.8,1594.7 L284.8,1605.9 L285.8,1597.4 L286.8,1607.0 L287.7,1596.5 L288.7,1608.0 L289.5,1597.7 L290.3,1609.6 L291.1,1599.0 L291.9,1611.7 L292.7,1603.0 L293.4,1613.3 L294.2,1602.0 L295.0,1613.4 L295.8,1605.0 L296.5,1615.3 L297.2,1606.9 L297.9,1617.2 L298.6,1608.4 L299.3,1619.3 L300.0,1608.7 L300.8,1617.9 L301.5,1611.9 L302.2,1622.0 L302.9,1612.2 L303.8,1621.3 L304.6,1612.9 L305.5,1624.2 L306.4,1614.0 L307.3,1624.0 L308.2,1614.5 L309.1,1627.5 L309.9,1618.1 L310.7,1626.8 L311.4,1620.3 L312.1,1629.0 L312.8,1619.4 L313.5,1631.9 L314.2,1622.3 L314.9,1632.2 L315.6,1624.2 L316.3,1632.1 L317.0,1624.4 L317.4,1635.4 L317.7,1626.6 L318.1,1635.4 L318.4,1629.8 L318.8,1640.6 L319.1,1629.3 L319.5,1641.7 L319.9,1632.2 L320.2,1641.2 L320.6,1634.7 L320.9,1645.3 L321.3,1636.4 L321.6,1645.0 L322.0,1636.6 L322.3,1647.7 L322.7,1639.2 L323.0,1651.3 L323.3,1642.1 L323.7,1651.6 L324.0,1644.0 L324.4,1652.3 L324.7,1644.0 L325.1,1656.6 L325.4,1646.1 L325.7,1657.4 L326.1,1647.7 L326.4,1661.0 L326.8,1652.3 L327.8,1660.7 L328.8,1650.2 L329.8,1661.1 L330.9,1653.8 L331.9,1662.3 L332.9,1654.3 L333.4,1660.1 L333.9,1649.8 L334.4,1657.8 L334.9,1649.0 L335.4,1662.9 L335.8,1648.5 L336.3,1654.3 L336.8,1643.5 L337.3,1654.3 L337.8,1643.3 L338.2,1651.9 L338.7,1638.0 L339.2,1649.6 L339.7,1638.1 L340.2,1649.0 L340.7,1636.4 L341.1,1647.3 L341.6,1635.6 L342.1,1645.2 L342.6,1632.3 L343.1,1643.1 L343.6,1632.7 L344.1,1640.6 L344.6,1630.4 L345.1,1639.6 L345.7,1629.6 L346.2,1637.2 L346.7,1624.9 L347.3,1636.2 L347.8,1625.9 L348.3,1632.4 L348.9,1623.2 L349.9,1632.3 L350.9,1620.7 L351.9,1631.4 L352.9,1620.1 L353.9,1630.1 L354.9,1620.6 L355.9,1630.0 L356.6,1619.3 L357.2,1627.9 L357.9,1615.7 L358.5,1627.3 L359.1,1616.8 L359.8,1623.2 L360.4,1614.7 L361.1,1621.1 L361.7,1612.2 L362.4,1620.3 L363.0,1610.9 L363.7,1619.6 L364.3,1608.7 L364.9,1617.8 L365.6,1606.3 L366.2,1615.6 L366.9,1606.8 L367.5,1614.9 L368.2,1603.1 L368.8,1611.2 L369.4,1602.5 L370.1,1611.2 L370.4,1599.4 L370.7,1609.5 L371.0,1598.9 L371.4,1605.6 L371.7,1592.8 L372.0,1604.1 L372.3,1596.1 L372.7,1604.1 L373.0,1593.3 L373.3,1602.5 L373.6,1593.6 L373.8,1596.8 L374.0,1590.3 L374.2,1595.9 L374.5,1588.5 L374.7,1593.4 L374.9,1587.4 L375.1,1591.5 L375.3,1583.8 L375.5,1592.0 L375.7,1581.6 L375.9,1586.6 L376.1,1579.6 L376.3,1586.1 L376.5,1579.0 L376.7,1582.1 L376.9,1576.1 L377.1,1582.3 L377.5,1573.5 L377.8,1579.2 L378.1,1569.1 L378.4,1578.0 L378.8,1565.0 L379.1,1575.3 L379.4,1567.5 L379.7,1575.8 L380.0,1565.1 L380.4,1572.4 L380.7,1561.3 L381.6,1573.4 L382.5,1561.0 L383.3,1569.4 L384.2,1558.1 L385.1,1570.3 L386.0,1562.1 L386.1,1564.2 L386.2,1560.1 L386.3,1562.3 L386.4,1558.1 L386.5,1559.7 L386.6,1555.8 L386.7,1559.3 L386.8,1554.1 L386.9,1556.0 L387.0,1552.7 L387.1,1554.0 L387.2,1550.0 L387.3,1551.8 L387.4,1548.3 L387.5,1552.1 L387.6,1550.5 L387.7,1554.1 L387.7,1552.7 L387.8,1555.9 L387.9,1554.6 L388.0,1558.4 L388.1,1557.0 L388.2,1560.0 L388.2,1558.8 L388.3,1562.2 L388.4,1561.3 L388.5,1564.6 L388.6,1563.3 L388.7,1566.7 L388.7,1565.1 L388.8,1571.8 L389.9,1561.4 L391.1,1572.3 L392.2,1564.7 L393.3,1571.9 L394.4,1563.7 L395.5,1574.7 L396.6,1564.6 L397.5,1576.2 L398.3,1566.7 L399.2,1576.2 L400.0,1569.0 L400.9,1579.2 L401.8,1568.1 L402.8,1578.6 L403.7,1569.2 L404.6,1583.0 L405.5,1570.0 L406.4,1581.5 L407.3,1572.7 L408.3,1583.7 L409.2,1574.8 L410.8,1584.7 L411.8,1574.5 L412.9,1584.3 L413.9,1574.3 L415.0,1584.2 L416.1,1575.9 L417.2,1585.6 L418.3,1576.7 L419.2,1589.1 L420.0,1578.0 L420.8,1588.3 L421.7,1581.2 L422.5,1592.1 L423.3,1583.2 L424.2,1590.7 L425.0,1583.9 L425.8,1593.2 L426.7,1583.9 L427.5,1594.8 L428.3,1585.4 L429.2,1596.3 L430.0,1587.2 L430.8,1598.9 L431.7,1587.8 L432.5,1598.8 L433.3,1588.8 L434.2,1598.4 L435.0,1590.2 L435.8,1600.9 L436.7,1592.1 L437.5,1601.4 L438.3,1593.2 L439.2,1604.1 L440.0,1596.5 L440.8,1604.9 L441.7,1598.2 L442.5,1605.7 L443.3,1596.7 L444.2,1608.0 L445.0,1600.1 L445.8,1608.4 L446.6,1600.6 L447.4,1614.5 L448.1,1601.1 L448.9,1614.0 L449.7,1603.7 L450.4,1612.3 L451.2,1604.8 L451.9,1615.9 L452.7,1605.9 L453.5,1616.7 L454.2,1607.9 L455.0,1618.8 L455.6,1610.5 L456.1,1620.6 L456.6,1611.0 L457.2,1623.6 L457.8,1612.6 L458.3,1624.6 L458.9,1616.2 L459.4,1625.1 L459.9,1618.0 L460.5,1625.6 L460.7,1621.1 L461.0,1627.9 L461.2,1621.7 L461.5,1630.2 L461.7,1623.9 L462.0,1631.7 L462.2,1626.3 L462.5,1634.5 L462.7,1628.8 L462.9,1636.3 L463.2,1627.7 L463.4,1637.5 L463.7,1633.2 L463.9,1639.9 L464.2,1631.9 L464.6,1642.3 L465.0,1633.0 L465.4,1644.1 L465.9,1635.5 L466.3,1651.1 L466.7,1639.7 L467.1,1647.6 L467.6,1640.3 L468.0,1651.5 L468.4,1644.5 L468.8,1656.2 L469.2,1643.8 L469.7,1655.5 L470.6,1646.6 L471.5,1654.0 L472.4,1645.2 L473.3,1652.3 L474.3,1642.5 L475.2,1651.3 L475.6,1639.8 L476.0,1650.0 L476.4,1635.9 L476.9,1647.6 L477.3,1635.7 L477.7,1644.4 L478.1,1636.6 L478.6,1642.3 L479.0,1632.0 L479.4,1641.8 L479.8,1631.8 L480.2,1638.7 L480.7,1628.7 L481.2,1638.7 L481.8,1627.9 L482.3,1636.7 L482.9,1626.5 L483.4,1635.1 L484.0,1623.9 L484.5,1631.0 L485.1,1622.1 L485.6,1629.8 L486.2,1621.4 L487.1,1629.8 L488.0,1618.8 L488.9,1627.6 L489.8,1619.1 L490.8,1627.1 L491.7,1616.4 L492.6,1625.1 L493.5,1617.9 L494.3,1626.5 L495.1,1616.1 L495.9,1623.3 L496.8,1613.1 L497.6,1621.9 L498.4,1612.6 L499.2,1621.4 L500.0,1612.2 L500.8,1619.2 L501.6,1609.6 L502.3,1618.1 L503.0,1608.6 L503.8,1617.6 L504.5,1605.7 L505.2,1616.4 L506.0,1606.7 L506.7,1613.2 L507.4,1605.4 L508.2,1611.4 L508.7,1604.2 L509.3,1610.4 L509.8,1597.9 L510.4,1609.6 L510.9,1600.7 L511.5,1606.7 L512.0,1596.4 L512.6,1608.9 L513.1,1595.5 L513.7,1603.9 L514.0,1595.2 L514.3,1600.6 L514.6,1591.0 L515.0,1598.4 L515.3,1588.6 L515.6,1599.2 L515.9,1588.5 L516.3,1596.2 L516.6,1586.1 L516.9,1592.4 L517.2,1582.5 L517.6,1590.8 L517.9,1581.9 L518.2,1589.1 L518.5,1580.6 L518.8,1591.0 L519.2,1577.7 L519.5,1584.5 L519.8,1575.1 L520.1,1583.4 L520.4,1573.6 L520.7,1582.0 L521.0,1572.1 L521.3,1580.0 L521.6,1570.7 L521.9,1576.9 L522.2,1567.9 L522.5,1574.8 L522.8,1564.1 L523.1,1573.4 L523.4,1564.0 L523.8,1571.4 L524.3,1559.0 L524.9,1570.2 L525.5,1559.7 L526.0,1567.9 L526.6,1558.5 L527.2,1568.2 L527.8,1557.7 L528.3,1564.7 L529.1,1556.5 L529.9,1567.0 L530.7,1558.6 L531.5,1567.0 L532.3,1558.6 L533.0,1569.3 L533.8,1561.4 L534.5,1570.8 L535.2,1563.8 L535.8,1573.4 L536.5,1565.2 L537.2,1576.4 L537.8,1566.9 L538.5,1578.1 L539.2,1566.9 L539.8,1577.5 L540.5,1569.3 L541.2,1580.4 L541.8,1569.0 L542.5,1581.0 L543.2,1573.5 L543.8,1583.9 L544.5,1573.9 L545.2,1584.0 L545.8,1575.0 L546.5,1587.6 L547.2,1575.9 L547.8,1588.2 L548.5,1580.2 L549.3,1590.7 L550.1,1579.6 L550.9,1592.6 L551.8,1582.9 L552.6,1591.1 L553.4,1585.0 L554.2,1593.6 L555.0,1584.7 L555.8,1598.9 L556.6,1587.5 L557.5,1596.8 L558.3,1587.0 L559.1,1597.1 L559.9,1587.6 L560.7,1599.7 L561.5,1590.1 L562.4,1600.1 L563.2,1591.8 L564.0,1601.1 L564.8,1590.0 L565.6,1601.8 L566.4,1594.0 L567.2,1602.0 L568.1,1593.7 L568.9,1605.6 L569.7,1596.6 L570.5,1604.3 L571.3,1596.9 L572.1,1607.6 L572.9,1597.6 L573.6,1607.2 L574.4,1601.2 L575.2,1609.6 L576.0,1601.5 L576.7,1610.7 L577.3,1603.6 L578.0,1612.8 L578.7,1604.9 L579.4,1615.9 L580.0,1611.6 L580.1,1613.3 L580.1,1613.3 L580.1,1615.3 L580.1,1615.7 L580.2,1617.4 L580.2,1617.6 L580.2,1619.3 L580.2,1619.6 L580.3,1621.5 L580.3,1621.6 L580.3,1623.5 L580.3,1623.7 L580.3,1625.3 L580.4,1625.7 L580.4,1627.6 L580.4,1627.7 L580.4,1629.6 L580.5,1629.8 L580.5,1631.9 L580.5,1631.8 L580.5,1633.5 L580.6,1633.7 L580.6,1635.9 L580.6,1635.8 L580.6,1637.4 L580.7,1637.8 L580.7,1639.6 L580.7,1639.8 L580.7,1641.7 L580.8,1641.9 L580.8,1643.7 L580.8,1643.8 L580.8,1645.6 L580.9,1646.0 L580.9,1647.5 L580.9,1647.9 L580.9,1649.7 L581.0,1650.1 L581.0,1651.6 L581.0,1651.9 L581.0,1653.6 L581.1,1654.0 L581.1,1655.7 L581.1,1656.0 L581.1,1657.8 L581.2,1658.1 L581.2,1659.8 L581.2,1660.0 L581.2,1661.7 L581.3,1662.1 L581.3,1663.8 L581.3,1664.0 L581.3,1665.8 L581.4,1666.2 L581.4,1667.8 L581.4,1668.2 L581.4,1669.8 L581.5,1669.9 L581.5,1671.8 L581.5,1669.1 L582.6,1672.6 L582.6,1671.4 L582.6,1670.7 L582.6,1669.3 L582.6,1668.6 L582.7,1667.2 L582.7,1666.6 L582.7,1665.3 L582.7,1664.6 L582.7,1663.2 L582.7,1662.6 L582.7,1661.3 L582.7,1660.6 L582.7,1659.2 L582.8,1658.6 L582.8,1657.1 L582.8,1656.6 L582.8,1655.2 L582.8,1654.5 L582.8,1653.2 L582.8,1652.5 L582.8,1651.2 L582.8,1650.5 L582.9,1649.0 L582.9,1648.5 L582.9,1647.1 L582.9,1646.4 L582.9,1645.2 L582.9,1644.4 L582.9,1643.2 L582.9,1642.4 L582.9,1641.0 L583.0,1640.3 L583.0,1639.0 L583.0,1638.3 L583.0,1637.1 L583.0,1636.3 L583.0,1635.0 L583.0,1634.4 L583.0,1633.0 L583.0,1632.4 L583.1,1631.1 L583.1,1630.4 L583.1,1629.0 L583.1,1628.3 L583.1,1626.9 L583.1,1626.2 L583.1,1624.9 L583.1,1624.3 L583.1,1623.0 L583.2,1622.2 L583.2,1620.8 L583.2,1620.4 L583.2,1618.9 L583.2,1618.2 L583.2,1616.9 L583.2,1616.2 L583.2,1614.8 L583.2,1614.2 L583.2,1612.9 L583.3,1612.2 L583.3,1610.9 L583.3,1610.2 L583.3,1608.8 L583.3,1608.1 L583.3,1606.8 L583.3,1606.2 L583.3,1604.7 L583.3,1604.1 L583.4,1602.8 L583.4,1602.0 L583.4,1600.8 L583.4,1600.0 L583.4,1598.7 L583.4,1598.0 L583.4,1596.7 L583.4,1596.0 L583.4,1594.7 L583.5,1594.0 L583.5,1592.7 L583.5,1592.0 L583.5,1590.7 L583.5,1590.0 L583.5,1588.6 L583.5,1587.9 L583.5,1586.6 L583.5,1585.9 L583.6,1584.6 L583.6,1583.9 L583.6,1582.6 L583.6,1581.9 L583.6,1580.6 L583.6,1579.9 L583.6,1578.4 L583.6,1578.0 L583.6,1576.5 L583.7,1575.8 L583.7,1574.6 L583.7,1573.8 L583.7,1572.5 L583.7,1572.0 L583.7,1570.4 L583.7,1569.9 L583.7,1568.5 L583.7,1567.8 L583.8,1566.5 L583.8,1565.8 L583.8,1564.5 L583.8,1563.8 L583.8,1562.5 L583.8,1561.8 L583.8,1560.4 L583.8,1559.7 L583.9,1558.4 L583.9,1557.8 L583.9,1556.4 L583.9,1555.7 L583.9,1554.4 L583.9,1553.6 L583.9,1552.4 L583.9,1551.7 L584.0,1550.4 L584.0,1549.6 L584.0,1548.4 L584.0,1547.7 L584.0,1546.3 L584.0,1545.7 L584.0,1544.3 L584.0,1543.7 L584.1,1542.2 L584.1,1541.6 L584.1,1540.2 L584.1,1539.6 L584.1,1538.2 L584.1,1537.6 L584.1,1536.2 L584.1,1535.6 L584.1,1534.3 L584.2,1533.5 L584.2,1532.2 L584.2,1531.5 L584.2,1530.2 L584.2,1529.6 L584.2,1528.2 L584.2,1527.7 L584.2,1526.2 L584.3,1525.5 L584.3,1524.2 L584.3,1523.4 L584.3,1522.1 L584.3,1521.4 L584.3,1520.1 L584.3,1519.4 L584.3,1518.1 L584.4,1517.5 L584.4,1516.1 L584.4,1515.5 L584.4,1514.1 L584.4,1513.4 L584.4,1512.1 L584.4,1511.4 L584.4,1510.1 L584.4,1509.4 L584.5,1508.0 L584.5,1507.4 L584.5,1506.1 L584.5,1505.3 L584.5,1504.0 L584.5,1503.4 L584.5,1502.0 L584.5,1501.3 L584.6,1500.0 L584.6,1499.3 L584.6,1498.0 L584.6,1497.3 L584.6,1495.9 L584.6,1495.3 L584.6,1493.9 L584.6,1493.3 L584.7,1491.9 L584.7,1491.2 L584.7,1489.9 L584.7,1489.3 L584.7,1487.9 L584.7,1487.3 L584.7,1485.9 L584.7,1485.2 L584.8,1483.9 L584.8,1483.2 L584.8,1481.8 L584.8,1481.1 L584.8,1479.3 L584.8,1479.7 L584.9,1477.4 L584.9,1477.4 L585.0,1474.9 L585.0,1475.6 L585.0,1473.2 L585.1,1473.4 L585.1,1471.0 L585.2,1471.3 L585.2,1469.2 L585.2,1469.2 L585.3,1467.2 L585.3,1467.2 L585.4,1465.0 L585.4,1465.3 L585.5,1463.1 L585.5,1463.2 L585.5,1461.1 L585.6,1461.1 L585.6,1459.0 L585.7,1459.2 L585.7,1457.0 L585.7,1457.2 L585.8,1455.1 L585.8,1455.3 L585.9,1453.0 L585.9,1453.1 L585.9,1450.8 L586.0,1451.2 L586.0,1449.0 L586.1,1449.1 L586.1,1446.9 L586.1,1447.1 L586.2,1444.8 L586.2,1445.1 L586.3,1442.9 L586.3,1443.4 L586.3,1441.0 L586.4,1441.1 L586.4,1438.9 L586.5,1439.0 L586.5,1436.8 L586.5,1437.0 L586.6,1434.8 L586.6,1439.9 L587.1,1428.5 L587.6,1436.7 L588.1,1427.4 L588.6,1435.3 L589.2,1424.6 L589.7,1434.8 L590.2,1420.1 L590.7,1431.4 L591.3,1421.5 L591.9,1429.2 L592.5,1418.7 L593.1,1429.5 L593.7,1418.6 L594.3,1428.1 L594.9,1413.0 L595.6,1424.1 L596.2,1413.6 L597.3,1425.2 L598.4,1414.1 L599.5,1422.9 L600.6,1412.1 L601.7,1422.1 L602.7,1411.9 L603.7,1420.4 L604.1,1409.7 L604.6,1419.4 L605.0,1409.6 L605.5,1415.2 L606.0,1405.0 L606.4,1414.5 L606.9,1403.6 L607.3,1412.5 L607.9,1403.8 L608.4,1414.5 L609.0,1406.7 L609.5,1417.1 L610.1,1407.5 L610.6,1418.3 L611.2,1411.8 L611.7,1422.9 L612.3,1411.9 L612.8,1422.5 L613.4,1414.2 L614.1,1425.1 L614.7,1415.5 L615.3,1425.9 L615.9,1417.0 L616.5,1428.7 L617.1,1419.6 L617.7,1430.0 L618.3,1420.3 L618.7,1429.9 L619.1,1421.9 L619.4,1434.1 L619.8,1425.3 L620.2,1434.0 L620.5,1427.8 L620.9,1436.0 L621.3,1428.7 L621.6,1437.9 L622.0,1429.3 L622.4,1439.3 L622.7,1432.6 L623.1,1443.0 L623.5,1433.3 L623.8,1445.6 L624.2,1435.5 L624.5,1445.4 L624.8,1438.3 L625.1,1446.5 L625.4,1440.5 L625.8,1448.9 L626.1,1443.1 L626.4,1453.0 L626.7,1440.8 L627.1,1455.0 L627.4,1444.8 L627.7,1455.3 L628.0,1448.5 L628.4,1456.8 L628.7,1449.1 L629.0,1458.4 L629.3,1452.5 L629.6,1460.4 L629.9,1455.4 L630.2,1462.3 L630.4,1455.2 L630.7,1465.8 L631.0,1459.0 L631.3,1467.9 L631.5,1461.7 L631.8,1469.8 L632.1,1462.0 L632.4,1471.0 L632.6,1464.2 L632.9,1473.8 L633.2,1466.6 L633.5,1474.0 L633.7,1469.2 L634.0,1477.4 L634.3,1471.4 L634.6,1478.9 L634.8,1470.9 L635.0,1479.7 L635.2,1475.6 L635.4,1481.3 L635.6,1478.2 L635.8,1483.8 L636.1,1479.1 L636.3,1485.6 L636.5,1482.6 L636.7,1487.4 L636.9,1483.8 L637.1,1491.1 L637.3,1486.8 L637.5,1493.2 L637.7,1488.3 L637.9,1493.8 L638.1,1489.9 L638.3,1497.1 L638.5,1491.6 L638.7,1498.2 L638.9,1494.5 L639.1,1500.8 L639.3,1496.9 L639.5,1501.8 L639.7,1498.0 L639.9,1505.3 L640.1,1500.8 L640.3,1506.1 L640.5,1501.9 L640.7,1508.8 L640.9,1504.9 L641.2,1511.3 L641.4,1506.4 L641.6,1513.3 L641.8,1508.8 L642.0,1515.4 L642.2,1510.3 L642.4,1517.4 L642.6,1511.9 L642.8,1519.0 L643.0,1514.1 L643.2,1521.8 L643.4,1516.5 L643.6,1525.0 L643.8,1518.0 L644.0,1525.4 L644.2,1520.1 L644.4,1526.5 L644.6,1522.5 L644.8,1529.7 L645.0,1524.9 L645.2,1532.1 L645.4,1526.4 L645.6,1533.8 L645.8,1526.8 L646.1,1534.6 L646.3,1529.6 L646.6,1536.9 L646.8,1532.5 L647.1,1541.0 L647.3,1533.2 L647.5,1542.2 L647.8,1536.2 L648.0,1543.5 L648.3,1537.0 L648.5,1547.6 L648.8,1539.4 L649.0,1546.4 L649.3,1542.4 L649.5,1549.7 L649.7,1543.9 L650.0,1550.2 L650.2,1545.7 L650.5,1553.1 L650.7,1547.7 L651.0,1554.6 L651.2,1548.8 L651.5,1556.2 L651.7,1550.4 L651.9,1559.9 L652.2,1554.1 L652.4,1560.2 L652.7,1556.5 L652.9,1563.3 L653.2,1557.9 L653.5,1566.8 L653.7,1557.5 L654.0,1566.3 L654.3,1561.3 L654.6,1570.7 L654.9,1564.0 L655.1,1571.5 L655.4,1562.9 L655.7,1573.6 L656.0,1563.7 L656.3,1576.0 L656.5,1568.7 L656.8,1577.0 L657.1,1569.9 L657.4,1579.1 L657.7,1572.1 L658.0,1580.5 L658.2,1575.8 L658.5,1582.0 L658.8,1572.7 L659.1,1586.6 L659.4,1577.7 L659.7,1588.1 L659.9,1581.7 L660.2,1589.0 L660.5,1580.2 L660.9,1591.5 L661.3,1582.2 L661.8,1592.9 L662.2,1585.7 L662.6,1595.3 L663.0,1588.8 L663.5,1599.4 L663.9,1588.0 L664.3,1598.9 L664.7,1592.6 L665.2,1601.4 L665.6,1592.7 L666.0,1603.9 L666.4,1595.0 L666.8,1604.9 L667.3,1597.8 L667.7,1608.8 L668.1,1600.6 L668.5,1608.3 L669.0,1600.7 L669.4,1610.8 L669.8,1604.5 L670.2,1612.2 L670.7,1606.6 L671.1,1617.2 L671.5,1606.2 L671.9,1616.8 L672.2,1606.8 L672.6,1619.0 L673.0,1612.2 L673.3,1621.7 L673.7,1609.7 L674.1,1622.9 L674.4,1614.8 L674.8,1624.9 L675.2,1616.9 L675.5,1627.6 L675.9,1618.2 L676.3,1630.8 L676.6,1619.5 L677.0,1631.4 L678.1,1621.7 L679.2,1631.9 L680.3,1623.0 L681.4,1631.7 L682.5,1624.7 L683.6,1633.5 L684.7,1622.3 L685.8,1635.0 L686.9,1623.3 L688.0,1629.9 L688.8,1618.9 L689.6,1631.6 L690.4,1621.0 L691.3,1630.2 L692.1,1615.2 L692.9,1627.5 L693.7,1613.9 L694.5,1627.3 L695.3,1617.9 L696.4,1624.2 L697.4,1614.4 L698.5,1626.9 L699.5,1615.3 L700.6,1625.6 L701.6,1614.8 L702.7,1624.0 L703.5,1613.7 L704.3,1623.1 L705.1,1612.7 L705.9,1621.0 L706.7,1610.5 L707.6,1619.9 L708.4,1611.8 L709.2,1619.7 L710.0,1609.8 L710.9,1618.8 L711.8,1607.6 L712.7,1618.1 L713.7,1608.3 L714.6,1614.8 L715.5,1605.5 L716.4,1615.2 L717.3,1605.9 L718.1,1613.4 L719.0,1605.1 L719.8,1612.0 L720.6,1601.9 L721.4,1610.7 L722.2,1603.4 L723.0,1610.1 L723.9,1600.1 L724.7,1608.3 L725.1,1599.2 L725.5,1606.8 L725.9,1598.2 L726.4,1604.9 L726.8,1596.5 L727.2,1602.0 L727.6,1592.3 L728.1,1606.5 L728.5,1591.3 L728.9,1598.5 L729.3,1588.5 L729.7,1598.0 L730.2,1588.3 L730.6,1596.3 L731.1,1580.9 L731.5,1598.5 L732.0,1584.2 L732.5,1591.9 L732.9,1582.6 L733.4,1589.1 L733.8,1580.6 L734.3,1587.1 L734.8,1576.9 L735.2,1590.3 L735.7,1576.3 L736.6,1584.7 L737.5,1574.9 L738.4,1582.6 L739.3,1569.2 L740.3,1582.9 L741.2,1570.9 L741.9,1583.7 L742.6,1575.1 L743.4,1585.5 L744.1,1572.0 L744.8,1586.1 L745.6,1572.6 L746.3,1587.4 L747.0,1577.3 L747.8,1589.4 L748.5,1578.6 L749.5,1590.9 L750.6,1579.7 L751.6,1589.2 L752.7,1579.3 L753.7,1591.9 L754.8,1580.3 L755.8,1591.2 L756.7,1580.5 L757.7,1593.4 L758.6,1582.7 L759.5,1592.1 L760.4,1584.5 L761.3,1593.8 L762.3,1584.2 L763.2,1595.3 L764.0,1584.4 L764.8,1596.9 L765.6,1587.0 L766.4,1597.7 L767.2,1587.3 L768.1,1599.7 L768.9,1591.2 L769.7,1600.9 L770.5,1590.4 L771.0,1599.8 L771.6,1594.0 L772.1,1602.6 L772.7,1594.6 L773.2,1603.6 L773.8,1595.9 L774.4,1607.1 L774.9,1599.3 L775.5,1607.7 L776.0,1599.2 L776.7,1610.9 L777.3,1602.9 L778.0,1610.6 L778.7,1603.6 L779.3,1613.3 L780.0,1603.5 L780.7,1614.1 L781.3,1605.8 L782.0,1618.0 L782.7,1609.9 L783.3,1617.4 L783.6,1611.3 L783.9,1619.8 L784.2,1612.6 L784.5,1621.6 L784.7,1615.0 L785.0,1622.3 L785.3,1617.5 L785.6,1624.6 L785.9,1618.2 L786.2,1628.5 L786.4,1620.2 L786.7,1630.2 L787.0,1621.2 L787.4,1633.5 L787.7,1624.5 L788.1,1633.7 L788.5,1624.6 L788.8,1634.7 L789.2,1628.0 L789.6,1639.6 L789.9,1631.0 L790.3,1641.6 L790.7,1631.5 L791.0,1642.8 L791.4,1635.1 L791.8,1648.0 L792.1,1635.2 L792.5,1647.5 L793.6,1636.1 L794.7,1644.3 L795.8,1636.6 L796.9,1643.6 L798.0,1634.9 L798.7,1644.0 L799.3,1634.0 L800.0,1639.7 L800.6,1631.7 L801.2,1638.1 L801.8,1629.6 L802.3,1636.4 L802.9,1625.6 L803.5,1637.1 L804.5,1625.2 L805.5,1632.8 L806.4,1625.2 L807.3,1634.6 L808.2,1624.4 L809.1,1632.1 L809.9,1620.7 L810.8,1629.6 L811.0,1620.6 L811.9,1631.1 L812.8,1622.4 L813.7,1633.6 L814.7,1622.1 L815.6,1632.0 L816.5,1623.9 L817.4,1635.5 L818.3,1624.0 L820.0,1635.1 L821.1,1626.4 L822.3,1634.7 L823.4,1625.2 L824.5,1633.5 L825.7,1622.9 L826.6,1631.9 L827.5,1622.5 L828.4,1631.5 L829.3,1621.0 L830.3,1629.6 L831.2,1621.6 L832.1,1630.9 L833.0,1621.2 L833.4,1627.4 L833.8,1618.7 L834.2,1626.1 L834.6,1615.5 L835.0,1625.6 L835.4,1613.9 L835.9,1622.0 L836.3,1611.1 L836.7,1618.0 L836.8,1613.2 L836.9,1614.8 L837.1,1610.9 L837.2,1613.8 L837.3,1609.1 L837.5,1611.0 L837.6,1606.9 L837.7,1609.0 L837.8,1604.6 L838.0,1606.5 L838.1,1603.0 L838.2,1604.7 L838.4,1600.9 L838.5,1605.1 L838.8,1595.4 L839.1,1602.1 L839.3,1594.0 L839.6,1602.1 L839.9,1592.6 L840.2,1600.2 L840.5,1591.1 L840.8,1597.8 L841.0,1586.0 L841.3,1593.7 L841.6,1586.1 L841.9,1592.2 L842.2,1583.5 L842.6,1591.6 L843.1,1580.7 L843.5,1589.8 L844.0,1578.9 L844.5,1588.9 L844.9,1575.0 L845.4,1585.4 L845.8,1576.9 L846.3,1584.5 L846.8,1573.7 L847.5,1583.8 L848.2,1576.4 L848.9,1584.7 L849.6,1578.8 L850.3,1586.6 L851.0,1579.3 L851.7,1589.5 L852.5,1580.8 L853.2,1590.9 L853.7,1582.6 L854.3,1594.1 L854.9,1584.5 L855.4,1595.0 L856.0,1584.4 L856.6,1594.9 L857.1,1589.1 L857.7,1597.3 L858.2,1589.3 L858.8,1598.9 L859.4,1591.1 L859.9,1600.3 L860.5,1592.1 L861.2,1604.1 L861.8,1592.8 L862.5,1603.5 L863.2,1592.9 L863.8,1606.0 L864.5,1599.3 L865.2,1606.5 L865.8,1599.6 L866.5,1609.1 L867.2,1601.8 L867.8,1609.7 L868.6,1602.3 L869.4,1612.9 L870.1,1605.2 L870.9,1612.9 L871.7,1605.2 L872.4,1617.2 L873.2,1605.6 L873.9,1617.8 L874.7,1608.7 L875.5,1619.2 L876.2,1610.9 L877.0,1620.2 L877.8,1611.5 L878.7,1622.8 L879.5,1609.2 L880.3,1624.3 L881.2,1612.7 L882.0,1623.7 L882.8,1616.5 L883.7,1626.2 L884.5,1617.4 L885.3,1628.2 L886.2,1619.4 L886.9,1629.5 L887.6,1621.4 L888.4,1628.9 L889.1,1620.9 L889.8,1631.5 L890.6,1622.6 L891.3,1633.6 L892.0,1624.7 L892.8,1635.2 L893.5,1626.2 L894.0,1637.4 L894.6,1628.8 L895.1,1636.4 L895.7,1629.7 L896.2,1641.4 L896.8,1630.1 L897.4,1641.9 L897.9,1631.8 L898.5,1643.8 L899.0,1634.9 L900.0,1645.7 L900.5,1637.8 L901.0,1647.3 L901.6,1638.1 L902.1,1650.6 L902.6,1642.2 L903.1,1651.6 L903.7,1641.0 L904.5,1653.3 L905.0,1646.6 L905.4,1658.9 L905.9,1648.0 L906.4,1656.1 L906.9,1648.8 L907.3,1660.8 L908.2,1651.9 L908.9,1660.8 L909.7,1648.7 L910.5,1662.2 L911.3,1650.1 L912.1,1656.4 L912.8,1645.3 L913.7,1654.5 L914.4,1644.3 L915.2,1655.2 L916.0,1643.4 L916.8,1651.3 L917.6,1642.7 L918.3,1652.1 L919.2,1637.5 L920.1,1648.2 L921.0,1635.9 L922.0,1648.4 L922.9,1639.0 L923.8,1649.2 L925.0,1639.2 L926.1,1647.3 L927.2,1637.6 L928.3,1646.8 L929.8,1634.1 L931.2,1645.6 L932.3,1638.0 L933.4,1649.2 L934.5,1637.3 L935.6,1645.5 L936.7,1635.4 L937.5,1645.8 L938.0,1634.0 L938.5,1643.3 L939.1,1631.9 L939.6,1641.1 L940.1,1628.0 L940.6,1640.4 L941.1,1627.8 L941.7,1637.3 L942.2,1626.3 L943.0,1633.3 L943.3,1624.7 L943.6,1634.0 L944.0,1621.7 L944.3,1629.1 L944.6,1619.9 L944.9,1629.6 L945.2,1618.2 L945.5,1625.2 L945.9,1617.1 L946.3,1624.8 L946.7,1615.5 L947.0,1621.0 L947.2,1612.1 L947.5,1618.9 L947.8,1609.9 L948.1,1616.1 L948.4,1608.3 L948.7,1616.6 L948.9,1607.6 L949.2,1614.5 L949.5,1604.7 L949.9,1610.4 L950.3,1601.0 L950.8,1608.4 L951.3,1598.3 L951.8,1608.6 L952.2,1597.1 L952.7,1607.4 L953.2,1595.5 L953.7,1604.3 L954.2,1594.5 L954.8,1603.0 L955.3,1591.0 L955.8,1601.4 L956.9,1589.7 L957.6,1600.3 L958.3,1591.8 L959.1,1603.0 L959.8,1592.5 L960.6,1604.5 L961.3,1596.5 L962.4,1605.9 L963.1,1598.5 L963.8,1607.9 L964.5,1600.0 L965.2,1608.5 L965.9,1601.4 L966.6,1612.7 L967.3,1604.1 L968.0,1611.8 L968.7,1600.9 L969.7,1614.6 L970.6,1606.0 L971.5,1614.7 L972.4,1605.5 L973.3,1617.4 L974.2,1607.5 L975.1,1616.8 L976.0,1609.6 L977.0,1618.3 L977.8,1611.5 L978.7,1623.3 L979.5,1610.8 L980.3,1620.6 L981.1,1613.4 L981.9,1623.1 L982.7,1616.2 L983.5,1626.0 L984.4,1616.2 L985.2,1627.0 L985.9,1617.0 L986.6,1626.1 L987.3,1618.7 L988.1,1627.3 L988.8,1619.1 L989.5,1629.7 L990.2,1619.3 L991.0,1630.5 L991.7,1624.1 L992.6,1633.6 L993.5,1625.4 L994.3,1634.2 L995.1,1624.9 L995.9,1635.9 L996.7,1624.4 L997.5,1635.6 L998.2,1626.7 L999.0,1637.9 L999.9,1630.0 L1000.8,1638.1 L1001.7,1629.9 L1002.6,1640.6 L1003.5,1632.2 L1004.5,1639.9 L1005.4,1633.3 L1006.4,1643.4 L1007.0,1633.6 L1007.7,1643.9 L1008.3,1635.2 L1009.0,1647.2 L1009.7,1637.5 L1010.4,1647.5 L1011.2,1638.6 L1011.9,1651.2 L1012.4,1641.9 L1012.9,1651.4 L1013.4,1644.0 L1014.0,1653.9 L1014.5,1645.4 L1015.0,1656.3 L1015.5,1643.9 L1015.9,1657.4 L1016.4,1651.0 L1016.9,1660.5 L1017.4,1650.7 L1017.9,1662.7 L1018.4,1652.3 L1018.9,1664.0 L1019.5,1656.3 L1020.0,1666.4 L1020.5,1656.5 L1021.0,1666.5 L1021.4,1659.6 L1021.9,1671.1 L1022.4,1661.6 L1022.9,1672.3 L1023.7,1663.3 L1024.5,1671.7 L1025.2,1664.7 L1026.0,1675.9 L1026.8,1667.2 L1027.6,1675.4 L1028.4,1668.9 L1029.2,1674.9 L1030.0,1663.0 L1030.7,1675.3 L1031.5,1665.7 L1032.3,1673.3 L1033.1,1662.0 L1033.9,1673.0 L1034.3,1663.0 L1034.7,1670.0 L1035.1,1659.6 L1035.6,1668.9 L1036.0,1656.1 L1036.4,1667.2 L1036.8,1655.3 L1037.3,1662.4 L1037.7,1652.3 L1038.1,1660.6 L1038.5,1652.5 L1039.0,1658.4 L1039.4,1649.2 L1040.2,1657.6 L1041.0,1646.5 L1041.7,1656.7 L1042.5,1646.1 L1043.3,1655.9 L1044.1,1646.3 L1044.9,1652.8 L1045.8,1642.2 L1046.7,1651.6 L1047.6,1642.5 L1048.6,1654.3 L1049.5,1640.7 L1050.4,1649.5 L1051.3,1639.9 L1052.2,1648.6 L1053.0,1640.5 L1053.9,1647.4 L1054.7,1637.9 L1055.5,1646.1 L1056.3,1637.2 L1057.1,1646.0 L1057.9,1632.5 L1058.7,1645.2 L1059.6,1633.6 L1060.3,1644.5 L1061.1,1631.6 L1061.9,1641.5 L1062.7,1631.2 L1063.5,1639.4 L1064.3,1628.8 L1065.1,1636.9 L1065.3,1630.7 L1065.5,1634.0 L1065.6,1628.5 L1065.8,1632.6 L1066.0,1624.4 L1066.2,1630.5 L1066.4,1624.8 L1066.6,1627.6 L1066.8,1621.6 L1067.0,1626.3 L1067.2,1620.5 L1067.4,1624.4 L1067.6,1618.2 L1067.8,1621.1 L1068.0,1616.7 L1068.1,1618.9 L1068.3,1612.7 L1068.4,1616.6 L1068.6,1612.0 L1068.7,1615.2 L1068.9,1610.4 L1069.0,1612.6 L1069.2,1607.2 L1069.3,1611.3 L1069.5,1605.2 L1069.6,1606.6" fill="none" stroke="#dc7733" stroke-width="7" stroke-linejoin="round" stroke-linecap="round"/>
<path d="M186.8,1371 H199.8 V1691 H1082.5 V1371 H1095.5" fill="none" stroke="#000" stroke-width="4.2" stroke-linejoin="round"/>
<line x1="186.8" y1="1477.7" x2="199.8" y2="1477.7" stroke="#000" stroke-width="4.2"/>
<line x1="1082.5" y1="1477.7" x2="1095.5" y2="1477.7" stroke="#000" stroke-width="4.2"/>
<line x1="186.8" y1="1584.3" x2="199.8" y2="1584.3" stroke="#000" stroke-width="4.2"/>
<line x1="1082.5" y1="1584.3" x2="1095.5" y2="1584.3" stroke="#000" stroke-width="4.2"/>
<line x1="186.8" y1="1691.0" x2="199.8" y2="1691.0" stroke="#000" stroke-width="4.2"/>
<line x1="1082.5" y1="1691.0" x2="1095.5" y2="1691.0" stroke="#000" stroke-width="4.2"/>
<line x1="199.8" y1="1691" x2="199.8" y2="1701" stroke="#000" stroke-width="4.2"/>
<line x1="376.3" y1="1691" x2="376.3" y2="1701" stroke="#000" stroke-width="4.2"/>
<line x1="552.9" y1="1691" x2="552.9" y2="1701" stroke="#000" stroke-width="4.2"/>
<line x1="729.4" y1="1691" x2="729.4" y2="1701" stroke="#000" stroke-width="4.2"/>
<line x1="906.0" y1="1691" x2="906.0" y2="1701" stroke="#000" stroke-width="4.2"/>
<line x1="1082.5" y1="1691" x2="1082.5" y2="1701" stroke="#000" stroke-width="4.2"/>
<text transform="translate(181.3,1388.2) scale(1,1.02)" font-size="42" text-anchor="end" fill="#231f20" font-family="Liberation Sans, sans-serif">100</text>
<text transform="translate(181.3,1492.2) scale(1,1.02)" font-size="42" text-anchor="end" fill="#231f20" font-family="Liberation Sans, sans-serif">80</text>
<text transform="translate(181.3,1596.2) scale(1,1.02)" font-size="42" text-anchor="end" fill="#231f20" font-family="Liberation Sans, sans-serif">60</text>
<text transform="translate(181.3,1699.2) scale(1,1.02)" font-size="42" text-anchor="end" fill="#231f20" font-family="Liberation Sans, sans-serif">40</text>
<text transform="translate(1102,1388.7) scale(1,1.02)" font-size="42" fill="#231f20" font-family="Liberation Sans, sans-serif">0.55</text>
<text transform="translate(1102,1497.7) scale(1,1.02)" font-size="42" fill="#231f20" font-family="Liberation Sans, sans-serif">0.53</text>
<text transform="translate(1102,1601.7) scale(1,1.02)" font-size="42" fill="#231f20" font-family="Liberation Sans, sans-serif">0.51</text>
<text transform="translate(1102,1705.2) scale(1,1.02)" font-size="42" fill="#231f20" font-family="Liberation Sans, sans-serif">0.49</text>
<text transform="translate(208.0,1738.6) scale(1,1.02)" font-size="42" text-anchor="middle" fill="#231f20" font-family="Liberation Sans, sans-serif">0</text>
<text transform="translate(377.2,1738.6) scale(1,1.02)" font-size="42" text-anchor="middle" fill="#231f20" font-family="Liberation Sans, sans-serif">5</text>
<text transform="translate(553.5,1738.6) scale(1,1.02)" font-size="42" text-anchor="middle" fill="#231f20" font-family="Liberation Sans, sans-serif">10</text>
<text transform="translate(728.5,1738.6) scale(1,1.02)" font-size="42" text-anchor="middle" fill="#231f20" font-family="Liberation Sans, sans-serif">15</text>
<text transform="translate(906.1,1738.6) scale(1,1.02)" font-size="42" text-anchor="middle" fill="#231f20" font-family="Liberation Sans, sans-serif">20</text>
<text transform="translate(1078.0,1738.6) scale(1,1.02)" font-size="42" text-anchor="middle" fill="#231f20" font-family="Liberation Sans, sans-serif">25</text>
<text transform="translate(636.7,1789.7) scale(1.016,1)" font-size="42" text-anchor="middle" fill="#231f20" font-family="Liberation Sans, sans-serif">Time (h)</text>
<text transform="translate(95.6,1527.9) rotate(-90) scale(0.97,1.02)" font-size="43" text-anchor="middle" fill="#231f20" font-family="Liberation Sans, sans-serif">O<tspan font-size="27" dy="12">2</tspan><tspan dy="-12"> saturation (%)</tspan></text>
<text transform="translate(1207.4,1533) rotate(90)" font-size="42" text-anchor="middle" fill="#231f20" font-family="Liberation Sans, sans-serif">425 nm / 488 nm</text>
<text transform="translate(597.15,1339.8) scale(1.018,1)" font-size="33" text-anchor="middle" fill="#231f20" font-family="Liberation Sans, sans-serif">2 mM Diamide</text>
<line x1="582.3" y1="1348.8" x2="582.3" y2="1382.4" stroke="#222" stroke-width="4.1"/>
<path d="M572.0,1377.6000000000001 L582.3,1381.0 L592.5999999999999,1377.6000000000001 L582.3,1401.5 Z" fill="#2a2a2a"/>
</svg></body></html>
